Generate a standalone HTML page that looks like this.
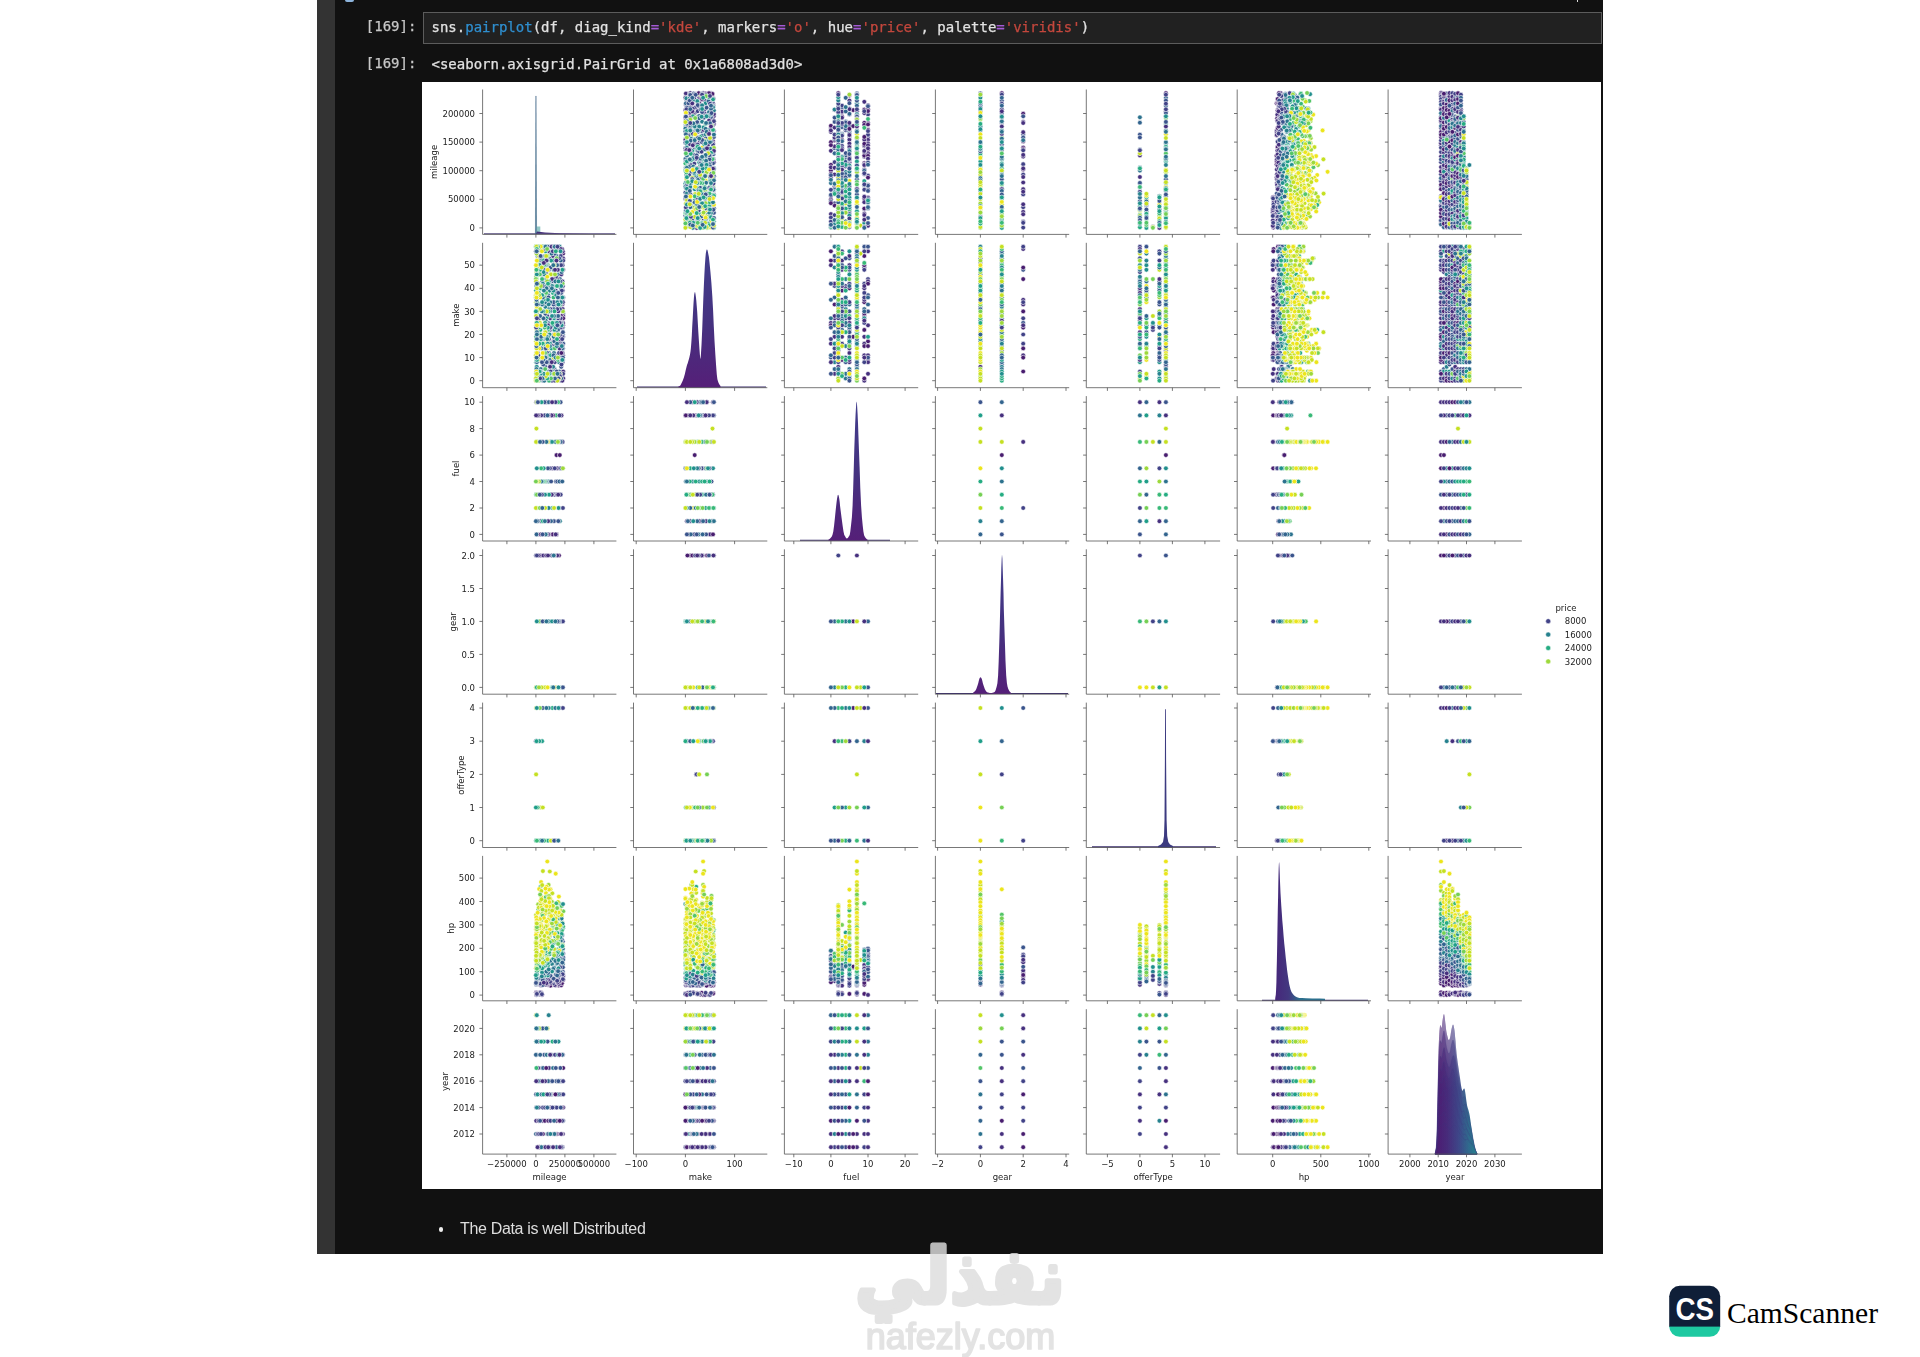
<!DOCTYPE html>
<html lang="en"><head><meta charset="utf-8"><title>pairplot</title>
<style>
html,body{margin:0;padding:0;background:#fff}
body{width:1920px;height:1357px;position:relative;overflow:hidden;font-family:"Liberation Sans",sans-serif}
#frame{position:absolute;left:317px;top:0;width:1286px;height:1254px;background:#111}
#strip{position:absolute;left:0;top:0;width:18.2px;height:1254px;background:#333}
#wdot{position:absolute;left:1259.6px;top:0;width:1.6px;height:2.2px;background:#ddd}
#bluetab{position:absolute;left:28.4px;top:0;width:8.4px;height:1.6px;background:#8db4dc;border-radius:0 0 2px 2px}
.mono{font-family:"DejaVu Sans Mono","Liberation Mono",monospace;font-size:14px;line-height:18px;white-space:pre;color:#e2e2e2;-webkit-text-stroke:.25px currentColor}
.bl{filter:blur(.35px)}
#p1{position:absolute;left:48.8px;top:16.8px;color:#c8c8c8}
#p2{position:absolute;left:48.8px;top:54.4px;color:#c8c8c8}
#code{position:absolute;left:105.5px;top:12px;width:1177px;height:30px;border:1px solid #5c5c5c;background:#212121;box-sizing:content-box}
#code span.t{position:absolute;left:8px;top:5.4px}
.f{color:#2f8fd0}.o{color:#a45bd6}.s{color:#c4473d}
#out{position:absolute;left:114.5px;top:55px}
#plotwrap{position:absolute;left:105px;top:82px;width:1179.4px;height:1106.5px;background:#fff;overflow:hidden}
#plot{position:absolute;left:0;top:0;display:block;filter:blur(.55px)}
#md{position:absolute;left:143px;top:1219px;color:#dedede;font-size:16px;letter-spacing:-.33px;line-height:20px;white-space:nowrap}
#bul{position:absolute;left:121.6px;top:1227.4px;width:4.2px;height:4.2px;border-radius:50%;background:#eee}
#wm{position:absolute;left:820px;top:1225px;width:280px;height:132px;overflow:visible}
#cs{position:absolute;left:1660px;top:1280px}
</style></head><body>
<div id="frame">
 <div id="strip"></div><div id="bluetab"></div><div id="wdot"></div>
 <div id="p1" class="mono bl">[169]:</div>
 <div id="code" class="mono"><span class="t bl">sns.<span class="f">pairplot</span>(df, diag_kind<span class="o">=</span><span class="s">'kde'</span>, markers<span class="o">=</span><span class="s">'o'</span>, hue<span class="o">=</span><span class="s">'price'</span>, palette<span class="o">=</span><span class="s">'viridis'</span>)</span></div>
 <div id="p2" class="mono bl">[169]:</div>
 <div id="out" class="mono bl">&lt;seaborn.axisgrid.PairGrid at 0x1a6808ad3d0&gt;</div>
 <div id="plotwrap"><svg id="plot" width="1180" height="1107" viewBox="422 82 1180 1107">
<defs><marker id="m0" markerWidth="8" markerHeight="8" refX="4" refY="4" markerUnits="userSpaceOnUse"><circle cx="4" cy="4" r="2.35" fill="#481d6f" stroke="#fff" stroke-width=".6"/></marker><marker id="m1" markerWidth="8" markerHeight="8" refX="4" refY="4" markerUnits="userSpaceOnUse"><circle cx="4" cy="4" r="2.35" fill="#46307e" stroke="#fff" stroke-width=".6"/></marker><marker id="m2" markerWidth="8" markerHeight="8" refX="4" refY="4" markerUnits="userSpaceOnUse"><circle cx="4" cy="4" r="2.35" fill="#414287" stroke="#fff" stroke-width=".6"/></marker><marker id="m3" markerWidth="8" markerHeight="8" refX="4" refY="4" markerUnits="userSpaceOnUse"><circle cx="4" cy="4" r="2.35" fill="#3a548c" stroke="#fff" stroke-width=".6"/></marker><marker id="m4" markerWidth="8" markerHeight="8" refX="4" refY="4" markerUnits="userSpaceOnUse"><circle cx="4" cy="4" r="2.35" fill="#32648e" stroke="#fff" stroke-width=".6"/></marker><marker id="m5" markerWidth="8" markerHeight="8" refX="4" refY="4" markerUnits="userSpaceOnUse"><circle cx="4" cy="4" r="2.35" fill="#2c728e" stroke="#fff" stroke-width=".6"/></marker><marker id="m6" markerWidth="8" markerHeight="8" refX="4" refY="4" markerUnits="userSpaceOnUse"><circle cx="4" cy="4" r="2.35" fill="#26818e" stroke="#fff" stroke-width=".6"/></marker><marker id="m7" markerWidth="8" markerHeight="8" refX="4" refY="4" markerUnits="userSpaceOnUse"><circle cx="4" cy="4" r="2.35" fill="#218f8d" stroke="#fff" stroke-width=".6"/></marker><marker id="m8" markerWidth="8" markerHeight="8" refX="4" refY="4" markerUnits="userSpaceOnUse"><circle cx="4" cy="4" r="2.35" fill="#1f9e89" stroke="#fff" stroke-width=".6"/></marker><marker id="m9" markerWidth="8" markerHeight="8" refX="4" refY="4" markerUnits="userSpaceOnUse"><circle cx="4" cy="4" r="2.35" fill="#25ac82" stroke="#fff" stroke-width=".6"/></marker><marker id="m10" markerWidth="8" markerHeight="8" refX="4" refY="4" markerUnits="userSpaceOnUse"><circle cx="4" cy="4" r="2.35" fill="#38b977" stroke="#fff" stroke-width=".6"/></marker><marker id="m11" markerWidth="8" markerHeight="8" refX="4" refY="4" markerUnits="userSpaceOnUse"><circle cx="4" cy="4" r="2.35" fill="#54c568" stroke="#fff" stroke-width=".6"/></marker><marker id="m12" markerWidth="8" markerHeight="8" refX="4" refY="4" markerUnits="userSpaceOnUse"><circle cx="4" cy="4" r="2.35" fill="#75d054" stroke="#fff" stroke-width=".6"/></marker><marker id="m13" markerWidth="8" markerHeight="8" refX="4" refY="4" markerUnits="userSpaceOnUse"><circle cx="4" cy="4" r="2.35" fill="#9dd93b" stroke="#fff" stroke-width=".6"/></marker><marker id="m14" markerWidth="8" markerHeight="8" refX="4" refY="4" markerUnits="userSpaceOnUse"><circle cx="4" cy="4" r="2.35" fill="#c5e021" stroke="#fff" stroke-width=".6"/></marker><marker id="m15" markerWidth="8" markerHeight="8" refX="4" refY="4" markerUnits="userSpaceOnUse"><circle cx="4" cy="4" r="2.35" fill="#ece51b" stroke="#fff" stroke-width=".6"/></marker></defs>
<style>.m0{marker:url(#m0)}.m1{marker:url(#m1)}.m2{marker:url(#m2)}.m3{marker:url(#m3)}.m4{marker:url(#m4)}.m5{marker:url(#m5)}.m6{marker:url(#m6)}.m7{marker:url(#m7)}.m8{marker:url(#m8)}.m9{marker:url(#m9)}.m10{marker:url(#m10)}.m11{marker:url(#m11)}.m12{marker:url(#m12)}.m13{marker:url(#m13)}.m14{marker:url(#m14)}.m15{marker:url(#m15)} polyline{fill:none;stroke:none} #plot text{font-family:"DejaVu Sans","Liberation Sans",sans-serif;font-size:8.5px;fill:#222}</style>
<defs>
<linearGradient id="gv" x1="0" y1="0" x2="0" y2="1"><stop offset="0" stop-color="#413d8c"/><stop offset=".55" stop-color="#45317f"/><stop offset="1" stop-color="#551f78"/></linearGradient>
<linearGradient id="gy" gradientUnits="userSpaceOnUse" x1="1437" y1="0" x2="1477" y2="0"><stop offset="0" stop-color="#4b1c72"/><stop offset=".25" stop-color="#472a7a"/><stop offset=".55" stop-color="#3d4788"/><stop offset=".8" stop-color="#2f6a8d"/><stop offset="1" stop-color="#26838e"/></linearGradient>
<linearGradient id="gw" gradientUnits="userSpaceOnUse" x1="0" y1="1010" x2="0" y2="1155"><stop offset="0" stop-color="#fff" stop-opacity=".46"/><stop offset=".3" stop-color="#fff" stop-opacity=".3"/><stop offset=".55" stop-color="#fff" stop-opacity=".06"/><stop offset="1" stop-color="#fff" stop-opacity="0"/></linearGradient>
<linearGradient id="gh" gradientUnits="userSpaceOnUse" x1="1275" y1="0" x2="1300" y2="0"><stop offset="0" stop-color="#46267a"/><stop offset=".55" stop-color="#433880"/><stop offset="1" stop-color="#2c6f8d"/></linearGradient>
</defs>
<path d="M484 233.8H615" stroke="#3a2d6c" stroke-width=".9" fill="none"/>
<path d="M535.4 233.8L535.8 96L536.1 96L536.6 233.8Z" fill="#2f6a86" stroke="#3a5a80" stroke-width=".35"/>
<path d="M536.6 233.8V226.5H540.3V233.8Z" fill="#3a9a98" fill-opacity=".55"/>
<path d="M536 233.8L537 231.6L545 232.4L560 233.2L590 233.8Z" fill="#452f78"/>
<path d="M637 387H766" stroke="#3a2d6c" stroke-width="1.1" fill="none"/>
<path d="M678.5 387.5L678.5 386.3L679 386.3L679.7 386.1L680.5 385.2L681.5 383.3L682.7 380.7L683.8 377.7L684.8 374.2L685.7 370.3L686.5 367L687.1 364.8L687.7 363.3L688.2 361.5L688.8 359.4L689.4 357.2L690 354.5L690.5 351.5L690.9 348L691.3 343L691.8 335.6L692.2 326.8L692.7 318.4L693.1 310.8L693.5 303.6L693.9 298L694.2 294.6L694.6 292.7L694.9 292.1L695.2 292.6L695.5 294.2L695.9 297L696.3 300.6L696.7 305.4L697.2 311.7L697.7 320.7L698.3 331.4L698.9 340.8L699.4 348.6L699.9 355.1L700.3 358.7L700.6 358.2L700.9 354.8L701.2 350L701.5 345L701.8 338.6L702.2 329.6L702.7 315.8L703.3 299.3L703.9 284.8L704.4 273.9L704.9 264.9L705.4 258L705.8 253.4L706.3 250.8L706.7 249.5L707.1 249.4L707.6 250.6L708 252.5L708.4 254.4L708.9 257.1L709.5 262.4L710.4 271.4L711.4 283.1L712.3 296L713.1 310.5L713.8 326.3L714.5 340.8L715.3 353.8L716.1 365.5L716.8 374.4L717.4 379.2L717.9 381.1L718.4 382.5L719.1 384.1L719.9 385.3L720.5 386L720.5 387.5Z" fill="url(#gv)" />
<path d="M800 540.3H890" stroke="#3a2d6c" stroke-width="1.1" fill="none"/>
<path d="M828.5 540.8L828.5 539.6L829.2 539.2L830.1 538.6L831 537.5L831.8 536.4L832.5 534.8L833.3 531.6L834.1 525.5L834.9 517.9L835.6 511.1L836.1 506.2L836.6 502.1L837 499L837.4 496.7L837.7 495.2L838.1 494.7L838.5 495.2L838.9 496.7L839.3 499L839.7 502.1L840.1 506.2L840.7 511.1L841.6 517.9L842.6 525.6L843.5 531.6L844.2 534.7L844.9 536.1L845.5 537L846 537.9L846.4 538.3L846.9 538.4L847.4 538.2L848 537.7L848.6 536.8L849.1 536.1L849.7 535L850.3 531.6L851 525.6L851.9 517.2L852.6 505.5L853.2 488L853.8 467.1L854.3 448.7L854.8 434.7L855.2 423.1L855.6 414L856 407.3L856.3 403.1L856.6 401.6L856.9 403.1L857.2 407.3L857.6 414L858 423.1L858.4 434.7L858.9 448.7L859.6 467.1L860.3 488L861.1 505.5L861.9 517.2L862.7 525.5L863.4 531.6L864.1 535.2L864.7 536.6L865.3 537.6L866.1 538.6L866.9 539.2L867.5 539.6L867.5 540.8Z" fill="url(#gv)" />
<path d="M936 693.5H1068" stroke="#3a2d6c" stroke-width="1.2" fill="none"/>
<path d="M973 694L973 692.8L973.7 692.3L974.6 691.6L975.5 690.5L976.3 688.9L977 687L977.7 685L978.3 682.9L978.8 680.7L979.3 679L979.7 678L980.1 677.4L980.5 677.2L980.9 677.4L981.3 678L981.8 679L982.3 680.7L982.8 682.9L983.4 685L984.1 687L984.8 688.9L985.6 690.5L986.3 691.5L987 692.2L988 692.6L989.7 692.9L991.8 692.9L993.5 692.6L994.6 692L995.3 691.1L996 689L996.7 686.6L997.4 683.2L998.1 675.5L998.7 661L999.3 642.3L999.8 624.4L1000.2 608.4L1000.6 593.1L1001 580L1001.3 568.2L1001.7 558.6L1002 554.6L1002.4 558.6L1002.7 568.2L1003.1 580L1003.5 593.1L1003.8 608.4L1004.3 624.4L1004.9 642.3L1005.5 661L1006.2 675.5L1006.9 683.1L1007.5 686.6L1008.3 689L1009.3 691.1L1010.3 692.2L1011 692.8L1011 694Z" fill="url(#gv)" />
<path d="M1092 846.9H1216" stroke="#3a2d6c" stroke-width="1.1" fill="none"/>
<path d="M1158 847.4L1158 846L1161 844.6L1163 842L1164 836L1164.5 820L1164.9 760L1165.1 709.3L1165.9 709.3L1166.1 760L1166.6 820L1167.2 836L1168.3 842L1170 844.6L1173 846L1173 847.4Z" fill="#3c3a80" />
<path d="M1262 1000.2H1368" stroke="#3a2d6c" stroke-width="1.1" fill="none"/>
<path d="M1275.2 1000.7L1275.2 998.5L1275.4 997.1L1275.8 994.7L1276.1 990L1276.4 982.3L1276.6 972.3L1276.9 960L1277.2 944.3L1277.5 926.3L1277.8 910L1278.1 896.4L1278.3 884.5L1278.5 875L1278.7 868.1L1278.9 863.7L1279.1 862L1279.3 863.6L1279.5 867.8L1279.7 873L1279.9 879L1280.2 886L1280.5 893L1280.9 899.5L1281.3 906L1281.8 912.9L1282.3 920.4L1283 928.2L1283.6 936L1284.3 943.7L1285.1 951.2L1285.8 958.2L1286.5 964.4L1287.1 969.9L1287.8 975L1288.5 979.8L1289.2 984.1L1290 987.6L1290.7 990.1L1291.5 991.9L1292.5 993.5L1293.7 995L1295.1 996.3L1297 997.3L1299.3 997.9L1302.1 998.1L1306 998.3L1312.3 998.5L1319.7 998.6L1325 998.7L1325 1000.7Z" fill="url(#gh)" />
<path d="M1435.2 1154.2L1435.2 1153L1435.6 1150.6L1436.2 1146.8L1436.7 1140L1437 1129L1437.3 1115.1L1437.6 1100L1437.9 1083.1L1438.2 1065.1L1438.6 1050L1439 1039.1L1439.5 1031.1L1440 1026L1440.5 1025.1L1441.1 1027.2L1441.6 1028L1442 1025.7L1442.4 1022.1L1442.8 1019L1443.2 1016.6L1443.6 1014.7L1444 1014L1444.3 1015.1L1444.7 1017.4L1445 1020L1445.3 1022.9L1445.7 1026.1L1446 1029L1446.3 1031.2L1446.6 1033L1447 1034.8L1447.5 1036.8L1448 1038.8L1448.5 1040L1449 1040.1L1449.5 1039.4L1450 1038L1450.5 1035.7L1450.9 1032.7L1451.4 1030L1451.9 1027.6L1452.5 1025.4L1453 1024.5L1453.5 1025.3L1454 1027.4L1454.4 1030L1454.8 1033.2L1455.1 1037L1455.5 1041L1455.8 1045.2L1456.2 1049.6L1456.6 1053.9L1457.1 1058L1457.6 1062L1458.2 1066L1458.8 1070.1L1459.4 1074.2L1460 1078L1460.5 1081.7L1461 1085.3L1461.5 1088L1461.9 1089.6L1462.2 1090.5L1462.5 1090.8L1462.9 1090.5L1463.2 1089.6L1463.6 1089L1464 1088.6L1464.3 1088.5L1464.7 1089.3L1465.1 1091.6L1465.6 1094.8L1466 1098L1466.4 1100.9L1466.8 1103.7L1467.2 1106L1467.6 1107.6L1468 1108.7L1468.4 1110L1468.8 1111.6L1469.3 1113.5L1469.8 1116L1470.3 1119.4L1470.8 1123.4L1471.4 1127.6L1472.1 1132.1L1472.8 1136.9L1473.5 1141L1474.1 1144.2L1474.7 1146.8L1475.3 1149L1475.9 1150.8L1476.6 1152.1L1477 1153L1477 1154.2Z" fill="url(#gy)" />
<path d="M1435.2 1154.2L1435.2 1153L1435.6 1150.6L1436.2 1146.8L1436.7 1140L1437 1129L1437.3 1115.1L1437.6 1100L1437.9 1083.1L1438.2 1065.1L1438.6 1050L1439 1039.1L1439.5 1031.1L1440 1026L1440.5 1025.1L1441.1 1027.2L1441.6 1028L1442 1025.7L1442.4 1022.1L1442.8 1019L1443.2 1016.6L1443.6 1014.7L1444 1014L1444.3 1015.1L1444.7 1017.4L1445 1020L1445.3 1022.9L1445.7 1026.1L1446 1029L1446.3 1031.2L1446.6 1033L1447 1034.8L1447.5 1036.8L1448 1038.8L1448.5 1040L1449 1040.1L1449.5 1039.4L1450 1038L1450.5 1035.7L1450.9 1032.7L1451.4 1030L1451.9 1027.6L1452.5 1025.4L1453 1024.5L1453.5 1025.3L1454 1027.4L1454.4 1030L1454.8 1033.2L1455.1 1037L1455.5 1041L1455.8 1045.2L1456.2 1049.6L1456.6 1053.9L1457.1 1058L1457.6 1062L1458.2 1066L1458.8 1070.1L1459.4 1074.2L1460 1078L1460.5 1081.7L1461 1085.3L1461.5 1088L1461.9 1089.6L1462.2 1090.5L1462.5 1090.8L1462.9 1090.5L1463.2 1089.6L1463.6 1089L1464 1088.6L1464.3 1088.5L1464.7 1089.3L1465.1 1091.6L1465.6 1094.8L1466 1098L1466.4 1100.9L1466.8 1103.7L1467.2 1106L1467.6 1107.6L1468 1108.7L1468.4 1110L1468.8 1111.6L1469.3 1113.5L1469.8 1116L1470.3 1119.4L1470.8 1123.4L1471.4 1127.6L1472.1 1132.1L1472.8 1136.9L1473.5 1141L1474.1 1144.2L1474.7 1146.8L1475.3 1149L1475.9 1150.8L1476.6 1152.1L1477 1153L1477 1154.2Z" fill="url(#gw)" />
<path d="M1435.2 1154.2L1435.2 1153.7L1435.6 1151.4L1436.2 1147.6L1436.7 1141.6L1437 1132L1437.3 1119.7L1437.6 1106.4L1437.9 1091.6L1438.2 1075.7L1438.6 1062.4L1439 1052.9L1439.5 1045.8L1440 1041.3L1440.5 1040.6L1441.1 1042.4L1441.6 1043.1L1442 1041L1442.4 1037.9L1442.8 1035.2L1443.2 1033.1L1443.6 1031.4L1444 1030.8L1444.3 1031.7L1444.7 1033.7L1445 1036L1445.3 1038.6L1445.7 1041.4L1446 1044L1446.3 1045.9L1446.6 1047.5L1447 1049.1L1447.5 1050.9L1448 1052.6L1448.5 1053.6L1449 1053.7L1449.5 1053.1L1450 1051.9L1450.5 1049.8L1450.9 1047.2L1451.4 1044.8L1451.9 1042.7L1452.5 1040.8L1453 1040L1453.5 1040.7L1454 1042.5L1454.4 1044.8L1454.8 1047.6L1455.1 1051L1455.5 1054.5L1455.8 1058.2L1456.2 1062.1L1456.6 1065.9L1457.1 1069.5L1457.6 1073L1458.2 1076.5L1458.8 1080.1L1459.4 1083.7L1460 1087.1L1460.5 1090.4L1461 1093.5L1461.5 1095.9L1461.9 1097.3L1462.2 1098.1L1462.5 1098.3L1462.9 1098L1463.2 1097.3L1463.6 1096.8L1464 1096.4L1464.3 1096.3L1464.7 1097L1465.1 1099.1L1465.6 1101.9L1466 1104.7L1466.4 1107.2L1466.8 1109.7L1467.2 1111.7L1467.6 1113.1L1468 1114.1L1468.4 1115.2L1468.8 1116.7L1469.3 1118.3L1469.8 1120.5L1470.3 1123.5L1470.8 1127L1471.4 1130.7L1472.1 1134.7L1472.8 1138.9L1473.5 1142.5L1474.1 1145.4L1474.7 1147.7L1475.3 1149.8L1475.9 1151.6L1476.6 1152.9L1477 1153.7L1477 1154.2Z" fill="url(#gy)" fill-opacity=".5" stroke="#3d3a80" stroke-opacity=".45" stroke-width=".5"/>
<path d="M1435.2 1154.2L1435.2 1153.7L1435.6 1151.4L1436.2 1148.5L1436.7 1143.3L1437 1135L1437.3 1124.3L1437.6 1112.9L1437.9 1100L1438.2 1086.4L1438.6 1074.9L1439 1066.6L1439.5 1060.5L1440 1056.6L1440.5 1056L1441.1 1057.5L1441.6 1058.2L1442.1 1056.4L1442.5 1053.7L1442.9 1051.3L1443.3 1049.5L1443.7 1048.1L1444.1 1047.5L1444.5 1048.3L1444.8 1050.1L1445.1 1052.1L1445.5 1054.3L1445.8 1056.7L1446.2 1058.9L1446.5 1060.6L1446.8 1062L1447.2 1063.3L1447.7 1064.9L1448.2 1066.4L1448.7 1067.3L1449.3 1067.4L1449.8 1066.8L1450.3 1065.8L1450.8 1064L1451.2 1061.7L1451.7 1059.7L1452.3 1057.8L1452.8 1056.2L1453.4 1055.5L1453.9 1056.1L1454.4 1057.7L1454.8 1059.7L1455.2 1062.1L1455.6 1065L1455.9 1068L1456.3 1071.2L1456.6 1074.6L1457.1 1077.8L1457.6 1081L1458.1 1084L1458.7 1087L1459.3 1090.1L1460 1093.2L1460.6 1096.2L1461.1 1099L1461.6 1101.7L1462.1 1103.8L1462.5 1105L1462.8 1105.6L1463.1 1105.9L1463.5 1105.6L1463.9 1105L1464.3 1104.5L1464.6 1104.2L1465 1104.1L1465.4 1104.8L1465.8 1106.5L1466.3 1109L1466.7 1111.4L1467.1 1113.5L1467.5 1115.7L1468 1117.4L1468.4 1118.6L1468.8 1119.5L1469.2 1120.5L1469.6 1121.7L1470.1 1123.2L1470.6 1125L1471.1 1127.6L1471.7 1130.7L1472.3 1134.2L1473 1138.6L1473.7 1142.9L1474.4 1146.4L1475.1 1149L1475.7 1150.9L1476.3 1152.3L1476.9 1153.7L1477 1153.7L1477 1153.7L1477 1154.2Z" fill="url(#gy)" fill-opacity=".5" stroke="#3d3a80" stroke-opacity=".45" stroke-width=".5"/>
<path d="M1435.2 1154.2L1435.2 1153.7L1435.6 1151.7L1436.2 1149.1L1436.7 1144.7L1437 1137.4L1437.3 1128.2L1437.6 1118.3L1437.9 1107.1L1438.2 1095.2L1438.6 1085.3L1439 1078.1L1439.5 1072.8L1440 1069.4L1440.5 1068.8L1441.1 1070.2L1441.6 1070.7L1442 1069.2L1442.4 1066.8L1442.8 1064.8L1443.2 1063.2L1443.6 1062L1444 1061.5L1444.3 1062.2L1444.6 1063.7L1444.9 1065.5L1445.3 1067.4L1445.6 1069.5L1445.9 1071.4L1446.2 1072.8L1446.6 1074.1L1446.9 1075.2L1447.4 1076.6L1447.9 1077.9L1448.4 1078.7L1448.9 1078.7L1449.4 1078.2L1449.9 1077.3L1450.4 1075.8L1450.8 1073.8L1451.3 1072.1L1451.8 1070.5L1452.3 1069L1452.9 1068.4L1453.3 1069L1453.8 1070.3L1454.2 1072.1L1454.6 1074.2L1455 1076.7L1455.3 1079.3L1455.7 1082.1L1456 1085L1456.4 1087.8L1456.9 1090.5L1457.4 1093.2L1458 1095.8L1458.6 1098.5L1459.2 1101.2L1459.8 1103.7L1460.3 1106.2L1460.8 1108.5L1461.3 1110.3L1461.6 1111.4L1461.9 1112L1462.2 1112.2L1462.6 1112L1463 1111.4L1463.3 1111L1463.7 1110.7L1464 1110.7L1464.4 1111.2L1464.8 1112.7L1465.3 1114.8L1465.7 1116.9L1466.1 1118.8L1466.5 1120.7L1466.9 1122.2L1467.3 1123.2L1467.7 1124L1468.1 1124.9L1468.5 1125.9L1469 1127.2L1469.5 1128.8L1470 1131L1470.5 1133.7L1471.1 1136.5L1471.7 1139.5L1472.4 1142.6L1473.1 1145.3L1473.7 1147.4L1474.3 1149.2L1474.9 1150.6L1475.5 1151.8L1476.2 1152.6L1476.6 1153.2L1476.6 1154.2Z" fill="url(#gy)" fill-opacity=".5" stroke="#3d3a80" stroke-opacity=".45" stroke-width=".5"/>
<path d="M1435.2 1154.2L1435.2 1153.7L1435.6 1152L1436.2 1149.8L1436.7 1146L1437 1139.9L1437.3 1132.1L1437.6 1123.6L1437.9 1114.2L1438.2 1104.1L1438.6 1095.6L1439 1089.5L1439.5 1085L1440 1082.2L1440.6 1081.7L1441.1 1082.8L1441.7 1083.3L1442.1 1082L1442.5 1080L1443 1078.3L1443.4 1076.9L1443.8 1075.9L1444.2 1075.5L1444.6 1076.1L1444.9 1077.3L1445.3 1078.8L1445.6 1080.4L1446 1082.2L1446.3 1083.9L1446.7 1085.1L1447 1086.1L1447.4 1087.1L1447.9 1088.3L1448.4 1089.4L1449 1090L1449.5 1090.1L1450 1089.7L1450.6 1088.9L1451 1087.6L1451.5 1085.9L1452 1084.4L1452.6 1083.1L1453.2 1081.9L1453.7 1081.3L1454.2 1081.8L1454.7 1082.9L1455.2 1084.4L1455.6 1086.2L1456 1088.3L1456.4 1090.6L1456.7 1092.9L1457.1 1095.4L1457.5 1097.8L1458 1100.1L1458.6 1102.3L1459.2 1104.6L1459.8 1106.9L1460.5 1109.1L1461.1 1111.3L1461.7 1113.4L1462.2 1115.4L1462.7 1116.9L1463.1 1117.8L1463.4 1118.3L1463.8 1118.5L1464.1 1118.3L1464.5 1117.8L1464.9 1117.5L1465.3 1117.3L1465.7 1117.2L1466.1 1117.6L1466.5 1118.9L1467 1120.7L1467.4 1122.5L1467.9 1124.1L1468.3 1125.7L1468.7 1127L1469.1 1127.9L1469.5 1128.5L1470 1129.2L1470.4 1130.1L1470.9 1131.2L1471.5 1132.6L1472 1134.5L1472.5 1136.7L1473.1 1139.7L1473.9 1143.6L1474.6 1147.2L1475.4 1150L1476 1151.8L1476.6 1153.1L1477 1153.7L1477 1153.7L1477 1153.7L1477 1153.7L1477 1154.2Z" fill="url(#gy)" fill-opacity=".5" stroke="#3d3a80" stroke-opacity=".45" stroke-width=".5"/>
<path d="M1435.2 1154.2L1435.2 1153.7L1435.6 1152.3L1436.2 1150.5L1436.7 1147.4L1437 1142.3L1437.3 1135.9L1437.6 1129L1437.9 1121.2L1438.2 1112.9L1438.6 1106L1439 1101L1439.5 1097.3L1440 1094.9L1440.5 1094.6L1441.1 1095.5L1441.6 1095.9L1442.1 1094.8L1442.5 1093.2L1442.8 1091.7L1443.3 1090.6L1443.7 1089.8L1444.1 1089.4L1444.4 1089.9L1444.8 1091L1445.1 1092.2L1445.4 1093.5L1445.8 1095L1446.1 1096.3L1446.4 1097.3L1446.7 1098.2L1447.1 1099L1447.6 1099.9L1448.1 1100.8L1448.6 1101.4L1449.2 1101.4L1449.7 1101.1L1450.2 1100.5L1450.6 1099.4L1451.1 1098L1451.6 1096.8L1452.1 1095.7L1452.7 1094.7L1453.2 1094.3L1453.7 1094.6L1454.2 1095.6L1454.6 1096.8L1455 1098.3L1455.4 1100L1455.8 1101.8L1456.1 1103.8L1456.5 1105.8L1456.9 1107.8L1457.4 1109.7L1457.9 1111.5L1458.5 1113.3L1459.1 1115.2L1459.7 1117.1L1460.3 1118.9L1460.9 1120.6L1461.4 1122.2L1461.9 1123.5L1462.2 1124.2L1462.5 1124.6L1462.9 1124.8L1463.2 1124.6L1463.6 1124.2L1464 1123.9L1464.4 1123.8L1464.7 1123.7L1465.1 1124.1L1465.5 1125.1L1466 1126.6L1466.4 1128.1L1466.8 1129.4L1467.3 1130.7L1467.7 1131.7L1468.1 1132.5L1468.5 1133L1468.9 1133.6L1469.3 1134.3L1469.8 1135.2L1470.3 1136.3L1470.8 1137.9L1471.3 1139.7L1471.9 1141.7L1472.6 1143.8L1473.4 1145.9L1474.1 1147.8L1474.7 1149.3L1475.3 1150.5L1475.9 1151.5L1476.5 1152.9L1477 1153.7L1477 1153.7L1477 1154.2Z" fill="url(#gy)" fill-opacity=".5" stroke="#3d3a80" stroke-opacity=".45" stroke-width=".5"/>
<path d="M1435.2 1154.2L1435.2 1153.7L1435.6 1152.5L1436.2 1151.1L1436.7 1148.5L1437 1144.3L1437.3 1139L1437.6 1133.3L1437.9 1126.9L1438.2 1120L1438.6 1114.3L1439 1110.1L1439.5 1107.1L1440 1105.2L1440.6 1104.8L1441.2 1105.6L1441.7 1105.9L1442.2 1105L1442.6 1103.7L1443 1102.5L1443.5 1101.6L1443.9 1100.9L1444.4 1100.6L1444.7 1101L1445.1 1101.9L1445.4 1102.9L1445.8 1104L1446.2 1105.2L1446.5 1106.3L1446.9 1107.1L1447.2 1107.8L1447.6 1108.5L1448.1 1109.3L1448.7 1110L1449.3 1110.5L1449.8 1110.5L1450.4 1110.2L1450.9 1109.7L1451.4 1108.8L1451.9 1107.7L1452.4 1106.7L1453 1105.8L1453.6 1104.9L1454.2 1104.6L1454.7 1104.9L1455.2 1105.7L1455.7 1106.7L1456.1 1107.9L1456.5 1109.3L1456.9 1110.9L1457.3 1112.5L1457.6 1114.1L1458.1 1115.8L1458.6 1117.3L1459.2 1118.8L1459.8 1120.4L1460.5 1121.9L1461.1 1123.5L1461.8 1124.9L1462.4 1126.3L1462.9 1127.7L1463.4 1128.7L1463.8 1129.3L1464.1 1129.7L1464.5 1129.8L1464.9 1129.7L1465.3 1129.3L1465.7 1129.1L1466.1 1129L1466.5 1128.9L1466.9 1129.2L1467.4 1130.1L1467.8 1131.3L1468.3 1132.5L1468.8 1133.6L1469.2 1134.7L1469.6 1135.6L1470 1136.2L1470.5 1136.6L1470.9 1137.1L1471.4 1137.7L1471.9 1138.4L1472.4 1139.4L1473 1140.6L1473.6 1142.2L1474.2 1145.3L1474.9 1148.4L1475.7 1151L1476.5 1152.7L1477 1153.7L1477 1153.7L1477 1153.7L1477 1153.7L1477 1153.7L1477 1153.7L1477 1154.2Z" fill="url(#gy)" fill-opacity=".5" stroke="#3d3a80" stroke-opacity=".45" stroke-width=".5"/>
<path d="M1435.2 1154.2L1435.2 1153.7L1435.6 1152.8L1436.2 1151.6L1436.7 1149.6L1437 1146.3L1437.3 1142.1L1437.6 1137.6L1437.9 1132.5L1438.2 1127.1L1438.6 1122.6L1439 1119.3L1439.5 1116.9L1440 1115.4L1440.6 1115.1L1441.1 1115.7L1441.7 1116L1442.1 1115.3L1442.5 1114.2L1442.9 1113.3L1443.3 1112.6L1443.8 1112L1444.2 1111.8L1444.5 1112.1L1444.9 1112.8L1445.2 1113.6L1445.5 1114.4L1445.9 1115.4L1446.2 1116.3L1446.6 1116.9L1446.9 1117.5L1447.3 1118L1447.8 1118.6L1448.3 1119.2L1448.8 1119.6L1449.4 1119.6L1449.9 1119.4L1450.4 1119L1450.9 1118.3L1451.3 1117.4L1451.8 1116.6L1452.4 1115.8L1453 1115.2L1453.5 1114.9L1454 1115.2L1454.5 1115.8L1455 1116.6L1455.4 1117.5L1455.7 1118.7L1456.1 1119.9L1456.5 1121.1L1456.8 1122.5L1457.2 1123.7L1457.8 1125L1458.3 1126.2L1458.9 1127.4L1459.5 1128.6L1460.2 1129.8L1460.8 1131L1461.3 1132.1L1461.9 1133.2L1462.3 1134L1462.7 1134.5L1463 1134.7L1463.4 1134.8L1463.7 1134.7L1464.1 1134.5L1464.5 1134.3L1464.9 1134.2L1465.3 1134.1L1465.7 1134.4L1466.1 1135.1L1466.6 1136L1467 1137L1467.4 1137.8L1467.8 1138.7L1468.3 1139.4L1468.7 1139.8L1469.1 1140.2L1469.5 1140.6L1470 1141.1L1470.5 1141.6L1471 1142.4L1471.5 1143.4L1472 1144.6L1472.6 1145.9L1473.3 1147.2L1474.1 1148.6L1474.8 1149.9L1475.5 1150.8L1476.1 1151.9L1476.7 1153.1L1477 1153.7L1477 1153.7L1477 1153.7L1477 1154.2Z" fill="url(#gy)" fill-opacity=".5" stroke="#3d3a80" stroke-opacity=".45" stroke-width=".5"/>
<path d="M1435.2 1154.2L1435.2 1153.7L1435.6 1153L1436.2 1152.2L1436.7 1150.7L1437 1148.3L1437.3 1145.2L1437.6 1141.9L1437.9 1138.2L1438.2 1134.2L1438.6 1130.9L1439 1128.5L1439.5 1126.7L1440 1125.6L1440.6 1125.4L1441.2 1125.9L1441.8 1126L1442.3 1125.5L1442.7 1124.7L1443.1 1124.1L1443.6 1123.5L1444 1123.1L1444.5 1123L1444.9 1123.2L1445.2 1123.7L1445.6 1124.3L1446 1124.9L1446.3 1125.6L1446.7 1126.3L1447.1 1126.7L1447.4 1127.1L1447.8 1127.5L1448.3 1128L1448.9 1128.4L1449.5 1128.7L1450.1 1128.7L1450.6 1128.5L1451.2 1128.2L1451.7 1127.7L1452.2 1127.1L1452.7 1126.5L1453.3 1125.9L1453.9 1125.5L1454.5 1125.3L1455.1 1125.4L1455.6 1125.9L1456.1 1126.5L1456.5 1127.2L1456.9 1128L1457.3 1128.9L1457.7 1129.8L1458.1 1130.8L1458.5 1131.7L1459.1 1132.6L1459.7 1133.5L1460.3 1134.4L1461 1135.3L1461.7 1136.2L1462.3 1137L1462.9 1137.9L1463.5 1138.6L1464 1139.2L1464.4 1139.6L1464.8 1139.8L1465.1 1139.8L1465.5 1139.8L1465.9 1139.6L1466.4 1139.5L1466.8 1139.4L1467.2 1139.3L1467.6 1139.5L1468.1 1140L1468.5 1140.7L1469 1141.4L1469.5 1142.1L1469.9 1142.7L1470.4 1143.2L1470.8 1143.5L1471.3 1143.8L1471.7 1144.1L1472.2 1144.4L1472.7 1144.8L1473.3 1145.4L1473.8 1146.1L1474.4 1147L1475.1 1148.9L1475.8 1151.2L1476.6 1153L1477 1153.7L1477 1153.7L1477 1153.7L1477 1153.7L1477 1153.7L1477 1153.7L1477 1153.7L1477 1154.2Z" fill="url(#gy)" fill-opacity=".5" stroke="#3d3a80" stroke-opacity=".45" stroke-width=".5"/>
<g id="sc"><polyline class="m12" points="705.1,139.5"/><polyline class="m2" points="713,103.4 694.7,93.9 713.4,159.2 711,93.2 704.1,110.3 686.9,93.8 685.9,124.4 694.7,113.6 694.3,98.2 695.2,107.5"/><polyline class="m1" points="713.9,116.1 713.4,98.6 713.9,130.8 685.9,93.5 711.5,94 713.4,105.5 685.4,97.7 690.3,93 699.2,97.9 713.9,162.6 713.9,114.1 713.9,124.1 713,125.3 703.1,93 713,119.9 686.9,100.3 685.4,139.7 713,141.1 699.2,100 685.9,105.1 713,143.3 693.3,114.7 686.9,105.5 702.1,99.8 705.1,114 710.5,118.2"/><polyline class="m0" points="712.5,93.9 705.6,93.7 709,93.2 685.4,117.4 685.4,110 699.2,102.8"/><polyline class="m3" points="693.3,93.5 713.4,154.2 685.4,142.7 705.6,138.2 711,117 692.3,94.6 685.9,125 713.9,176.2"/><polyline class="m7" points="685.9,126.5 713,106.4"/><polyline class="m10" points="685.4,170"/><polyline class="m6" points="686.4,98.4 713.9,110.5 713,107.3 713.9,168"/><polyline class="m4" points="713,152.4 685.9,103.4 685.9,167.6"/><polyline class="m9" points="697.7,101.8"/><polyline class="m8" points="713,99.4"/><polyline class="m5" points="685.4,128.5 712,125.6 709,112.2"/><polyline class="m2" points="685.4,148.3 713,144.7 705.6,94.9 693.3,154.7 688.8,101.5 694.7,149.2 689.3,135.4 698.7,106.2 704.6,100.2 695.2,131.1 690.3,106.5 713.9,194.5 685.9,120.4 709,150.2 697.7,111.2"/><polyline class="m13" points="713.9,147.9 700.2,94.6 713.4,187.1"/><polyline class="m7" points="686.9,144.2 697.2,101.1 693.3,157.6 705.6,103.3 689.8,97.2"/><polyline class="m0" points="702.1,99.1 690.3,103.4 686.9,159.6 698.7,93.2 690.3,113.7"/><polyline class="m15" points="702.1,147.5"/><polyline class="m14" points="686.9,108.4 704.6,140.4"/><polyline class="m3" points="688.4,103.2 713.9,208.3 697.7,105.1 686.9,107.6 690.3,149.7 710,102.9 713,163.3 689.8,94.5 700.7,109.5 702.1,112.1 690.3,95"/><polyline class="m10" points="712.5,159.1"/><polyline class="m9" points="696.7,150.1"/><polyline class="m4" points="702.1,93.8 690.3,126.8 708.5,101.1 685.4,159 713.9,168.9 711,108.8 685.4,131.4 702.1,135.6"/><polyline class="m8" points="692.8,116.3 686.9,130.9 709,97.2"/><polyline class="m5" points="691.3,138.7 703.1,95 711,141.7 713.4,178"/><polyline class="m6" points="710,148.6 692.8,100.4"/><polyline class="m12" points="697.7,116.5 706.1,96.2"/><polyline class="m1" points="685.9,150.2 686.9,124.6 713.9,150.9"/><polyline class="m0" points="699.7,142.1"/><polyline class="m11" points="696.7,146"/><polyline class="m9" points="704.1,144.1 700.2,136.9"/><polyline class="m2" points="694.3,163.6 710,96 710,103.7 690.8,165.2 690.3,112.2 692.8,108.7 686.4,109.3 702.1,94.7 696.2,158.9 689.8,144.2 687.4,155"/><polyline class="m6" points="710,129.4 705.6,134.4 710,156.8 702.1,105.3 709,116 711,114.2 713.9,221.5 686.9,147.8 705.6,156.6 709,140.8"/><polyline class="m8" points="692.3,151.1 711,152.8 699.2,162.6"/><polyline class="m15" points="685.9,112.9"/><polyline class="m3" points="706.6,107.7 685.4,215.6 695.7,94.8 710,163.1 685.9,161.2 701.6,130.9 690.8,152.3 713.9,137 697.7,151 709.5,159.2 689.8,100.6 699.2,151.6 711.5,113.1"/><polyline class="m7" points="702.1,109 703.1,97.8 699.2,129.6"/><polyline class="m1" points="692.3,103.5 694.7,141.9 692.8,145.3 686.9,149.8 709,132.1 703.6,129.9 708,144.7 686.9,162.6 692.3,111.3"/><polyline class="m5" points="695.7,129 713.9,134.6 702.1,150.1 686.9,155.5 713.9,189.6 686.4,174.8"/><polyline class="m4" points="690.3,109.2 711,105.7 692.3,97.8 709.5,164.4"/><polyline class="m10" points="685.4,163.5 686.9,166.7"/><polyline class="m4" points="705.6,115.9 710,166.3 705.6,163.5 685.9,134.3 713,130.3 699.2,116 713,188 689.3,166.9 709.5,172.4 713.4,189.7 686.9,123.6 690.8,140.6"/><polyline class="m9" points="690.8,153.8 694.3,124 713,129.9 713,195 702.1,159.6"/><polyline class="m12" points="711.5,125.2"/><polyline class="m13" points="708,133.8"/><polyline class="m11" points="692.3,134.5 710,169.2"/><polyline class="m1" points="709,120.6 713,168.6"/><polyline class="m7" points="696.7,129.2 685.4,183.5 686.9,142.1 697.7,124.1 703.6,127.3 704.6,141.4"/><polyline class="m6" points="692.8,159.1 692.8,125 694.7,126.4 702.1,121.7 710,176.9"/><polyline class="m8" points="697.2,147.8 690.8,160.4 694.7,139.3 702.1,163.5 686.9,161.4"/><polyline class="m2" points="697.7,144.6 685.4,198.7 713.9,121.2 697.7,131.9 692.8,133.6 701.6,151.7 690.3,118.2"/><polyline class="m3" points="700.2,159.7 691.3,171.7 700.2,163.9 713.9,212.8 709.5,155.1 685.9,116.6 685.4,192.6 696.7,155.4 701.6,141.8 702.1,140 697.7,137.5 690.3,129.7"/><polyline class="m5" points="706.1,160.8 693.3,166.6 689.8,159.4 686.9,167.8 705.6,128.8 694.7,140.2 710,181.1"/><polyline class="m14" points="708,153.3"/><polyline class="m6" points="699.2,126.6 705.6,143.4 690.3,130.6 705.6,148.7 694.7,175.9 711,212.9"/><polyline class="m9" points="685.9,171.6 705.6,123.9 700.2,165.9 697.7,146.7 713.9,195.9"/><polyline class="m3" points="689.3,175.2 704.1,117.6 711.5,188 697.2,121.9 703.1,165.5 709,168.6"/><polyline class="m4" points="710,123.2 699.2,118.2 697.7,168.4"/><polyline class="m13" points="686.9,137.5 690.3,119.6"/><polyline class="m15" points="707.5,171.8 695.2,134.3 705.6,180.4"/><polyline class="m11" points="685.9,153.4 691.3,183.1"/><polyline class="m10" points="696.2,168.2 686.4,172.5 710,186.5"/><polyline class="m5" points="705.6,155 693.3,123.4 697.7,130.5 706.1,123 685.4,186.6 699.2,138.6 686.9,121.3 705.1,149.4 710,142.1 700.2,158.4 702.1,156.8 706.6,131.8 685.9,188.1 706.1,182.8"/><polyline class="m7" points="701.6,116.7 706.6,164.9 694.3,173.2 699.2,148.5 706.6,116.3 700.2,172.5 694.7,189.2"/><polyline class="m8" points="702.1,171.4 698.7,175.3"/><polyline class="m12" points="695.2,118.1"/><polyline class="m2" points="713.4,183.6 690.3,123 696.7,157.8"/><polyline class="m14" points="685.4,122.1 710,138 712,177 685.9,203.7"/><polyline class="m1" points="689.3,150.1 709,133.9 711,126.5 707,148.3 696.7,227.9"/><polyline class="m3" points="706.1,213.3 700.2,187.8 713.4,209.7 686.9,184 709,188 685.9,197.3 705.6,198.8 699.7,181.8 712,204.9"/><polyline class="m9" points="711,181.2 699.2,213.8 702.6,190.1 696.2,205.8 706.1,168.4 709,207.1"/><polyline class="m5" points="705.6,174.9 697.7,178.2 702.1,180.3 692.3,201.3 713.9,180.4 698.2,179.8"/><polyline class="m7" points="702.6,168.5 709,216.7 705.6,192.7 693.3,169.4"/><polyline class="m6" points="709,212.6 690.3,186.9 694.3,171.8 686.9,215.4 690.3,183 686.4,181.8 695.2,211.4"/><polyline class="m1" points="697.2,168.4 701.6,177.6"/><polyline class="m14" points="700.2,174.8 686.9,200 695.2,194.2 686.4,178.8"/><polyline class="m11" points="703.1,178.8"/><polyline class="m12" points="713.4,172.9"/><polyline class="m8" points="690.8,205.4 696.7,169 694.7,200.5 686.9,177.2 709,205.8"/><polyline class="m2" points="699.2,171.8 697.2,198.4 692.3,219.7"/><polyline class="m13" points="692.8,207.5 705.1,190.2 706.6,172.2"/><polyline class="m15" points="713.9,204.7 705.6,176.3 696.7,215.2 695.2,209.5 705.6,210.5"/><polyline class="m10" points="704.6,187 685.4,213 694.7,196.3 702.1,183.3 700.2,182.9 709.5,202.3 709.5,193.4 707,197.4 686.4,213.1"/><polyline class="m11" points="711,220.7 687.9,182 696.7,184.5 708,208.6"/><polyline class="m8" points="696.7,187.5 711,217.2 713.9,218.7 697.7,182.5"/><polyline class="m4" points="701.6,216.5 705.1,202.5 685.9,210.6 690.3,207.1 698.7,190.9 694.7,202.4"/><polyline class="m14" points="694.7,216.8 692.3,177.8 686.9,170.6 690.3,199.9 685.4,219.6"/><polyline class="m10" points="698.7,219.1 700.2,196.9"/><polyline class="m6" points="699.2,202.8 686.9,193.4 711,183.1 702.1,194 706.1,193.9 713,202.3 687.4,219.7 704.6,188.3"/><polyline class="m2" points="698.7,210.3 690.8,216.8 685.9,207.4"/><polyline class="m12" points="690.3,221.5"/><polyline class="m13" points="705.6,203.3 706.1,216.3"/><polyline class="m3" points="713.9,218 690.3,194.3 705.1,208.5 692.3,179.2 689.8,200.9 697.7,219.9"/><polyline class="m1" points="703.6,220.5 711,176.1 710.5,189.2"/><polyline class="m5" points="686.9,212.2 687.9,203.8 706.1,219 697.2,204.3"/><polyline class="m15" points="692.3,212 703.1,214 692.8,169.9 709,169.6 695.2,186.6 690.3,196.5 705.6,217.7 703.1,207.6"/><polyline class="m7" points="686.9,188.7 692.3,181.2 702.1,203.3 686.9,204.6 710,209.5 697.7,218.1 697.2,183"/><polyline class="m9" points="698.7,195.7 705.1,206.2"/><polyline class="m15" points="697.2,201.9 713,198.2 710,227.5 711,222.8"/><polyline class="m7" points="702.1,197.5 705.1,221.7 686.9,226.5 708,223.6"/><polyline class="m10" points="709,225.2 713.4,223.2 702.1,222.8"/><polyline class="m9" points="713,219.6 711,189.5 700.2,191.3 696.7,213.1 713.9,227.8 702.1,223.4 697.7,223.6"/><polyline class="m13" points="700.7,206.9 703.6,212.5 696.2,223.7 697.7,225.6"/><polyline class="m5" points="709.5,197.6 705.1,176.1 695.2,222.8"/><polyline class="m12" points="690.3,214 697.2,208.2 703.1,227.7 686.4,224.1 707,227.8"/><polyline class="m3" points="705.6,194.5 713,227.6"/><polyline class="m6" points="700.2,198.8 701.6,165 692.8,227.8 705.6,225.6"/><polyline class="m14" points="689.8,204.3 698.7,193.8 695.7,182.2 709.5,199.1 697.2,226.1 713.9,225.5 686.9,223.2 705.1,222.8 685.4,227.8 706.6,227.1 692.3,224.5 690.3,227 699.2,227"/><polyline class="m8" points="703.6,197.4 687.4,211.2 686.4,218.1 704.6,226.9 693.3,222.8 689.8,222.8 700.2,227.9"/><polyline class="m4" points="685.9,196.5 689.8,190.9 699.2,207 690.3,224.6 702.6,224.8 713,224.1 692.8,225.5"/><polyline class="m11" points="685.4,223.4 697.7,222.8"/>
<polyline class="m2" points="845.7,130.2 868,137 849.4,114.5 864.3,209.1 868,114.5 845.7,166.5 868,175.5 868,134.7"/><polyline class="m5" points="845.7,221.4"/><polyline class="m1" points="830.9,150.8 834.6,110 864.3,156.7 849.4,100.5 864.3,145.9 868,105.3 868,122.8 830.9,127.9 864.3,101.8 864.3,145.4 849.4,162.3 864.3,113.1 830.9,132 868,153.3"/><polyline class="m6" points="834.6,109.5"/><polyline class="m3" points="845.7,155.9 849.4,126.2 842,127.2 845.7,128.6 842,156.6 842,107.5"/><polyline class="m4" points="849.4,113.8 845.7,121.5 849.4,131.6"/><polyline class="m0" points="834.6,140.5 830.9,125.8 864.3,109.5 849.4,95.6 842,116.4 853.2,126.1 853.2,110.1 864.3,122.8 830.9,142.2 830.9,199.6 864.3,155.6 830.9,170.5 849.4,157.6 864.3,163.2 868,129.7 864.3,124.9"/><polyline class="m3" points="842,133.9 834.6,121.9 849.4,136.4 830.9,201.6 834.6,148.2 845.7,122.6 849.4,133.6 849.4,146.5 845.7,159.9 845.7,161.6 834.6,138.8"/><polyline class="m1" points="864.3,151.9 834.6,186.4 842,111.7 868,139.8 830.9,130.4 849.4,139.7 849.4,143.6 868,197.5 868,143.4 830.9,214.1 834.6,127.6 864.3,139.8 834.6,137.5 834.6,146.4"/><polyline class="m2" points="868,189.5 834.6,215.2 849.4,160.2 864.3,164.5 834.6,162.2 842,145.9 834.6,134.6 834.6,203.4"/><polyline class="m4" points="849.4,108.6"/><polyline class="m5" points="842,134.7 845.7,126.1 842,179"/><polyline class="m0" points="834.6,205.6 868,109.2 864.3,136.9 868,111.1 830.9,177.7 868,124.5 868,149.7 830.9,145.2 864.3,143.8 849.4,128.9 842,139.8"/><polyline class="m7" points="849.4,165.5"/><polyline class="m0" points="868,155.9 830.9,164.8 830.9,173.8 864.3,198.5 864.3,208.5"/><polyline class="m1" points="849.4,122.9 864.3,150.9 864.3,165.1 864.3,169.6 868,145.4 830.9,167.3 849.4,109.2 868,158.7 849.4,147.1 868,184.8 834.6,174.5"/><polyline class="m6" points="845.7,172"/><polyline class="m4" points="842,141.2 845.7,111.4 834.6,153.3 842,182.3 845.7,174.1 834.6,189.8"/><polyline class="m7" points="842,157.2"/><polyline class="m2" points="834.6,184.4 842,190.4 842,124.5 842,135.7 842,148.2 842,192 842,105.6 849.4,175.8 849.4,211"/><polyline class="m5" points="830.9,183.1 849.4,150 845.7,107.1 849.4,151.2"/><polyline class="m8" points="845.7,164.9"/><polyline class="m3" points="849.4,159.3 868,106.2 849.4,167.6 842,175.8 842,173.6 845.7,153.1 868,199.2 849.4,154 868,162.5"/><polyline class="m15" points="849.4,180.9"/><polyline class="m10" points="864.3,127.8"/><polyline class="m0" points="838.3,93.2 830.9,203.2"/><polyline class="m10" points="842,159.1"/><polyline class="m4" points="868,164.7 864.3,170.7 856.9,93.8 834.6,191.7 864.3,185.2 838.3,106.9 868,208.4"/><polyline class="m9" points="845.7,196.1"/><polyline class="m2" points="849.4,227.1 842,122.9 864.3,189.7 830.9,217.5 830.9,189.8 864.3,174.2 849.4,135.4 868,131.1 864.3,111.2 842,165.7 856.9,96 838.3,103.7"/><polyline class="m3" points="845.7,177.3 856.9,93.4 849.4,103.2 868,190.9 856.9,94.5 856.9,95 838.3,130.9"/><polyline class="m5" points="842,205.3"/><polyline class="m1" points="842,196.5 842,117.7 864.3,196.7 849.4,135 830.9,196 834.6,167.8 842,169.6"/><polyline class="m6" points="845.7,180 834.6,223.8 838.3,100.4 838.3,134.4"/><polyline class="m14" points="860.6,225.6"/><polyline class="m7" points="845.7,187.2 849.4,197.4 856.9,103.3 838.3,97.2"/><polyline class="m13" points="849.4,94.6"/><polyline class="m8" points="864.3,181.1 856.9,147.8 842,163.5"/><polyline class="m1" points="864.3,213.6 864.3,202.2 856.9,111.3"/><polyline class="m0" points="868,177.6"/><polyline class="m11" points="856.9,146 845.7,185.8"/><polyline class="m6" points="856.9,114.2 842,185.9"/><polyline class="m4" points="849.4,175.1 868,207.2 856.9,105.7 845.7,97.8 838.3,115.9 838.3,163.5 856.9,116"/><polyline class="m3" points="856.9,100.6 849.4,186.8 849.4,214 838.3,113.1 838.3,151.3 868,185.7 856.9,116.6 838.3,141.8"/><polyline class="m10" points="868,119 849.4,209.2"/><polyline class="m7" points="856.9,97.8 849.4,200.6"/><polyline class="m2" points="838.3,112.2 838.3,108.7 856.9,109.3 838.3,94.7 864.3,173.3 849.4,158.9 830.9,227.6 838.3,144.6 830.9,221.6 856.9,151.7 864.3,184.4 856.9,118.8"/><polyline class="m9" points="838.3,136.9 838.3,156.4 838.3,153.8"/><polyline class="m14" points="842,197.6 845.7,203.5 842,218.5"/><polyline class="m6" points="849.4,184 849.4,171.6 838.3,126.6 856.9,143.4 834.6,192.6 856.9,130.6 849.4,207.4 838.3,148.7"/><polyline class="m12" points="838.3,118.1"/><polyline class="m5" points="868,202.4 834.6,183.7 856.9,138.6 838.3,121.3 838.3,149.4 856.9,142.1 838.3,158.4 856.9,156.8"/><polyline class="m14" points="838.3,138"/><polyline class="m1" points="842,150.1 838.3,158 856.9,126.5 868,148.3 864.3,215"/><polyline class="m7" points="856.9,164.9 856.9,148.5"/><polyline class="m2" points="838.3,123 856.9,157.8"/><polyline class="m15" points="838.3,171.8 856.9,134.3"/><polyline class="m13" points="856.9,137.5 856.9,119.6"/><polyline class="m9" points="838.3,159.6 845.7,208.6 845.7,191.4 845.7,196.7 842,203.5 856.9,123.9 830.9,226.9"/><polyline class="m8" points="856.9,161.4 849.4,189.5"/><polyline class="m11" points="856.9,153.4"/><polyline class="m3" points="838.3,137.5 838.3,129.7 830.9,175.2 834.6,117.6 856.9,121.9 856.9,165.5"/><polyline class="m4" points="838.3,140.6"/><polyline class="m15" points="856.9,169.9 838.3,169.6 838.3,186.6 856.9,217.7"/><polyline class="m13" points="845.7,212.7 856.9,172.2"/><polyline class="m7" points="838.3,116.3 842,213.1 864.3,223 849.4,215.7 856.9,169.4 842,183"/><polyline class="m3" points="842,217.2 849.4,168.6 830.9,194.9 868,218 838.3,194.3 842,208.5 856.9,179.2"/><polyline class="m8" points="868,200.5 838.3,177.2"/><polyline class="m14" points="849.4,220.2 849.4,225.9 838.3,177.8 838.3,170.6"/><polyline class="m9" points="838.3,146.7 834.6,193.9 856.9,168.4"/><polyline class="m5" points="856.9,131.8 838.3,168.4 845.7,201.3 838.3,174.9 838.3,180.4 830.9,179.8"/><polyline class="m4" points="834.6,220 838.3,210.6 838.3,190.9 838.3,202.4"/><polyline class="m1" points="868,225.8 864.3,219.7"/><polyline class="m6" points="849.4,193.8 849.4,205.2 856.9,188.3"/><polyline class="m11" points="856.9,182 856.9,184.5"/><polyline class="m2" points="849.4,218.5 842,198.4"/><polyline class="m10" points="849.4,202.3"/><polyline class="m14" points="856.9,204.3 838.3,182.2 838.3,199.1 838.3,227.8 856.9,224.5 856.9,227"/><polyline class="m8" points="856.9,211.2 838.3,218.1"/><polyline class="m6" points="856.9,198.8 838.3,165"/><polyline class="m9" points="856.9,219.6 838.3,189.5 838.3,213.1 842,227"/><polyline class="m13" points="838.3,216.3 838.3,206.9 838.3,212.5 868,222.8"/><polyline class="m3" points="856.9,194.5 868,223.1 830.9,225.3"/><polyline class="m2" points="864.3,227.4"/><polyline class="m5" points="856.9,176.1"/><polyline class="m11" points="838.3,222.8"/><polyline class="m12" points="856.9,214 838.3,208.2 842,222.8 849.4,222.8 845.7,227.7 856.9,227.8"/><polyline class="m10" points="838.3,221.4 838.3,223.2 856.9,222.8"/><polyline class="m1" points="856.9,189.2 864.3,227.1"/><polyline class="m4" points="838.3,196.5 856.9,190.9 856.9,207 864.3,227.8 834.6,227.7 830.9,224.8"/><polyline class="m7" points="856.9,197.5 856.9,221.7 838.3,226.5 849.4,223.6"/><polyline class="m15" points="856.9,201.9 849.4,224.8 845.7,223.1"/>
<polyline class="m0" points="1023.2,169.6 1023.2,147.5 1023.2,149.2 1023.2,141.4 1001.8,93.2 1023.2,113.7"/><polyline class="m6" points="980.4,105.3"/><polyline class="m3" points="1023.2,116.3 980.4,93.4 980.4,103.2 1023.2,134.6 980.4,95 980.4,107.7 1001.8,100.6"/><polyline class="m2" points="1023.2,194.4 1023.2,174.5 1023.2,207.2 1023.2,164.2 1023.2,150.3 980.4,111.2 1023.2,221.7 1001.8,103.7 1001.8,109.3 1001.8,94.7"/><polyline class="m7" points="980.4,109 980.4,97.8"/><polyline class="m13" points="980.4,94.6"/><polyline class="m9" points="980.4,101.8"/><polyline class="m15" points="980.4,112.9"/><polyline class="m1" points="1023.2,156.6 1023.2,189.2 1023.2,204.3 1023.2,182.5 1023.2,154.9 1023.2,132.2 1023.2,211.9 1023.2,121.9 1023.2,191.7 1023.2,214.3 1023.2,123"/><polyline class="m2" points="1001.8,144.6 1023.2,227.6 1001.8,123"/><polyline class="m9" points="980.4,156.4 980.4,153.8 1001.8,159.6"/><polyline class="m10" points="980.4,168.2"/><polyline class="m13" points="1001.8,137.5 980.4,119.6"/><polyline class="m4" points="1001.8,105.7 1001.8,97.8 1001.8,116 1001.8,140.6"/><polyline class="m6" points="980.4,126.4 980.4,143.4"/><polyline class="m8" points="1001.8,147.8 1001.8,163.5 980.4,161.4"/><polyline class="m3" points="1001.8,113.1 980.4,151.3 1023.2,137.5 1001.8,117.6 1001.8,121.9"/><polyline class="m15" points="980.4,157.9"/><polyline class="m1" points="1001.8,111.3 1023.2,177 1001.8,150.1 1001.8,133.9 1001.8,126.5"/><polyline class="m12" points="980.4,118.1"/><polyline class="m5" points="1023.2,140.2 980.4,130.5 1001.8,138.6 1001.8,121.3 980.4,149.4"/><polyline class="m7" points="980.4,129.2 1001.8,142.1 1001.8,116.7 980.4,164.9"/><polyline class="m6" points="1001.8,130.6 980.4,148.7 1001.8,171.8 1001.8,188.3"/><polyline class="m10" points="1001.8,219.1"/><polyline class="m8" points="1001.8,182.5"/><polyline class="m9" points="980.4,123.9 980.4,146.7 1001.8,168.4"/><polyline class="m3" points="1001.8,179.2"/><polyline class="m15" points="980.4,134.3 980.4,209.5 980.4,169.9 980.4,169.6 980.4,186.6 980.4,217.7"/><polyline class="m14" points="980.4,138 980.4,184.3 980.4,174.8 980.4,178.8 1001.8,170.6"/><polyline class="m4" points="980.4,190.9"/><polyline class="m13" points="980.4,172.2 980.4,203.3"/><polyline class="m2" points="980.4,216.8"/><polyline class="m1" points="1023.2,168.4"/><polyline class="m5" points="980.4,142.1 1001.8,158.4 1001.8,156.8 1001.8,131.8 1001.8,174.9 980.4,178.2 980.4,180.4"/><polyline class="m11" points="1001.8,153.4 1001.8,184.5"/><polyline class="m7" points="1001.8,148.5 980.4,116.3 980.4,206.2 1001.8,183"/><polyline class="m6" points="1001.8,198.8 1001.8,165"/><polyline class="m12" points="1001.8,214 1001.8,208.2 980.4,227.8"/><polyline class="m1" points="1001.8,189.2"/><polyline class="m14" points="1001.8,204.3 980.4,193.8 980.4,182.2 980.4,208 980.4,199.1 980.4,223.2 1001.8,226.4 1001.8,224.5 980.4,227"/><polyline class="m4" points="1001.8,196.5 1001.8,190.9 1001.8,207"/><polyline class="m9" points="980.4,189.5 980.4,213.1 980.4,222.8 980.4,223.6"/><polyline class="m7" points="980.4,197.5 1001.8,221.7 1001.8,223.6"/><polyline class="m2" points="1023.2,222.8"/><polyline class="m15" points="980.4,207.6 1001.8,201.9"/><polyline class="m3" points="1001.8,194.5"/><polyline class="m8" points="1001.8,197.4 1001.8,211.2 980.4,218.1 1001.8,227.9"/><polyline class="m13" points="1001.8,216.3 980.4,212.5 1001.8,225.6"/><polyline class="m5" points="1001.8,176.1"/><polyline class="m10" points="980.4,221.4 1001.8,222.8"/>
<polyline class="m0" points="1165.9,93.2"/><polyline class="m4" points="1139.9,122.7 1139.9,149.5 1165.9,105.7 1165.9,97.8 1146.4,205.6 1165.9,116"/><polyline class="m1" points="1139.9,155.5 1165.9,111.3 1139.9,177"/><polyline class="m6" points="1139.9,183.6 1165.9,143.4"/><polyline class="m5" points="1139.9,117.3 1139.9,170.6 1139.9,167.7 1146.4,200.9"/><polyline class="m3" points="1139.9,182.9 1139.9,134.6 1159.4,196 1165.9,100.6 1165.9,113.1 1139.9,137.5 1146.4,204.5"/><polyline class="m8" points="1165.9,161.4"/><polyline class="m14" points="1139.9,153.3 1146.4,200.3"/><polyline class="m2" points="1139.9,150.3 1165.9,103.7 1165.9,109.3 1165.9,94.7"/><polyline class="m9" points="1146.4,197.3 1165.9,159.6"/><polyline class="m15" points="1146.4,195.6 1139.9,211"/><polyline class="m11" points="1165.9,153.4 1159.4,217.5"/><polyline class="m15" points="1165.9,134.3"/><polyline class="m12" points="1165.9,118.1"/><polyline class="m9" points="1165.9,123.9 1165.9,146.7 1139.9,214.9 1139.9,227.3"/><polyline class="m6" points="1165.9,130.6 1139.9,193.5 1146.4,211.8"/><polyline class="m1" points="1165.9,126.5 1159.4,227.9"/><polyline class="m7" points="1165.9,148.5 1165.9,116.3"/><polyline class="m2" points="1139.9,191.7"/><polyline class="m13" points="1139.9,215.9 1159.4,215.8"/><polyline class="m5" points="1165.9,149.4 1146.4,201.4 1165.9,142.1 1165.9,158.4 1165.9,156.8 1165.9,131.8 1139.9,187.4"/><polyline class="m14" points="1165.9,138"/><polyline class="m3" points="1165.9,121.9 1159.4,209.6 1139.9,201.1 1146.4,209.5"/><polyline class="m4" points="1139.9,217.7"/><polyline class="m10" points="1159.4,213.4 1139.9,187"/><polyline class="m9" points="1159.4,196.7 1146.4,213.8 1139.9,168.4 1139.9,222.1 1139.9,206.2"/><polyline class="m15" points="1159.4,204.5 1139.9,209.9 1165.9,169.6 1165.9,186.6 1165.9,201.9"/><polyline class="m13" points="1165.9,172.2 1165.9,216.3"/><polyline class="m1" points="1165.9,189.2"/><polyline class="m5" points="1139.9,197.6"/><polyline class="m14" points="1146.4,203.6 1159.4,218.6 1165.9,170.6"/><polyline class="m6" points="1139.9,193.9 1165.9,188.3"/><polyline class="m8" points="1159.4,206.5 1159.4,225.6"/><polyline class="m10" points="1159.4,221.2 1146.4,219.1"/><polyline class="m7" points="1146.4,216.7 1139.9,203.3 1139.9,209.5 1165.9,183"/><polyline class="m3" points="1139.9,220.1 1146.4,218 1139.9,208.5 1165.9,179.2 1159.4,200.9"/><polyline class="m4" points="1165.9,210.6"/><polyline class="m4" points="1165.9,196.5 1165.9,190.9 1165.9,207 1159.4,222.8"/><polyline class="m13" points="1165.9,212.5"/><polyline class="m6" points="1139.9,223.9 1165.9,165"/><polyline class="m8" points="1159.4,197.4 1159.4,211.2 1165.9,218.1 1159.4,225 1146.4,227.9"/><polyline class="m9" points="1165.9,189.5 1165.9,213.1"/><polyline class="m2" points="1152.9,226.5"/><polyline class="m7" points="1165.9,221.7 1165.9,223.6"/><polyline class="m14" points="1165.9,204.3 1146.4,193.8 1165.9,182.2 1165.9,199.1 1165.9,227.8 1165.9,227 1152.9,227"/><polyline class="m10" points="1165.9,223.2 1139.9,222.8"/><polyline class="m11" points="1146.4,224.9 1146.4,222.8"/><polyline class="m12" points="1165.9,214 1165.9,208.2 1152.9,227.8"/><polyline class="m3" points="1165.9,194.5"/><polyline class="m5" points="1165.9,176.1"/>
<polyline class="m11" points="1301,93.4 1307.9,215.4 1302.8,106.8 1306.8,121.2 1309.3,101 1313.4,167.2"/><polyline class="m13" points="1310.6,121 1310,216.6 1315.6,193.4 1305.2,100.3 1303.5,118.2 1310.7,138.2 1318,165.1"/><polyline class="m3" points="1294.7,95.1"/><polyline class="m8" points="1300.2,94.7 1301.6,120.5"/><polyline class="m15" points="1327.6,171.8 1310.8,196.2 1310.9,209.1 1317.2,175 1308.7,209.1 1319.1,202.3 1312.7,189 1316.1,156.1 1311.1,155.1 1313.2,114.7 1314.6,177.9 1306.6,115.7 1309.4,141.9 1316,163.5"/><polyline class="m4" points="1297.4,97.6 1295.5,100 1298,120.1"/><polyline class="m7" points="1310.1,94.2 1308.3,108.7 1306.4,108.7"/><polyline class="m14" points="1323.4,159.3 1307.8,109.4 1314.7,204.8 1323.6,193.6 1310.9,119.1 1311.8,193 1315.8,208.3 1308.1,116.6 1305.7,101.6 1314.5,147.1 1308.2,122.1 1310.6,143.2 1301.8,111.7 1306.1,125.3 1311.6,178.6"/><polyline class="m10" points="1310.4,112.5 1300.9,93.8 1300.4,116.2 1301.7,114.5 1301,103.7 1300.9,113.3"/><polyline class="m9" points="1308.6,112.7 1317.2,204.9 1296.1,103.9 1302.3,112.5 1293.3,93.6 1298,111.7"/><polyline class="m0" points="1273.4,227.6 1276.6,164.5 1276.7,103.3 1277.1,118.5"/><polyline class="m12" points="1303.4,112.8 1318,200.4 1310.7,171.1 1298.6,108.1 1298.6,115 1307.2,135.9 1309.8,135.9 1305,136.3 1307.1,93"/><polyline class="m14" points="1317.9,196.9 1299.9,141.2 1309.6,205 1315.5,200.9 1303.5,190.7 1309.3,185.6 1308,208.2 1306.6,152 1302.7,129.8 1305.4,174.6 1309.3,144.1 1311.8,192.4 1306.2,159.1 1307.8,163 1308.8,173.9 1308.4,185.2"/><polyline class="m12" points="1302.5,98.7 1309.3,179.4 1306.2,142.5 1308.4,123.4 1296.3,128.2 1305.4,173.2"/><polyline class="m11" points="1309.3,143.2 1302.6,136.1 1301.2,134.6 1300.4,146.9"/><polyline class="m10" points="1303.7,119.7 1298.1,139.3 1293.2,100.8 1294.1,125.7"/><polyline class="m7" points="1302.1,96 1300.2,109.8 1294.1,112.9 1296.1,129 1303.7,123.7 1296.7,132.2 1294.5,154.7"/><polyline class="m0" points="1277.5,110.4 1276.6,161 1273.4,197.1 1277.5,147.1"/><polyline class="m2" points="1289.7,93.2"/><polyline class="m8" points="1297.8,101.1 1293.6,140"/><polyline class="m5" points="1294.9,105.1"/><polyline class="m13" points="1306.4,167.9 1311.1,149.7 1308.8,172.4 1308.2,168.5 1308.2,197.2"/><polyline class="m9" points="1299.7,132 1299.4,126.3 1298.2,121.9 1294.5,131.5"/><polyline class="m15" points="1308.4,130.4 1314.4,205.6 1322.6,130.4 1303.7,140.9 1316.4,180.5 1309.5,170.5 1306.8,131.5 1316.2,211.5 1309.2,146.9 1308,154.2 1303,127.1 1301.3,141.4 1309.9,164 1309.3,190.3 1302.9,156.8"/><polyline class="m4" points="1291.7,111.4 1295.8,116.4"/><polyline class="m1" points="1280.6,93 1276.6,131.1 1276.8,133.1 1272.8,212.5 1277.2,120.8"/><polyline class="m7" points="1296.4,108.2 1292.5,106.4 1293.8,144.2 1297.7,142.8 1291.3,147.3"/><polyline class="m0" points="1277.6,128 1277.7,102.8 1276.8,135.5 1277.6,99.1 1278.7,103.4 1278.9,93.2 1276.5,155.8"/><polyline class="m1" points="1278.2,109 1278.9,109.2 1273.8,201.9 1277.3,114.7 1277,159.2 1276.6,177.7 1276.8,135 1277.4,150.6"/><polyline class="m10" points="1298.6,154.7 1310.4,127.8 1292.1,108.7 1303.8,143.5"/><polyline class="m11" points="1294.5,135.4"/><polyline class="m5" points="1291.9,125.6 1287.6,112.2 1290,101.4"/><polyline class="m3" points="1287.4,105.1"/><polyline class="m9" points="1301.9,123 1290.4,101.8 1298.2,133.9"/><polyline class="m6" points="1288,143.6"/><polyline class="m4" points="1285.3,93.8 1291.2,126.8 1293.4,152.2"/><polyline class="m15" points="1312.3,157.2 1304.2,130.9 1304.2,210.2 1310.1,191.8 1300.5,114 1308.5,200.4 1311.4,205.4 1309.5,180.9 1309.2,161.7 1310.9,161.8 1307.5,195.9 1309.2,175.2"/><polyline class="m14" points="1312.5,163.4 1298.7,152.8 1307.4,147.4 1305.3,144.2 1308.6,213.2 1311.3,182.1 1312.1,200.2 1307.3,179.8 1304.3,157.5 1303.8,214.1 1299.3,157.7"/><polyline class="m12" points="1299.8,149.6 1307.3,148.2 1295.3,153.2 1303.5,166.9 1295,136.8 1294,116.5 1314,207.3"/><polyline class="m2" points="1279.1,106.2 1282.9,100.2"/><polyline class="m13" points="1313.4,162.6 1303.4,174.9 1310.2,159 1304.9,160 1302.1,150.7 1307.8,195 1306,197.6"/><polyline class="m14" points="1301.3,108.4 1304,162.8 1305.6,227.4 1299.5,153.3"/><polyline class="m9" points="1286.6,144.1"/><polyline class="m15" points="1304.5,147.5 1304.6,197.4 1298.5,164.7 1291,112.9 1305.2,152.2 1299.9,168.1 1297.4,161 1300.4,169.3"/><polyline class="m13" points="1302.1,149.1 1294.9,147.9 1292.9,94.6 1303.6,212.2 1301.6,190.2"/><polyline class="m11" points="1298.1,143.1 1294.4,159.2 1298.3,146"/><polyline class="m10" points="1293.9,122.5 1293.9,160.1 1290.3,119"/><polyline class="m4" points="1282,105.7 1286.1,97.8"/><polyline class="m3" points="1282.6,104.1 1284.1,94.8 1279.2,100.6 1280.7,147.5 1285.4,151.6 1281.5,113.1 1279.1,141.7"/><polyline class="m8" points="1292.1,141.6 1292.8,97.2 1290.3,151.1"/><polyline class="m5" points="1285.5,95 1280.4,160.8 1280.2,159.4"/><polyline class="m7" points="1285.1,101.1 1286.8,108.5 1285.7,103.3 1289.5,97.8 1292.2,156 1284.2,136.5"/><polyline class="m6" points="1289.9,100.4 1286.3,105.3 1289.4,116 1285.6,114.2 1287.6,147.8"/><polyline class="m12" points="1295.7,162.6 1300,162.7"/><polyline class="m2" points="1280.2,106.5 1277.6,141.7 1285.7,111.2 1281.3,96 1279.8,103.7 1284.1,108.7 1281.8,109.3 1279.2,94.7 1273.7,210.2 1279.5,144.6 1273.5,204.3"/><polyline class="m1" points="1279.6,116.8 1273.1,226.4 1276.9,169.6 1277.6,165.7 1277.7,154.3 1276.9,183.1 1278.8,144.7 1278.3,162.6 1276.9,213.3 1272.9,220.4 1278.4,111.3 1272.8,210.1"/><polyline class="m1" points="1277.9,120.6 1277.1,184.9 1272.8,197.7 1273.3,214.8 1277,174.3 1277,179.6 1278.9,150.1 1279.1,133.9"/><polyline class="m4" points="1281.5,134.3 1280.6,130.3 1282.5,116 1283.4,140.6 1282.5,123.2 1282.5,118.2"/><polyline class="m3" points="1280.8,151.3 1280.3,164.9 1281.8,138.3 1280.6,155.4 1279.4,140 1284.3,137.5 1281.1,129.7"/><polyline class="m9" points="1290.8,129.9 1286.3,159.6"/><polyline class="m2" points="1279.1,131.9 1278.6,133.6 1279.7,118.2 1280.5,118.8 1277.5,187.8"/><polyline class="m14" points="1304.5,218.4 1292.2,140.2 1298.6,169.6 1300.3,175.7 1302.9,182.7 1291.7,168.3 1301.2,185.2 1296.1,122.1 1296.1,168.6 1304.4,185.9 1304.5,203.3"/><polyline class="m13" points="1303.5,198.1 1297,168.4 1289,137.5 1296.6,119.6 1295.1,180.1"/><polyline class="m11" points="1290.3,134.5"/><polyline class="m6" points="1282.7,159.1 1288.7,126.4 1285.6,126.6 1282.9,143.4"/><polyline class="m7" points="1287.6,142.1 1284.2,127.3 1285.9,141.4 1283.7,116.7 1291.8,164.9"/><polyline class="m5" points="1287.5,153.6 1289.4,140.2 1281.7,166.2 1283.8,155 1289.1,130.5 1285.9,123"/><polyline class="m8" points="1286.3,147.8 1289.5,160.4 1284.1,163.5 1287.6,161.4"/><polyline class="m15" points="1299.6,160 1305.7,187.5 1303.7,199.1 1301.1,172.9 1298,179.5 1300.8,181.5 1293.6,170.6 1296.6,174.6 1287.2,157.9"/><polyline class="m12" points="1300,125.2 1299.4,172.3"/><polyline class="m13" points="1301.4,195.9 1290.7,175.2 1295,191.5 1302,227.6 1300.2,212.5 1297.2,213.1"/><polyline class="m11" points="1291.7,153.4 1292.7,168.4 1287.2,178.8 1305.3,194.2"/><polyline class="m5" points="1283.9,138.6 1287.2,121.3 1283,149.4 1283.5,142.1 1282.5,158.4 1286.7,156.8 1286.7,131.8 1280.9,174.9"/><polyline class="m15" points="1303.6,168.1 1291.2,171.8 1297.8,134.3 1297.9,205.1 1303.1,180.4 1301.5,217.6 1304.3,187.9 1301.9,211.3 1303.2,215.6 1297.6,201.3 1294.6,180.9 1303.9,208.2 1303,176.3 1294.5,204.5 1299,196.8"/><polyline class="m9" points="1289.9,123.9 1286.8,165.9 1292.7,146.7 1290.6,181.2"/><polyline class="m1" points="1278.7,126.5 1273,208.4 1286.4,148.3 1277.9,180.8 1272.8,225.8 1277.1,216.9 1278.9,168.4"/><polyline class="m3" points="1281.4,117.6 1282.8,121.9 1276.8,193.5"/><polyline class="m6" points="1286.7,130.6 1285.5,148.7 1283.4,171.8"/><polyline class="m12" points="1293.7,118.1 1298.1,162.7 1288.5,172.9"/><polyline class="m8" points="1289.1,189.1"/><polyline class="m7" points="1282.4,148.5 1287.1,116.3 1280.7,168.5"/><polyline class="m14" points="1295.2,176.7 1299.6,189.3 1291.6,138 1289.7,138.3 1296.6,205.6 1301.4,199.6 1288.5,185.5 1302,205.9 1292.5,194.5 1287.3,174.8 1293.6,197.9"/><polyline class="m2" points="1278.6,123 1272.8,215.9 1278.2,157.8 1273.6,206.9 1276.6,201.8 1279.6,171.8 1276.9,196.9"/><polyline class="m5" points="1280.6,180.3 1278.8,212.2 1280.1,219 1283.7,204.3"/><polyline class="m13" points="1291.3,185.6 1290.4,190.2 1287.8,172.2 1299.7,216"/><polyline class="m6" points="1281.2,183.1 1281.3,193.9 1279.4,202.3"/><polyline class="m12" points="1297.5,188.9"/><polyline class="m8" points="1286.6,177.2 1280.6,187.5 1282.5,217.2 1283,182.5"/><polyline class="m10" points="1284.8,202.3"/><polyline class="m11" points="1287,195.4 1291.8,182 1286.5,184.5"/><polyline class="m2" points="1273.1,198.4 1277.5,210.3 1277.9,216.8 1277.4,207.4"/><polyline class="m14" points="1293.2,203.6 1297.2,194.2 1301,178.8 1300.5,192 1292.9,209.1 1298.6,219.9 1292,177.8 1297,185.9 1287.4,170.6 1295.3,199.9 1292.3,219.6"/><polyline class="m15" points="1295.3,209.9 1294.8,203.4 1297.3,183.5 1296.1,198.1 1301.5,201.7 1292.6,215.6 1301,200.4 1297.8,214.9 1296.9,217.6 1292.4,210.5 1291.2,212 1290.7,207.2 1290.7,194.9 1292,214 1293.6,169.9 1292.2,169.6 1295.5,186.6 1298.3,173 1300.2,210.5 1286,196.5"/><polyline class="m9" points="1284.8,168.4"/><polyline class="m3" points="1279.7,184 1278.5,188 1278.5,181.8 1279,203 1277.5,197.8 1280.1,208.5 1282.3,179.2 1279.2,200.9"/><polyline class="m4" points="1281.2,216.5 1281.2,210.6 1281.5,202.4"/><polyline class="m1" points="1277.5,220.5 1277.6,176.1"/><polyline class="m7" points="1282.4,202.3 1280.8,169.4 1284.8,181.2 1281.3,209.5 1287.6,202.5 1282.6,183"/><polyline class="m6" points="1282.6,188.3 1280.4,198.8 1283.3,165 1279.8,225.6"/><polyline class="m10" points="1285.2,223.2 1282.4,222.8"/><polyline class="m15" points="1306.5,218.9 1285.4,217.7 1292.2,201.9 1290.5,198.2 1304.6,225.8 1303.5,223.3 1295.4,222.8 1302.4,225.1 1300.8,226.9 1301.5,222.8 1299.6,227.4 1294.3,223.1 1299.9,226.6 1296.9,224.3 1297.4,227.7 1299.6,223.7"/><polyline class="m8" points="1284.2,211.2 1288.1,218.1 1280.9,227.9"/><polyline class="m2" points="1277.9,222.8 1273.2,222.8"/><polyline class="m14" points="1297.1,209.7 1286.1,204.3 1286,193.8 1301,209.9 1293.4,182.2 1289.2,208 1298.4,199.1 1295,187.3 1303.2,225.8 1283.7,227.8 1302.1,223.7 1294.4,227.7 1289.2,222.8 1291.2,227.1 1290.2,224.5 1283.8,227 1288.8,227"/><polyline class="m11" points="1287.3,211.1"/><polyline class="m13" points="1288.1,203.3 1288.8,216.3 1288.7,206.9 1286.9,212.5 1293.7,226.3 1283.9,225.6 1299.7,223.1"/><polyline class="m7" points="1282,197.5 1282.1,221.7 1281.3,223.6"/><polyline class="m9" points="1283.7,219.6 1284.3,189.5 1285.6,191.3 1288.3,213.1"/><polyline class="m1" points="1277.8,189.2"/><polyline class="m12" points="1285,214 1283.5,208.2 1290.6,222.8 1300.6,222.9 1287.1,227.8"/><polyline class="m5" points="1282.4,176.1"/><polyline class="m4" points="1284.6,196.5 1281.4,190.9 1279.5,207 1279.3,222.8 1277.9,224.1 1278.1,225.5"/><polyline class="m3" points="1279.9,219.9 1278.9,194.5 1277.7,227.6"/>
<polyline class="m1" points="1441,223.4 1441,221.8 1441,205.3 1441,92.9 1441,94.3 1441,198.5 1441,219.9 1441,107.6 1441,95.8 1441,180.5 1441,108.8 1441,122.1 1441,156.6 1441,142.5 1441,120.6 1441,145.3 1441,143.3 1441,109.6 1441,167.1"/><polyline class="m2" points="1441,196.1 1441,181.5 1441,174.3 1441,206.7 1441,96.7 1441,152.1 1441,147.7 1441,128.1 1441,140.4 1441,99.1 1441,101.9 1441,162.2 1443.9,204.9"/><polyline class="m3" points="1441,220.5 1441,104.5 1441,159.5 1443.9,210.4"/><polyline class="m4" points="1441,224.5 1441,186.8 1441,178.2 1441,116.5 1441,126.1 1443.9,227.3 1443.9,207.4"/><polyline class="m5" points="1441,113.2 1441,200.8 1443.9,221.4"/><polyline class="m6" points="1441,133.4"/><polyline class="m15" points="1441,197.3"/><polyline class="m0" points="1441,184.8 1441,216.7 1441,189.2 1441,213.1 1441,171.3 1441,209.8 1441,137 1441,118.2 1441,132 1441,134.8 1443.9,223.7"/><polyline class="m2" points="1443.9,198.3 1443.9,178.5 1443.9,218.8 1443.9,186.2 1443.9,212 1443.9,188.7 1443.9,202.9 1443.9,130.5 1446.7,223.3 1446.7,196.3 1446.7,191 1446.7,176.6 1446.7,218.7 1446.7,98"/><polyline class="m5" points="1443.9,161.9 1443.9,117.3 1443.9,118 1443.9,136.2"/><polyline class="m3" points="1443.9,213.9 1443.9,145.7 1443.9,166.8 1446.7,93.5 1446.7,133.9"/><polyline class="m1" points="1443.9,176.2 1443.9,110.7 1443.9,165.4 1443.9,170.1 1443.9,182.2 1443.9,96.7 1443.9,152.6 1443.9,158.6 1443.9,94.8 1443.9,142 1443.9,101.5 1443.9,103.6 1446.7,101.8 1446.7,227.3 1446.7,210 1446.7,130.6 1446.7,186.4 1446.7,172.5"/><polyline class="m7" points="1443.9,171.7 1443.9,140.6"/><polyline class="m0" points="1443.9,126.5 1443.9,93.7 1443.9,114.1 1443.9,199.1 1443.9,149.3 1443.9,193.2 1443.9,108 1443.9,122.5 1443.9,128.6 1443.9,134.5 1446.7,104.4 1446.7,107.8"/><polyline class="m6" points="1443.9,156.3"/><polyline class="m4" points="1443.9,143.2 1446.7,100 1446.7,199.4"/><polyline class="m2" points="1446.7,151.5 1446.7,144.6 1446.7,163 1446.7,160.8 1446.7,155.8 1449.5,108.9 1449.5,226.1 1449.5,207.1 1449.5,132.4 1449.5,162.2 1449.5,152.9 1449.5,213.3 1449.5,115.9 1449.5,161.4"/><polyline class="m1" points="1446.7,226.6 1446.7,202.1 1446.7,174.5 1446.7,181.1 1446.7,142.7 1446.7,214.6 1446.7,132.4 1446.7,122.7 1446.7,168.6 1446.7,194.1 1446.7,204.6 1446.7,114.6 1449.5,96.3 1449.5,93 1449.5,215.9 1449.5,204 1449.5,101.8 1449.5,136.5 1449.5,157.4 1449.5,148.8 1449.5,201.1"/><polyline class="m3" points="1446.7,121.9 1446.7,207.1 1449.5,209.7 1449.5,138 1449.5,121.4"/><polyline class="m4" points="1446.7,148.7 1446.7,138.4 1449.5,227.3 1449.5,189.5"/><polyline class="m8" points="1449.5,120.7"/><polyline class="m6" points="1449.5,222.8"/><polyline class="m0" points="1446.7,117.4 1446.7,127 1446.7,183.3 1446.7,166.5 1446.7,110 1449.5,110.7 1449.5,219.8 1449.5,185 1449.5,100.3 1449.5,141.5"/><polyline class="m11" points="1446.7,139.6"/><polyline class="m14" points="1449.5,223.9"/><polyline class="m5" points="1449.5,166.6"/><polyline class="m2" points="1449.5,193.7 1449.5,214.2 1449.5,176.4 1449.5,131.2 1449.5,124.7 1449.5,145.9 1449.5,182.8 1452.4,119.3 1452.4,104.5 1452.4,204.5 1452.4,108.8 1452.4,145.5 1452.4,143.9 1452.4,93.2"/><polyline class="m14" points="1449.5,197.4"/><polyline class="m5" points="1452.4,111.1 1452.4,209.8"/><polyline class="m1" points="1449.5,156.1 1452.4,100.3 1452.4,121.8 1452.4,96.8 1452.4,213.6 1452.4,135.3 1452.4,188.2 1452.4,183.7 1452.4,133.1 1452.4,152.6 1452.4,156.3"/><polyline class="m10" points="1452.4,125.7"/><polyline class="m8" points="1452.4,192.8 1452.4,190.9"/><polyline class="m4" points="1449.5,128 1449.5,178.2 1449.5,171.6 1452.4,148.8 1452.4,200.5 1452.4,177.5"/><polyline class="m12" points="1452.4,178.3"/><polyline class="m6" points="1452.4,216.7 1452.4,127.3 1452.4,158.2"/><polyline class="m3" points="1449.5,169.9 1449.5,105.7 1452.4,227.8 1452.4,137.1 1452.4,223.3 1452.4,165.6 1452.4,182.1 1452.4,115.1 1452.4,149.6 1452.4,163.7 1452.4,226.8"/><polyline class="m7" points="1452.4,123 1452.4,219.3"/><polyline class="m0" points="1449.5,146.6 1449.5,113.9 1452.4,140.3 1452.4,196.7 1452.4,176.1"/><polyline class="m8" points="1455.2,220.9 1455.2,199.6 1455.2,207.2"/><polyline class="m3" points="1455.2,210.6 1455.2,223.3 1455.2,138.2 1455.2,98.1 1455.2,116.3 1455.2,180.3 1455.2,111 1455.2,127.4 1455.2,147.3 1455.2,117 1455.2,162.5 1455.2,187.5"/><polyline class="m6" points="1455.2,227.6 1455.2,145.3"/><polyline class="m2" points="1452.4,162.1 1452.4,171.5 1455.2,93.8 1455.2,121.5 1455.2,133 1455.2,192.8 1455.2,206.4 1455.2,181.7 1455.2,170.7 1458,122 1458,227.1"/><polyline class="m1" points="1455.2,100 1455.2,105.1 1455.2,109.2 1455.2,226.6 1455.2,177.9 1455.2,175.2 1455.2,152.6 1455.2,218 1455.2,201.9 1455.2,172.1 1455.2,182.7 1455.2,195.4"/><polyline class="m11" points="1452.4,169.3"/><polyline class="m4" points="1455.2,208.6 1455.2,103.6 1455.2,189 1455.2,135.4 1455.2,119 1455.2,216.1 1455.2,151.8 1455.2,217.4 1455.2,166.9"/><polyline class="m7" points="1455.2,159.5"/><polyline class="m0" points="1452.4,131.8 1455.2,157.3 1455.2,128"/><polyline class="m5" points="1452.4,123.7 1455.2,215.4 1455.2,141.9 1455.2,125.6 1455.2,151"/><polyline class="m8" points="1460.9,123.7"/><polyline class="m14" points="1458,153.9"/><polyline class="m11" points="1458,209.4 1458,184.2"/><polyline class="m7" points="1458,147.3"/><polyline class="m2" points="1458,215.2 1458,202.6 1458,217.5 1458,169.8 1460.9,127.3 1460.9,103.7 1460.9,109.3"/><polyline class="m9" points="1458,158.7"/><polyline class="m10" points="1458,225.5"/><polyline class="m5" points="1458,123.3 1458,188.6 1458,143.2"/><polyline class="m3" points="1458,97 1458,105.1 1458,138.8 1458,179.8 1458,200.3 1458,193.4 1458,107.6 1458,129.9 1460.9,137"/><polyline class="m12" points="1458,116.5"/><polyline class="m4" points="1458,221.1 1458,222.7 1458,164.8 1458,206.3 1458,197.7 1458,190.1 1458,191.7 1460.9,136.2"/><polyline class="m0" points="1458,99.1 1458,103.4 1458,93.2 1458,134.5 1458,155.8 1458,173.7 1458,177.1 1460.9,142.1"/><polyline class="m6" points="1458,182.3 1458,168.4 1458,184.9 1460.9,123 1460.9,114.2"/><polyline class="m1" points="1458,111.9 1458,117.7 1458,210.8 1458,149.9 1458,126.9 1458,161.4 1458,216.7 1458,163.2 1460.9,129.9 1460.9,144.7"/><polyline class="m10" points="1460.9,166.7"/><polyline class="m2" points="1460.9,94.7 1460.9,133.9 1460.9,159.1 1460.9,173.3"/><polyline class="m1" points="1460.9,157.3 1460.9,111.3 1460.9,177 1463.7,126.5"/><polyline class="m5" points="1460.9,220.1 1460.9,209.6 1460.9,224.3 1460.9,188.8 1460.9,174.8 1463.7,149.4 1463.7,142.1 1463.7,158.4 1463.7,156.8"/><polyline class="m4" points="1460.9,105.7 1460.9,164.2 1460.9,97.8 1460.9,193 1460.9,227.7 1460.9,181.3 1460.9,206.7 1463.7,116"/><polyline class="m11" points="1460.9,146 1460.9,170 1463.7,153.4"/><polyline class="m3" points="1460.9,100.6 1460.9,147.5 1460.9,151.6 1460.9,214 1460.9,113.1 1460.9,186.8 1463.7,184.9 1463.7,121.9 1463.7,165.5"/><polyline class="m8" points="1460.9,216.1 1463.7,161.4"/><polyline class="m15" points="1460.9,161 1463.7,134.3"/><polyline class="m7" points="1460.9,156 1463.7,164.9 1463.7,227.8 1463.7,173.2"/><polyline class="m12" points="1463.7,118.1"/><polyline class="m9" points="1460.9,204 1460.9,196.7 1463.7,159.6 1463.7,123.9"/><polyline class="m14" points="1463.7,138"/><polyline class="m6" points="1460.9,118.3 1460.9,160.4 1460.9,200 1460.9,205.8 1463.7,143.4 1463.7,130.6"/><polyline class="m3" points="1463.7,205.6 1463.7,222.7 1463.7,170.3 1463.7,196.2 1466.5,179.2 1466.5,194.5"/><polyline class="m5" points="1463.7,225.2 1463.7,131.8 1463.7,206.9 1463.7,224.3 1466.5,176.1 1466.5,226"/><polyline class="m8" points="1463.7,189.1 1463.7,199.9 1463.7,202.1 1466.5,211.2 1466.5,218.1"/><polyline class="m13" points="1466.5,172.2 1466.5,212.5"/><polyline class="m9" points="1463.7,226.9 1463.7,165.9 1463.7,146.7 1463.7,217.9 1466.5,168.4 1466.5,189.5 1466.5,213.1"/><polyline class="m2" points="1463.7,214.1 1463.7,215.4"/><polyline class="m15" points="1466.5,169.6 1466.5,186.6 1466.5,201.9"/><polyline class="m4" points="1466.5,196.5 1466.5,190.9 1466.5,207"/><polyline class="m7" points="1463.7,148.5 1463.7,116.3 1466.5,183 1466.5,221.7 1469.4,223.6"/><polyline class="m6" points="1463.7,175.9 1466.5,227.7 1466.5,188.3 1469.4,165"/><polyline class="m14" points="1463.7,193.2 1466.5,170.6 1466.5,204.3 1466.5,182.2 1466.5,199.1 1466.5,226.9 1469.4,227"/><polyline class="m1" points="1463.7,180.8"/><polyline class="m10" points="1463.7,211 1463.7,186.5 1469.4,222.8"/><polyline class="m12" points="1463.7,223.5 1466.5,214 1466.5,208.2 1469.4,227.8"/>
<polyline class="m8" points="562,251.3"/><polyline class="m7" points="536.7,366.8"/><polyline class="m5" points="562.9,334.5 537.5,256 554.7,369.1 561.5,336.8 556.7,256"/><polyline class="m0" points="562.4,304.5 563,325.3 563.1,253.6 563.2,269.8 560,341.4 561.8,309.1"/><polyline class="m3" points="563.2,313.7 563.2,343.7 550.7,364.5 545.3,366.8 554,369.1 558.8,279.1 557.5,249"/><polyline class="m6" points="553.1,366.8 562.2,376.1 558.7,274.4 559.7,246.7"/><polyline class="m4" points="562.8,327.6 559.4,371.5 559.9,279.1 561,380.7"/><polyline class="m1" points="562.8,251.3 562.9,355.3 562.7,309.1 562.1,249 563.2,371.5 562.7,290.6 563,322.9 563.2,316 563.2,378.4 561.1,304.5 563.1,258.3 560.7,249 562.3,380.7 561.3,274.4 561.9,327.6 563.3,297.5 550,366.8 554.1,371.5 552.9,256 562.6,346.1 558,355.3 557.1,279.1"/><polyline class="m2" points="562.5,362.2 562.6,353 562.5,281.4 555.9,276.8 563.1,336.8 560.7,327.6 560.7,256 562.3,336.8 563.2,260.6 559,353 563.1,373.8"/><polyline class="m13" points="562.9,311.4"/><polyline class="m4" points="561.2,378.4 558,329.9 561.6,272.1 549.9,380.7 548.9,371.5 547.9,246.7 555.5,380.7"/><polyline class="m9" points="561.5,322.9"/><polyline class="m3" points="562.9,348.4 546.4,272.1 561.3,292.9 543.2,364.5 560.5,343.7 549.1,258.3 556.7,371.5 561.2,366.8 560.8,322.9 554.8,253.6 549,251.3 562.9,359.9 559.9,309.1 560.9,288.3"/><polyline class="m10" points="560.1,304.5 549.9,253.6"/><polyline class="m1" points="558.9,343.7 559.8,336.8 553.4,341.4 558.2,311.4 553.5,279.1 551.5,246.7"/><polyline class="m0" points="561.3,316 561.4,353 563.2,318.3"/><polyline class="m6" points="559,362.2"/><polyline class="m5" points="551.5,253.6 552.1,371.5 549,353 554,353 562.9,297.5 553.4,260.6"/><polyline class="m15" points="547.8,348.4"/><polyline class="m2" points="562.2,339.1 560.3,334.5 552,380.7 552.8,251.3 562.9,286 561.5,364.5 555.8,290.6 555,380.7 554.7,362.2 560.6,318.3 561.8,290.6 557.3,309.1"/><polyline class="m12" points="562.6,283.7"/><polyline class="m14" points="550.2,274.4 560.1,373.8"/><polyline class="m7" points="560.5,251.3 561.6,325.3 550.2,343.7"/><polyline class="m4" points="559.5,373.8 560.4,297.5 553.7,309.1 554.5,341.4 560.7,260.6 562.3,348.4 558.6,286"/><polyline class="m2" points="559.6,322.9 548.9,339.1 550.4,309.1 562.6,265.2 561.1,265.2 547.2,295.2 559.4,357.6 560.1,346.1 559.9,376.1 562.9,302.2 547.1,334.5 549.9,329.9 552.9,359.9 550.7,371.5"/><polyline class="m10" points="549,380.7 558,359.9"/><polyline class="m9" points="552.9,292.9 554.4,311.4"/><polyline class="m3" points="562.9,357.6 560.3,281.4 549,269.8 562.9,332.2 555.6,304.5 554.3,246.7 561.7,359.9 552.2,281.4 559.2,258.3 547.3,353"/><polyline class="m5" points="548.1,295.2 556,332.2 554.8,246.7 545,256 549.5,283.7 549.8,359.9"/><polyline class="m1" points="552.6,346.1 559.5,348.4"/><polyline class="m6" points="561.8,346.1 560.8,302.2 558.6,269.8 558.1,325.3 549.6,290.6 553.6,269.8"/><polyline class="m8" points="562.4,269.8 551.5,348.4 551.1,260.6"/><polyline class="m14" points="538.9,256 551,274.4"/><polyline class="m7" points="561.2,286 562.4,359.9 549.7,334.5 562.3,297.5 554.4,329.9"/><polyline class="m15" points="559.2,378.4"/><polyline class="m10" points="553.5,297.5 548,329.9"/><polyline class="m2" points="557.5,246.7 537.8,353 555,346.1 558,318.3"/><polyline class="m1" points="557.7,269.8 547.9,251.3"/><polyline class="m11" points="554.8,348.4 547.8,265.2"/><polyline class="m3" points="554.1,334.5 550.7,267.5 556.3,292.9 558.5,378.4 543.1,380.7 550.6,327.6 553.4,304.5 553.7,302.2 542,274.4"/><polyline class="m6" points="547.3,260.6 549.9,346.1 556.8,346.1 548.2,309.1 557.4,302.2 546.3,265.2 544.5,274.4 547.3,336.8"/><polyline class="m12" points="556.7,258.3 547.4,256"/><polyline class="m14" points="553.7,357.6 557.4,380.7"/><polyline class="m8" points="552.2,325.3 554,318.3 549.6,355.3 549.4,373.8 545.5,251.3"/><polyline class="m5" points="546.2,279.1 553.7,336.8 545.4,265.2 557.1,343.7 555.7,322.9"/><polyline class="m7" points="555.9,327.6 553.3,373.8 548,336.8 557,322.9 556.3,295.2 553.4,290.6 558.5,304.5"/><polyline class="m9" points="550.9,355.3 557,339.1 555.8,251.3"/><polyline class="m4" points="554.9,378.4 557.9,297.5 558.6,316 548.3,362.2 553.6,355.3 557.1,265.2 546.3,357.6"/><polyline class="m13" points="555,274.4 554.2,373.8"/><polyline class="m1" points="551.7,362.2 550.1,318.3 555,269.8 556.5,260.6 552.1,279.1"/><polyline class="m2" points="544.9,249 557.2,357.6 543.1,339.1 550.1,327.6 547.3,316"/><polyline class="m6" points="556.5,316 553,286 555.6,357.6 552,286 546.5,336.8 541.8,339.1"/><polyline class="m4" points="558.1,316 545.8,332.2 542.3,281.4 548,322.9"/><polyline class="m11" points="551,378.4 546.1,292.9 545,353 545.9,297.5"/><polyline class="m14" points="554.1,265.2 546.2,256"/><polyline class="m8" points="546.6,318.3"/><polyline class="m5" points="544.3,380.7 554,316 557.5,373.8 551.8,288.3 553.3,265.2 550,311.4 550.3,302.2 555.4,281.4 548,286 544,378.4"/><polyline class="m3" points="546.6,362.2 558.3,292.9 557.4,325.3 548.5,297.5"/><polyline class="m15" points="547.3,276.8 554.9,334.5 545.4,343.7"/><polyline class="m10" points="547.1,376.1 544.3,265.2 538.8,292.9"/><polyline class="m13" points="557.9,357.6"/><polyline class="m7" points="548.7,281.4 552,316 558.5,281.4 547.1,311.4 543.7,336.8"/><polyline class="m9" points="547.3,378.4 557,286 548.5,311.4 552.4,322.9 542.4,246.7 542.8,343.7"/><polyline class="m12" points="558.2,334.5"/><polyline class="m10" points="538.9,380.7 542.3,336.8 545.7,346.1 545,311.4 542.9,267.5 542.1,279.1 540.9,334.5"/><polyline class="m13" points="547.2,281.4 536.2,353"/><polyline class="m6" points="547.3,339.1 545.3,306.8 545,357.6 542.9,373.8 542.8,302.2 542.8,283.7"/><polyline class="m5" points="545.4,357.6 543,304.5 546.6,286 546,322.9 545.6,302.2 541.3,348.4 542,304.5 545.5,246.7 545.6,320.6 540.8,369.1 541.4,258.3"/><polyline class="m12" points="547.1,249"/><polyline class="m3" points="539.6,249 544,269.8 545.3,313.7 541.4,260.6 540.6,256"/><polyline class="m11" points="537.4,260.6"/><polyline class="m1" points="548,325.3"/><polyline class="m15" points="540.6,246.7 542.7,353 539.1,348.4"/><polyline class="m8" points="540.8,339.1 547.8,327.6 538.1,260.6 537.8,246.7"/><polyline class="m2" points="539.5,318.3"/><polyline class="m14" points="546.7,311.4 545.9,376.1"/><polyline class="m7" points="543.5,272.1 547.9,299.8 547.8,343.7 543.9,373.8 545.4,348.4 540.6,373.8 540.3,371.5 539.6,265.2"/><polyline class="m9" points="543.6,299.8 539.3,343.7 540.4,329.9 548,283.7 536.2,362.2 540.1,269.8"/><polyline class="m4" points="542.8,297.5 538.2,304.5"/><polyline class="m8" points="545.1,322.9 542.1,295.2 539.3,371.5 537.9,376.1"/><polyline class="m9" points="540.3,288.3 537.6,251.3 543.7,260.6 543.3,311.4 538.9,327.6 535.9,246.7"/><polyline class="m14" points="547.5,373.8 537.6,380.7 540.7,359.9 542.8,318.3 545.2,332.2 539.9,322.9 541.7,267.5 536.5,272.1 536.8,309.1 536.1,341.4"/><polyline class="m5" points="546.4,288.3 536.4,369.1"/><polyline class="m1" points="546.4,260.6 543.8,262.9"/><polyline class="m6" points="543.9,290.6 541.8,311.4 536.7,313.7"/><polyline class="m4" points="543.4,318.3 541.1,336.8 542.3,378.4 543.4,359.9 540.1,316 536.8,362.2"/><polyline class="m3" points="542,362.2 545.8,348.4 542.7,286"/><polyline class="m11" points="545.2,369.1 544.7,327.6 539.8,274.4"/><polyline class="m7" points="545,325.3 542.1,302.2"/><polyline class="m12" points="538.7,357.6 539.9,325.3 536.2,276.8"/><polyline class="m2" points="538.2,355.3 540.1,378.4"/><polyline class="m15" points="547.7,346.1 547.7,269.8 544.3,334.5 542.3,357.6 540,297.5 541.2,325.3 541.9,251.3 536.3,371.5 536.9,306.8 536.1,302.2"/><polyline class="m13" points="540.9,286 538.3,283.7 540.2,309.1 539,295.2"/><polyline class="m13" points="536.5,253.6 536.9,311.4 536.5,316 536.7,336.8 536.7,329.9 536.4,322.9"/><polyline class="m7" points="536.2,373.8 536.8,274.4"/><polyline class="m6" points="548.7,304.5 536.4,286"/><polyline class="m8" points="536.4,359.9 536.9,269.8 536.1,290.6 536.9,359.9 535.9,311.4"/><polyline class="m12" points="535.9,297.5 536.7,376.1 536.6,279.1 535.9,279.1"/><polyline class="m14" points="536,295.2 536.8,295.2 536.7,267.5 535.9,378.4 535.9,355.3 536.3,325.3 536.4,246.7 536.9,373.8 536.9,288.3 535.9,380.7 536.1,281.4 536.6,348.4 536.1,357.6 536.1,316"/><polyline class="m10" points="536.3,339.1 536.2,336.8 536.6,265.2 536.4,269.8 536.8,249 536.9,302.2"/><polyline class="m9" points="536.8,322.9"/><polyline class="m3" points="536,251.3"/><polyline class="m4" points="536.9,339.1 536.8,304.5 536.9,283.7 536.6,357.6 536.5,299.8 536.7,251.3 536.4,346.1"/><polyline class="m2" points="536.9,318.3 536.2,327.6"/><polyline class="m11" points="536.8,380.7"/><polyline class="m15" points="536.9,353 536,265.2 536.5,297.5 536.9,260.6 536.9,292.9 536.9,325.3 536.6,343.7"/><polyline class="m5" points="536.9,332.2 536.9,334.5"/>
<polyline class="m5" points="845.7,325.3"/><polyline class="m6" points="834.6,362.2 856.9,366.8"/><polyline class="m3" points="849.4,269.8 842,306.8 864.3,246.7"/><polyline class="m2" points="864.3,283.7 864.3,267.5 845.7,318.3 834.6,353 845.7,286 834.6,260.6 845.7,288.3 868,279.1"/><polyline class="m0" points="842,290.6 849.4,339.1 849.4,288.3 853.2,336.8 830.9,260.6 864.3,302.2 864.3,256 864.3,265.2 868,341.4"/><polyline class="m1" points="830.9,265.2 834.6,336.8 849.4,362.2 864.3,299.8 868,359.9 830.9,322.9 864.3,355.3 868,362.2 842,299.8 864.3,380.7 849.4,322.9 842,286"/><polyline class="m4" points="842,316 845.7,313.7"/><polyline class="m3" points="834.6,256 849.4,258.3 830.9,357.6 856.9,364.5 834.6,322.9 845.7,299.8"/><polyline class="m5" points="834.6,246.7 842,318.3 845.7,378.4 849.4,369.1 845.7,322.9"/><polyline class="m7" points="849.4,376.1"/><polyline class="m4" points="842,329.9 842,320.6"/><polyline class="m2" points="842,304.5 864.3,362.2 834.6,286 842,251.3 834.6,348.4 849.4,283.7 842,343.7 834.6,357.6 838.3,350.7"/><polyline class="m1" points="868,355.3 849.4,353 849.4,256 842,260.6 834.6,318.3 868,325.3 868,281.4 834.6,316 838.3,366.8 864.3,336.8"/><polyline class="m0" points="868,283.7 834.6,304.5 842,359.9"/><polyline class="m6" points="845.7,279.1"/><polyline class="m6" points="845.7,309.1 845.7,346.1"/><polyline class="m3" points="849.4,336.8 845.7,362.2 868,295.2 849.4,311.4 849.4,371.5 845.7,258.3"/><polyline class="m7" points="845.7,316"/><polyline class="m12" points="845.7,311.4"/><polyline class="m1" points="830.9,343.7 849.4,265.2 849.4,359.9 856.9,309.1 868,251.3 864.3,343.7 834.6,373.8 842,269.8"/><polyline class="m14" points="860.6,253.6"/><polyline class="m10" points="864.3,262.9 842,279.1"/><polyline class="m5" points="830.9,318.3 849.4,304.5"/><polyline class="m0" points="830.9,325.3 864.3,329.9 864.3,346.1"/><polyline class="m4" points="845.7,297.5 834.6,332.2 845.7,357.6 849.4,286 845.7,304.5"/><polyline class="m2" points="849.4,348.4 864.3,322.9 849.4,302.2"/><polyline class="m9" points="842,302.2 845.7,302.2"/><polyline class="m2" points="864.3,292.9 864.3,297.5 856.9,253.6 849.4,329.9 830.9,339.1 864.3,251.3"/><polyline class="m11" points="842,357.6 845.7,269.8"/><polyline class="m1" points="834.6,283.7 842,336.8 864.3,288.3 830.9,362.2"/><polyline class="m0" points="830.9,251.3 864.3,378.4 864.3,316 868,346.1 864.3,313.7"/><polyline class="m4" points="834.6,325.3 864.3,309.1 849.4,327.6 868,304.5 849.4,378.4"/><polyline class="m3" points="830.9,283.7 868,311.4 849.4,267.5 849.4,380.7 849.4,343.7 849.4,332.2"/><polyline class="m6" points="856.9,320.6"/><polyline class="m9" points="845.7,359.9"/><polyline class="m10" points="842,253.6 849.4,316"/><polyline class="m12" points="838.3,256 849.4,346.1"/><polyline class="m5" points="838.3,258.3 842,283.7"/><polyline class="m12" points="838.3,329.9"/><polyline class="m13" points="838.3,281.4"/><polyline class="m10" points="838.3,341.4"/><polyline class="m5" points="856.9,262.9 845.7,373.8"/><polyline class="m2" points="864.3,269.8 842,311.4 849.4,318.3 838.3,362.2 838.3,346.1"/><polyline class="m7" points="849.4,251.3 864.3,318.3 849.4,341.4"/><polyline class="m1" points="864.3,320.6 868,373.8 864.3,286"/><polyline class="m9" points="845.7,267.5 845.7,290.6 845.7,332.2 842,322.9"/><polyline class="m14" points="842,332.2 842,346.1"/><polyline class="m6" points="856.9,341.4 838.3,306.8 834.6,267.5 856.9,256 856.9,306.8 849.4,325.3"/><polyline class="m15" points="838.3,355.3"/><polyline class="m3" points="838.3,274.4 838.3,371.5 842,265.2 842,267.5"/><polyline class="m4" points="838.3,262.9 834.6,369.1 856.9,313.7"/><polyline class="m14" points="838.3,267.5 856.9,272.1 856.9,292.9 838.3,309.1 838.3,292.9 838.3,251.3"/><polyline class="m13" points="838.3,378.4"/><polyline class="m6" points="838.3,302.2 856.9,249 838.3,276.8"/><polyline class="m7" points="838.3,272.1 834.6,343.7"/><polyline class="m2" points="842,325.3"/><polyline class="m11" points="856.9,274.4"/><polyline class="m5" points="856.9,332.2 838.3,369.1 856.9,258.3 856.9,369.1"/><polyline class="m12" points="838.3,288.3 856.9,380.7 842,373.8 849.4,279.1"/><polyline class="m9" points="849.4,357.6"/><polyline class="m4" points="864.3,311.4 868,297.5 834.6,297.5"/><polyline class="m10" points="856.9,318.3"/><polyline class="m8" points="868,336.8 838.3,279.1 838.3,246.7"/><polyline class="m3" points="830.9,373.8 868,246.7 868,357.6"/><polyline class="m15" points="856.9,353 856.9,371.5 838.3,260.6"/><polyline class="m1" points="864.3,357.6"/><polyline class="m2" points="838.3,327.6 838.3,318.3"/><polyline class="m7" points="838.3,290.6 838.3,334.5"/><polyline class="m8" points="856.9,359.9 856.9,269.8 838.3,286 856.9,325.3 856.9,290.6"/><polyline class="m10" points="856.9,288.3 838.3,339.1 856.9,334.5 838.3,265.2"/><polyline class="m6" points="856.9,267.5 838.3,313.7 838.3,336.8 838.3,304.5"/><polyline class="m12" points="856.9,276.8 856.9,299.8"/><polyline class="m4" points="856.9,362.2 838.3,316 856.9,339.1 830.9,355.3"/><polyline class="m15" points="838.3,353 838.3,359.9 856.9,265.2 849.4,373.8 856.9,297.5"/><polyline class="m14" points="838.3,295.2 856.9,295.2 856.9,329.9"/><polyline class="m13" points="838.3,283.7 838.3,253.6 856.9,260.6 856.9,311.4"/><polyline class="m7" points="838.3,373.8 849.4,274.4"/><polyline class="m4" points="856.9,304.5 856.9,283.7 838.3,357.6 830.9,299.8 856.9,251.3 856.9,346.1"/><polyline class="m11" points="838.3,348.4"/><polyline class="m13" points="856.9,336.8"/><polyline class="m15" points="838.3,325.3 838.3,343.7"/><polyline class="m3" points="830.9,327.6"/><polyline class="m9" points="842,376.1 856.9,322.9"/><polyline class="m10" points="838.3,269.8 838.3,249 856.9,302.2"/><polyline class="m14" points="856.9,378.4 856.9,355.3 856.9,246.7 856.9,373.8 838.3,380.7 856.9,281.4 856.9,348.4 856.9,357.6 856.9,316"/><polyline class="m6" points="856.9,343.7 856.9,286"/><polyline class="m2" points="856.9,327.6"/><polyline class="m5" points="838.3,332.2"/><polyline class="m12" points="838.3,311.4 856.9,376.1 838.3,299.8 838.3,322.9 856.9,279.1"/>
<polyline class="m5" points="980.4,274.4 980.4,341.4 1001.8,262.9"/><polyline class="m1" points="1023.2,355.3 1023.2,249 1023.2,299.8 980.4,366.8 1023.2,304.5"/><polyline class="m3" points="980.4,306.8 1001.8,364.5 1023.2,269.8 980.4,262.9 980.4,258.3 1023.2,322.9"/><polyline class="m2" points="1023.2,343.7 1023.2,334.5 1023.2,246.7 1023.2,302.2 1001.8,350.7"/><polyline class="m0" points="1023.2,267.5 1023.2,279.1 1023.2,327.6 1023.2,357.6 1023.2,348.4 1023.2,371.5 1023.2,311.4"/><polyline class="m4" points="980.4,309.1 980.4,320.6"/><polyline class="m13" points="980.4,369.1"/><polyline class="m6" points="1001.8,366.8 980.4,246.7 1001.8,253.6"/><polyline class="m14" points="980.4,362.2 980.4,256"/><polyline class="m12" points="980.4,304.5 980.4,346.1"/><polyline class="m4" points="1001.8,297.5 1001.8,362.2"/><polyline class="m14" points="980.4,249 1001.8,272.1 1001.8,309.1 1001.8,292.9"/><polyline class="m13" points="1001.8,353 980.4,272.1 980.4,329.9 980.4,260.6"/><polyline class="m5" points="980.4,292.9 1001.8,258.3 1001.8,369.1 1001.8,288.3"/><polyline class="m8" points="1001.8,371.5"/><polyline class="m10" points="980.4,318.3"/><polyline class="m15" points="980.4,313.7 980.4,332.2 980.4,276.8 980.4,371.5 980.4,267.5"/><polyline class="m9" points="980.4,251.3 1001.8,380.7 1001.8,378.4"/><polyline class="m7" points="980.4,339.1 1001.8,341.4"/><polyline class="m6" points="1001.8,256 1001.8,306.8 1001.8,318.3 980.4,283.7"/><polyline class="m1" points="1001.8,320.6 1023.2,325.3"/><polyline class="m10" points="980.4,288.3 1001.8,334.5 1001.8,265.2"/><polyline class="m5" points="1001.8,290.6 1001.8,332.2"/><polyline class="m15" points="980.4,302.2 980.4,353 980.4,359.9 980.4,265.2 980.4,297.5"/><polyline class="m12" points="1001.8,276.8 1001.8,299.8 980.4,311.4 980.4,376.1"/><polyline class="m8" points="1001.8,359.9 980.4,269.8 1001.8,325.3 980.4,290.6"/><polyline class="m6" points="1001.8,267.5 1001.8,313.7"/><polyline class="m2" points="1023.2,318.3"/><polyline class="m9" points="1001.8,376.1"/><polyline class="m14" points="980.4,348.4 1001.8,295.2 980.4,295.2 980.4,336.8 1001.8,329.9"/><polyline class="m4" points="980.4,334.5 1001.8,339.1 1001.8,355.3 1001.8,304.5"/><polyline class="m13" points="980.4,253.6 1001.8,260.6 1001.8,311.4"/><polyline class="m12" points="1001.8,279.1 980.4,279.1"/><polyline class="m4" points="1001.8,283.7 1001.8,357.6 980.4,299.8 1001.8,251.3 1001.8,346.1"/><polyline class="m10" points="1001.8,269.8 1001.8,249 1001.8,302.2"/><polyline class="m6" points="1001.8,343.7 1001.8,286"/><polyline class="m2" points="1001.8,327.6"/><polyline class="m7" points="1001.8,373.8 1001.8,274.4"/><polyline class="m14" points="980.4,378.4 980.4,355.3 1001.8,246.7 980.4,373.8 980.4,380.7 1001.8,281.4 980.4,281.4 1001.8,348.4 980.4,357.6 980.4,316"/><polyline class="m8" points="980.4,286"/><polyline class="m15" points="980.4,327.6 980.4,325.3 980.4,343.7"/><polyline class="m9" points="980.4,322.9"/><polyline class="m13" points="1001.8,316 1001.8,336.8 1001.8,322.9"/>
<polyline class="m13" points="1159.4,297.5 1159.4,311.4"/><polyline class="m8" points="1139.9,362.2"/><polyline class="m2" points="1139.9,246.7 1139.9,371.5 1165.9,350.7 1139.9,316 1159.4,281.4 1159.4,355.3 1159.4,316 1159.4,251.3 1139.9,272.1"/><polyline class="m11" points="1139.9,313.7"/><polyline class="m15" points="1159.4,336.8"/><polyline class="m5" points="1139.9,290.6"/><polyline class="m0" points="1139.9,320.6"/><polyline class="m9" points="1139.9,339.1"/><polyline class="m10" points="1146.4,346.1"/><polyline class="m1" points="1139.9,249 1139.9,359.9 1165.9,366.8 1139.9,309.1 1139.9,292.9 1139.9,288.3 1159.4,279.1 1139.9,332.2"/><polyline class="m3" points="1159.4,253.6 1165.9,364.5 1159.4,288.3 1139.9,336.8 1146.4,332.2"/><polyline class="m14" points="1139.9,253.6 1159.4,269.8 1139.9,378.4"/><polyline class="m7" points="1159.4,378.4 1139.9,311.4 1146.4,265.2 1139.9,346.1"/><polyline class="m4" points="1159.4,353 1139.9,279.1 1139.9,251.3 1159.4,290.6 1139.9,343.7 1159.4,346.1"/><polyline class="m6" points="1146.4,343.7 1146.4,253.6 1159.4,325.3"/><polyline class="m11" points="1159.4,295.2 1139.9,299.8"/><polyline class="m7" points="1159.4,362.2 1165.9,341.4 1146.4,336.8 1139.9,265.2"/><polyline class="m12" points="1139.9,355.3 1139.9,304.5 1139.9,380.7"/><polyline class="m2" points="1159.4,260.6 1159.4,348.4"/><polyline class="m10" points="1146.4,292.9 1159.4,292.9 1159.4,318.3"/><polyline class="m4" points="1139.9,281.4 1146.4,325.3"/><polyline class="m13" points="1146.4,353 1146.4,348.4"/><polyline class="m9" points="1146.4,327.6"/><polyline class="m3" points="1159.4,304.5 1139.9,258.3 1146.4,290.6 1159.4,302.2 1159.4,327.6 1146.4,246.7 1159.4,359.9"/><polyline class="m5" points="1165.9,262.9 1159.4,267.5 1159.4,313.7 1139.9,269.8 1165.9,258.3"/><polyline class="m1" points="1165.9,320.6 1139.9,325.3"/><polyline class="m6" points="1165.9,256 1165.9,306.8 1146.4,260.6 1139.9,283.7 1152.9,325.3"/><polyline class="m8" points="1146.4,318.3 1159.4,371.5"/><polyline class="m14" points="1139.9,267.5 1165.9,272.1"/><polyline class="m15" points="1146.4,376.1 1146.4,302.2 1165.9,371.5 1146.4,286"/><polyline class="m12" points="1139.9,373.8 1165.9,276.8"/><polyline class="m6" points="1159.4,373.8 1139.9,286 1139.9,276.8 1165.9,267.5 1165.9,313.7"/><polyline class="m8" points="1139.9,376.1 1159.4,265.2 1165.9,359.9"/><polyline class="m15" points="1146.4,251.3 1165.9,353 1146.4,359.9"/><polyline class="m9" points="1159.4,380.7 1146.4,378.4 1139.9,334.5"/><polyline class="m7" points="1146.4,269.8 1159.4,334.5"/><polyline class="m2" points="1152.9,329.9 1139.9,318.3"/><polyline class="m4" points="1146.4,297.5 1165.9,362.2 1146.4,316 1165.9,334.5 1159.4,339.1"/><polyline class="m5" points="1165.9,369.1 1146.4,281.4 1146.4,288.3 1139.9,295.2"/><polyline class="m14" points="1165.9,309.1 1165.9,292.9 1146.4,295.2 1165.9,295.2 1146.4,373.8"/><polyline class="m10" points="1139.9,348.4 1165.9,318.3 1165.9,288.3 1165.9,339.1 1146.4,334.5"/><polyline class="m13" points="1146.4,299.8 1146.4,357.6 1139.9,260.6 1165.9,253.6 1165.9,260.6"/><polyline class="m11" points="1139.9,297.5"/><polyline class="m3" points="1159.4,357.6"/><polyline class="m7" points="1152.9,322.9 1139.9,357.6 1165.9,274.4"/><polyline class="m9" points="1139.9,322.9 1165.9,283.7 1165.9,302.2 1165.9,322.9"/><polyline class="m12" points="1146.4,279.1 1165.9,311.4 1165.9,376.1 1165.9,279.1 1146.4,322.9 1152.9,279.1"/><polyline class="m8" points="1165.9,290.6 1159.4,343.7 1159.4,286"/><polyline class="m14" points="1165.9,329.9 1165.9,378.4 1165.9,355.3 1165.9,246.7 1165.9,373.8 1165.9,380.7 1165.9,281.4 1165.9,348.4 1165.9,357.6 1152.9,316"/><polyline class="m13" points="1165.9,316 1165.9,336.8"/><polyline class="m3" points="1165.9,327.6"/><polyline class="m2" points="1152.9,327.6"/><polyline class="m5" points="1165.9,332.2"/><polyline class="m4" points="1165.9,304.5 1159.4,283.7 1165.9,299.8 1165.9,251.3 1165.9,346.1"/><polyline class="m6" points="1165.9,286"/><polyline class="m15" points="1165.9,297.5 1159.4,322.9 1139.9,327.6 1165.9,325.3 1165.9,343.7"/><polyline class="m10" points="1165.9,265.2 1165.9,269.8 1165.9,249 1139.9,302.2"/>
<polyline class="m10" points="1302.3,279.1 1299.2,256 1300.4,362.2 1302.8,309.1 1299.6,246.7"/><polyline class="m11" points="1307.9,371.5 1302.6,304.5 1306.8,362.2 1308.2,279.1"/><polyline class="m9" points="1317.2,329.9 1303.5,251.3"/><polyline class="m12" points="1318,353 1313.4,258.3"/><polyline class="m3" points="1290.1,364.5"/><polyline class="m13" points="1305.8,279.1 1303.5,246.7 1305.8,292.9 1318,297.5 1304.7,292.9"/><polyline class="m4" points="1299.6,276.8 1287.3,369.1"/><polyline class="m7" points="1310.1,380.7 1301,283.7"/><polyline class="m15" points="1327.6,297.5 1317.2,292.9 1308,313.7 1319.1,348.4 1316.1,343.7 1309.6,371.5 1313.2,297.5 1311.8,329.9 1314.6,299.8 1306.8,350.7 1303,251.3 1309.4,318.3 1307.1,262.9 1307.2,336.8 1316,332.2 1314.4,353 1313,346.1 1322.6,297.5 1316.4,362.2"/><polyline class="m8" points="1308.3,343.7 1301.4,362.2 1302,290.6"/><polyline class="m0" points="1273.1,327.6 1272.8,297.5 1273.4,297.5 1273.3,353 1277.6,353 1277.4,309.1 1272.8,355.3 1273.5,279.1 1278,246.7 1273.7,332.2 1278.7,353"/><polyline class="m1" points="1273,318.3 1272.9,348.4"/><polyline class="m14" points="1323.4,332.2 1314.7,329.9 1323.6,292.9 1312.6,279.1 1305.3,318.3 1310.6,302.2 1311.6,260.6 1307.1,343.7 1307.4,325.3 1306.4,325.3 1297.1,253.6 1317.9,348.4"/><polyline class="m6" points="1288,366.8"/><polyline class="m15" points="1303,267.5 1316.2,380.7 1306.5,274.4 1309.2,279.1 1310.4,297.5 1303.5,371.5 1301.3,251.3 1304.9,348.4 1304.6,313.7 1310.8,357.6 1305.2,325.3 1312.3,380.7 1304.8,376.1 1301.3,371.5 1310.1,332.2 1308.5,311.4 1309.5,302.2 1309.2,362.2 1310.9,371.5"/><polyline class="m2" points="1279.9,246.7"/><polyline class="m3" points="1286.3,369.1"/><polyline class="m11" points="1307.3,297.5"/><polyline class="m0" points="1278,380.7 1273.8,290.6 1273.6,249 1273.2,346.1 1273.3,251.3 1276.8,267.5"/><polyline class="m5" points="1292.7,369.1"/><polyline class="m9" points="1298.8,292.9 1296.1,274.4"/><polyline class="m6" points="1290,304.5"/><polyline class="m10" points="1293.9,295.2 1310.4,262.9"/><polyline class="m4" points="1285.6,369.1"/><polyline class="m8" points="1295,295.2"/><polyline class="m14" points="1315.5,297.5 1309.9,279.1 1303.7,380.7 1302.7,371.5 1305.4,316 1309.3,346.1 1311.8,359.9 1306.2,260.6 1308.4,362.2 1312.5,258.3 1307.4,357.6 1301.3,288.3 1301.6,262.9 1308.6,373.8 1311.3,334.5 1306.1,343.7 1312.1,353 1307.3,348.4"/><polyline class="m1" points="1273.4,281.4 1279.7,256 1281.6,366.8 1272.8,262.9 1272.9,286 1276.7,378.4 1273.3,348.4 1273.8,299.8 1273.7,369.1"/><polyline class="m12" points="1300.6,249 1307.3,318.3"/><polyline class="m13" points="1311.1,373.8 1308.2,260.6 1313.4,348.4 1310.2,302.2 1307.8,332.2 1306,357.6"/><polyline class="m2" points="1276.5,327.6 1276.7,322.9 1279,369.1 1273.7,286 1273.5,343.7 1273.1,380.7 1277.4,373.8 1276.5,311.4"/><polyline class="m14" points="1303.8,325.3 1300,283.7 1300.4,251.3 1298.1,380.7 1304,378.4 1296.1,256 1304.5,302.2 1299.4,362.2 1301.2,272.1 1298.6,276.8"/><polyline class="m8" points="1294.1,297.5"/><polyline class="m12" points="1314,292.9 1292.3,276.8 1289.6,256 1299.4,309.1"/><polyline class="m13" points="1302.7,316 1300.1,288.3 1297.4,249 1295.6,339.1 1301.6,341.4 1293.4,362.2 1295.9,309.1 1298.3,329.9 1303.5,311.4"/><polyline class="m11" points="1297.8,318.3"/><polyline class="m5" points="1286.4,362.2 1281,256 1284.2,362.2"/><polyline class="m10" points="1291.5,353"/><polyline class="m6" points="1280.9,279.1"/><polyline class="m0" points="1273.7,304.5 1272.8,359.9 1276.5,281.4"/><polyline class="m1" points="1277.9,279.1 1279.2,309.1 1277.5,336.8 1277.4,355.3 1277.2,348.4 1276.6,318.3 1276.9,332.2 1272.9,311.4 1272.8,288.3 1277.1,265.2 1273.5,359.9 1272.8,269.8 1273.3,316"/><polyline class="m9" points="1300.3,353"/><polyline class="m3" points="1280.2,353 1279.3,279.1"/><polyline class="m15" points="1307.5,346.1 1309.2,348.4 1290.2,274.4 1304.6,346.1 1295.6,362.2 1301.4,279.1 1305.2,272.1 1296.2,369.1 1297.9,297.5 1305.7,302.2 1303.7,295.2 1301.1,295.2 1300.8,318.3"/><polyline class="m7" points="1284.2,339.1"/><polyline class="m11" points="1293,309.1 1284.5,369.1"/><polyline class="m6" points="1282.2,256"/><polyline class="m1" points="1277,286 1277,297.5 1277.9,297.5 1277.8,343.7 1272.8,373.8"/><polyline class="m2" points="1277.5,292.9 1278,378.4 1278.7,249 1277.7,283.7 1278.2,339.1 1272.8,265.2 1277.9,286 1273.6,260.6 1277.3,318.3 1276.6,346.1"/><polyline class="m3" points="1279.7,380.7 1278.9,274.4 1278.8,304.5 1278.9,290.6 1279.8,355.3 1276.8,302.2 1278.4,311.4"/><polyline class="m12" points="1291.2,265.2 1289.2,304.5 1288.9,265.2"/><polyline class="m13" points="1292.3,329.9 1291.1,297.5 1295.1,311.4 1301.6,309.1 1295.5,380.7 1302,267.5 1294.3,279.1 1289.5,260.6"/><polyline class="m10" points="1286.4,260.6"/><polyline class="m4" points="1280.9,369.1"/><polyline class="m15" points="1291.8,332.2 1297.6,339.1 1301.9,329.9 1304.7,343.7 1296.7,299.8 1296.3,290.6 1299.5,279.1 1301.5,343.7 1304.3,329.9 1301.9,318.3 1303.2,339.1 1292.7,353 1293.7,246.7"/><polyline class="m14" points="1301.6,297.5 1302.1,380.7 1301.2,311.4 1298.7,311.4 1292,371.5 1300.8,292.9 1301,348.4 1304.4,359.9 1304.5,357.6 1295.2,304.5 1296.8,251.3 1299.6,373.8 1286.9,256 1295.6,316 1288.3,304.5 1301.1,378.4 1290.2,311.4 1293.4,249"/><polyline class="m14" points="1299.8,302.2 1291.2,267.5 1299.1,302.2 1293,371.5 1301,322.9 1302.5,357.6 1293.6,283.7 1295.1,267.5 1292,348.4 1292.3,380.7 1297.1,322.9 1301,325.3"/><polyline class="m13" points="1299.7,346.1 1287.2,353 1288.8,283.7 1288.7,309.1"/><polyline class="m2" points="1276.9,359.9 1273.1,325.3 1278.1,260.6 1278.6,325.3 1277.9,355.3"/><polyline class="m1" points="1277.9,373.8 1277.5,295.2"/><polyline class="m12" points="1293.5,373.8"/><polyline class="m4" points="1281.8,279.1 1281.4,359.9"/><polyline class="m11" points="1305.3,336.8 1287.5,274.4 1287.3,251.3"/><polyline class="m10" points="1295.8,329.9"/><polyline class="m8" points="1283,355.3 1284.7,318.3 1285.1,246.7 1284.2,371.5 1288.1,376.1"/><polyline class="m9" points="1284.3,260.6"/><polyline class="m15" points="1303.9,260.6 1294.4,348.4 1299.2,258.3 1300,369.1 1299.9,327.6 1291.4,318.3 1303,286 1294.5,327.6 1293.8,336.8 1299,290.6 1291.6,288.3 1296.8,353 1290,339.1 1288.3,311.4 1296.1,334.5 1301.5,373.8 1301,269.8 1297.8,353 1296.9,378.4 1290.7,302.2 1290.6,332.2 1298.3,302.2 1306.5,299.8 1290.5,251.3 1293.9,322.9"/><polyline class="m6" points="1281.3,251.3"/><polyline class="m5" points="1279.7,362.2 1283.5,369.1 1279.6,258.3"/><polyline class="m3" points="1278.5,269.8 1279.2,311.4 1282.1,246.7 1277.5,362.2 1279.2,359.9"/><polyline class="m8" points="1279.5,348.4 1279.5,376.1"/><polyline class="m4" points="1278.9,322.9 1279.3,297.5 1282.7,362.2"/><polyline class="m15" points="1294.9,373.8 1290.7,276.8 1287.9,371.5 1293.1,316 1290.3,376.1 1299.2,304.5 1301.8,376.1 1287.2,359.9 1299.5,260.6 1295.3,359.9 1294.5,302.2 1281.7,309.1 1304.6,373.8 1294.6,311.4 1296.1,346.1 1293.2,246.7 1298.5,267.5 1296.4,359.9 1289.5,316 1296.5,260.6 1297.4,269.8 1291,373.8 1297.9,359.9 1296.1,279.1 1285,316"/><polyline class="m13" points="1292.9,272.1 1295.5,322.9 1287.2,329.9 1291.1,378.4 1295.7,260.6"/><polyline class="m7" points="1281.7,260.6"/><polyline class="m2" points="1278.9,329.9 1278.4,327.6"/><polyline class="m10" points="1283.8,348.4 1282,318.3"/><polyline class="m11" points="1284.9,292.9"/><polyline class="m9" points="1286.3,348.4 1281.6,380.7 1283.5,378.4"/><polyline class="m6" points="1280.9,249 1279.6,249 1282.8,276.8 1283.9,267.5"/><polyline class="m14" points="1284.3,272.1 1294.7,288.3 1295,265.2 1293.9,355.3 1286.7,286 1285.8,309.1 1288.9,318.3 1303.2,322.9 1291.2,362.2 1287.7,269.8 1287.7,292.9 1285.7,251.3"/><polyline class="m12" points="1285.9,380.7 1282.6,346.1 1288.5,334.5"/><polyline class="m3" points="1278.8,378.4 1272.9,357.6 1277.2,302.2"/><polyline class="m5" points="1282.7,369.1 1278.8,288.3 1280.6,295.2 1280.7,322.9"/><polyline class="m13" points="1285.4,283.7 1284.6,253.6 1291,260.6"/><polyline class="m12" points="1290,329.9 1283.8,276.8 1282.6,299.8 1284.5,279.1"/><polyline class="m4" points="1279.5,269.8 1278.3,316 1278.2,265.2 1277.5,334.5 1279.8,339.1 1283.8,355.3"/><polyline class="m10" points="1289.5,288.3 1283.7,281.4 1280.7,339.1 1286.6,288.3 1283,334.5 1284.5,304.5 1285.6,336.8 1281,265.2"/><polyline class="m9" points="1283.9,334.5 1281.1,260.6"/><polyline class="m14" points="1298,286 1288.8,297.5 1290.8,269.8 1296.7,348.4 1282.3,295.2 1290.1,334.5 1288.1,295.2 1283.7,373.8 1302.1,336.8 1296.7,283.7 1296.1,373.8 1293.6,286"/><polyline class="m8" points="1283.9,359.9 1282.9,269.8 1282.7,343.7"/><polyline class="m11" points="1281.2,297.5"/><polyline class="m15" points="1303.5,332.2 1284.1,251.3 1298.7,283.7 1292.8,343.7 1295.4,320.6 1302.4,297.5 1290.9,325.3 1288.5,302.2 1289.5,373.8 1298.5,316 1294.5,357.6 1300.8,357.6 1284.9,353 1285.4,359.9 1292.1,292.9 1285.6,265.2 1287,373.8 1288.2,297.5 1288.8,322.9 1291.4,309.1 1301.5,286 1292.3,256"/><polyline class="m2" points="1277.9,318.3"/><polyline class="m7" points="1280,316 1278.7,286 1282.8,290.6 1282,334.5"/><polyline class="m5" points="1279.5,281.4 1279.6,290.6"/><polyline class="m6" points="1280.3,313.7 1283.3,304.5"/><polyline class="m7" points="1280,357.6 1280.9,373.8 1281.3,274.4"/><polyline class="m15" points="1296.5,269.8 1290.2,357.6 1289.8,327.6 1286.6,325.3 1299.9,334.5 1296.9,343.7 1297.4,357.6 1299.6,334.5 1286.5,311.4 1288.4,316"/><polyline class="m3" points="1279.2,327.6"/><polyline class="m8" points="1280.3,290.6 1287.2,343.7 1280.9,286"/><polyline class="m9" points="1281.6,376.1 1283.8,283.7 1286.6,302.2 1281.9,322.9"/><polyline class="m11" points="1288.8,348.4"/><polyline class="m6" points="1281,343.7 1281.2,346.1 1279.8,286"/><polyline class="m4" points="1278.7,357.6 1279.9,304.5 1279.3,283.7 1278,357.6 1285.3,299.8 1277.9,251.3 1278.1,346.1"/><polyline class="m12" points="1287.4,311.4 1299.9,316 1283.8,376.1 1290.6,362.2 1287.5,299.8 1300.6,327.6 1289.9,279.1 1287.1,279.1"/><polyline class="m10" points="1283.7,269.8 1285.2,249 1282.4,302.2"/><polyline class="m5" points="1280.9,332.2"/><polyline class="m2" points="1273.2,322.9 1280.6,327.6"/><polyline class="m13" points="1283.7,311.4 1284.4,327.6 1296.1,322.9 1283.6,316 1290.4,336.8 1293.7,327.6 1283.9,322.9 1299.7,265.2"/><polyline class="m14" points="1284.6,329.9 1288.4,341.4 1290.1,346.1 1294.4,378.4 1290.1,355.3 1284.8,357.6 1288.5,246.7 1294,256 1291.3,357.6 1285.9,373.8 1289.1,380.7 1286.8,281.4 1291.2,281.4 1290.2,348.4 1283.8,357.6 1288.8,316"/>
<polyline class="m5" points="1441,343.7 1443.9,373.8"/><polyline class="m1" points="1441,362.2 1441,251.3 1441,339.1 1441,269.8 1441,334.5 1441,309.1 1441,283.7 1441,318.3 1441,355.3 1441,304.5 1441,292.9 1441,286 1441,302.2 1441,348.4 1441,322.9 1443.9,380.7 1443.9,355.3 1443.9,362.2 1443.9,299.8"/><polyline class="m8" points="1441,290.6 1443.9,251.3"/><polyline class="m6" points="1441,256 1441,346.1"/><polyline class="m2" points="1441,246.7 1441,327.6 1441,380.7 1441,353 1441,267.5 1441,265.2 1441,260.6 1441,313.7 1441,378.4 1443.9,260.6 1443.9,297.5 1443.9,272.1 1443.9,262.9 1443.9,279.1 1443.9,316"/><polyline class="m3" points="1441,297.5 1441,371.5 1441,311.4 1441,253.6 1443.9,369.1"/><polyline class="m4" points="1441,329.9 1443.9,318.3 1443.9,309.1"/><polyline class="m7" points="1443.9,371.5"/><polyline class="m0" points="1441,281.4 1441,279.1 1441,359.9 1441,357.6 1441,288.3 1441,336.8 1441,373.8 1443.9,353 1443.9,311.4"/><polyline class="m5" points="1443.9,327.6"/><polyline class="m8" points="1446.7,371.5"/><polyline class="m7" points="1443.9,336.8"/><polyline class="m10" points="1446.7,322.9"/><polyline class="m4" points="1443.9,341.4 1446.7,313.7 1446.7,297.5 1446.7,346.1 1446.7,357.6"/><polyline class="m6" points="1443.9,348.4 1446.7,366.8 1446.7,376.1 1446.7,274.4 1446.7,362.2"/><polyline class="m1" points="1443.9,265.2 1443.9,286 1443.9,346.1 1443.9,378.4 1443.9,304.5 1446.7,320.6 1446.7,353 1446.7,295.2 1446.7,260.6 1446.7,348.4 1446.7,290.6 1446.7,311.4 1446.7,251.3 1446.7,304.5 1446.7,355.3 1446.7,373.8 1446.7,327.6 1446.7,334.5 1446.7,336.8 1446.7,343.7"/><polyline class="m0" points="1443.9,269.8 1443.9,322.9 1443.9,288.3 1443.9,332.2 1446.7,281.4 1446.7,378.4 1446.7,286 1446.7,302.2"/><polyline class="m2" points="1443.9,281.4 1443.9,357.6 1446.7,246.7 1446.7,283.7 1446.7,288.3 1446.7,318.3 1446.7,316 1446.7,269.8"/><polyline class="m3" points="1443.9,302.2 1443.9,246.7 1443.9,292.9 1446.7,332.2 1446.7,339.1 1446.7,265.2 1446.7,309.1 1446.7,256"/><polyline class="m6" points="1449.5,336.8 1449.5,281.4 1452.4,246.7"/><polyline class="m0" points="1446.7,380.7 1449.5,258.3 1449.5,380.7 1449.5,353 1452.4,380.7"/><polyline class="m8" points="1449.5,325.3 1449.5,371.5"/><polyline class="m14" points="1449.5,253.6"/><polyline class="m2" points="1449.5,276.8 1449.5,334.5 1449.5,339.1 1449.5,306.8 1449.5,311.4 1449.5,318.3 1449.5,343.7 1449.5,378.4 1449.5,246.7 1449.5,357.6 1449.5,348.4 1449.5,251.3 1449.5,290.6 1452.4,249"/><polyline class="m5" points="1449.5,272.1 1452.4,274.4"/><polyline class="m3" points="1449.5,364.5 1449.5,309.1 1449.5,322.9 1449.5,269.8 1449.5,362.2 1449.5,302.2 1449.5,373.8 1449.5,260.6 1449.5,286 1452.4,272.1 1452.4,353 1452.4,369.1 1452.4,304.5 1452.4,334.5"/><polyline class="m1" points="1446.7,279.1 1449.5,292.9 1449.5,279.1 1449.5,329.9 1449.5,283.7 1449.5,297.5 1452.4,313.7 1452.4,309.1 1452.4,290.6 1452.4,253.6 1452.4,269.8"/><polyline class="m4" points="1449.5,265.2 1449.5,316 1452.4,258.3 1452.4,346.1 1452.4,329.9 1452.4,320.6"/><polyline class="m8" points="1452.4,295.2 1452.4,265.2 1455.2,336.8"/><polyline class="m3" points="1452.4,362.2 1452.4,336.8 1452.4,339.1 1452.4,279.1 1452.4,283.7 1452.4,357.6 1452.4,299.8 1452.4,322.9 1452.4,281.4 1455.2,272.1 1455.2,304.5 1455.2,251.3 1455.2,311.4 1455.2,295.2 1455.2,357.6"/><polyline class="m6" points="1452.4,378.4 1455.2,339.1 1455.2,355.3 1455.2,288.3"/><polyline class="m0" points="1452.4,267.5 1452.4,316 1455.2,283.7"/><polyline class="m5" points="1452.4,302.2 1455.2,318.3 1455.2,362.2 1455.2,279.1 1455.2,256"/><polyline class="m2" points="1452.4,359.9 1452.4,343.7 1452.4,260.6 1455.2,350.7 1455.2,341.4 1455.2,329.9 1455.2,302.2 1455.2,378.4 1455.2,380.7"/><polyline class="m12" points="1452.4,373.8"/><polyline class="m13" points="1455.2,260.6"/><polyline class="m4" points="1452.4,288.3 1452.4,327.6 1455.2,276.8"/><polyline class="m1" points="1452.4,348.4 1452.4,318.3 1452.4,311.4 1452.4,256 1455.2,366.8 1455.2,290.6 1455.2,309.1 1455.2,371.5 1455.2,359.9 1455.2,348.4 1455.2,297.5 1455.2,262.9 1455.2,343.7 1455.2,316"/><polyline class="m14" points="1458,253.6"/><polyline class="m1" points="1455.2,299.8 1455.2,322.9 1455.2,325.3 1455.2,286 1455.2,265.2 1458,369.1 1458,267.5 1458,327.6 1458,288.3 1458,302.2 1458,318.3 1458,269.8 1458,249 1458,279.1"/><polyline class="m3" points="1455.2,269.8 1455.2,346.1 1458,274.4 1458,246.7 1458,343.7 1458,260.6 1458,283.7 1458,373.8"/><polyline class="m0" points="1458,359.9 1458,281.4 1458,322.9"/><polyline class="m12" points="1458,346.1 1460.9,276.8"/><polyline class="m6" points="1458,348.4 1458,334.5"/><polyline class="m7" points="1455.2,274.4 1458,339.1"/><polyline class="m2" points="1455.2,246.7 1455.2,332.2 1455.2,373.8 1458,355.3 1458,362.2 1458,336.8 1458,380.7 1458,292.9 1458,332.2 1458,290.6 1458,316 1460.9,369.1"/><polyline class="m4" points="1458,353 1458,309.1 1458,371.5 1458,258.3 1458,357.6 1458,313.7 1458,262.9 1458,325.3 1460.9,371.5"/><polyline class="m5" points="1455.2,253.6 1458,311.4 1458,297.5"/><polyline class="m11" points="1458,304.5 1458,378.4"/><polyline class="m2" points="1460.9,295.2 1460.9,272.1 1460.9,283.7 1460.9,265.2 1460.9,260.6 1463.7,369.1 1463.7,355.3 1463.7,249 1463.7,327.6"/><polyline class="m14" points="1460.9,256 1460.9,290.6 1463.7,256"/><polyline class="m8" points="1460.9,297.5 1460.9,299.8 1463.7,251.3"/><polyline class="m11" points="1460.9,327.6"/><polyline class="m9" points="1460.9,251.3 1460.9,339.1 1460.9,355.3 1460.9,348.4 1460.9,357.6 1463.7,378.4"/><polyline class="m5" points="1460.9,246.7 1460.9,362.2 1460.9,359.9 1460.9,322.9 1460.9,318.3 1460.9,378.4 1460.9,313.7 1460.9,376.1 1463.7,262.9"/><polyline class="m6" points="1460.9,253.6 1460.9,373.8 1463.7,306.8"/><polyline class="m12" points="1460.9,346.1 1463.7,346.1"/><polyline class="m10" points="1463.7,353"/><polyline class="m13" points="1463.7,380.7"/><polyline class="m3" points="1460.9,343.7 1460.9,380.7 1460.9,332.2 1460.9,286 1460.9,267.5 1460.9,334.5 1460.9,336.8 1463.7,274.4 1463.7,258.3"/><polyline class="m7" points="1460.9,353 1463.7,362.2"/><polyline class="m4" points="1460.9,304.5 1460.9,329.9 1460.9,309.1 1460.9,279.1 1460.9,302.2 1463.7,313.7 1463.7,279.1 1463.7,332.2 1463.7,316"/><polyline class="m10" points="1463.7,292.9 1463.7,286 1463.7,265.2"/><polyline class="m15" points="1463.7,276.8 1463.7,376.1 1466.5,302.2 1466.5,332.2 1466.5,297.5 1466.5,380.7"/><polyline class="m4" points="1466.5,304.5 1466.5,318.3 1466.5,336.8 1466.5,279.1 1466.5,359.9"/><polyline class="m13" points="1466.5,353 1466.5,348.4 1466.5,283.7"/><polyline class="m11" points="1466.5,274.4"/><polyline class="m7" points="1463.7,339.1 1466.5,341.4 1466.5,265.2"/><polyline class="m1" points="1463.7,320.6 1463.7,297.5"/><polyline class="m12" points="1463.7,304.5 1466.5,357.6"/><polyline class="m6" points="1463.7,359.9 1463.7,336.8 1463.7,302.2 1466.5,256 1466.5,306.8 1466.5,290.6"/><polyline class="m2" points="1466.5,355.3"/><polyline class="m8" points="1463.7,348.4 1463.7,318.3 1463.7,322.9 1466.5,269.8 1466.5,327.6 1466.5,246.7"/><polyline class="m9" points="1463.7,357.6 1466.5,343.7 1466.5,251.3 1466.5,260.6 1466.5,311.4"/><polyline class="m14" points="1463.7,269.8 1463.7,283.7 1466.5,334.5 1466.5,322.9 1466.5,267.5"/><polyline class="m5" points="1463.7,373.8 1463.7,311.4 1463.7,281.4 1466.5,369.1 1466.5,258.3"/><polyline class="m3" points="1463.7,371.5 1463.7,334.5 1463.7,290.6 1463.7,343.7 1466.5,362.2"/><polyline class="m6" points="1469.4,267.5 1469.4,313.7 1469.4,286"/><polyline class="m3" points="1466.5,286"/><polyline class="m13" points="1466.5,309.1 1466.5,295.2 1469.4,253.6 1469.4,260.6 1469.4,336.8"/><polyline class="m15" points="1469.4,371.5 1469.4,353 1469.4,359.9 1469.4,297.5 1469.4,325.3 1469.4,343.7"/><polyline class="m5" points="1469.4,369.1 1469.4,332.2"/><polyline class="m10" points="1469.4,288.3 1469.4,334.5 1469.4,265.2 1469.4,269.8 1469.4,249 1469.4,302.2"/><polyline class="m9" points="1469.4,322.9"/><polyline class="m4" points="1466.5,316 1469.4,362.2 1469.4,339.1 1469.4,304.5 1469.4,283.7 1469.4,299.8 1469.4,251.3 1469.4,346.1"/><polyline class="m8" points="1466.5,371.5 1466.5,376.1 1469.4,290.6"/><polyline class="m2" points="1469.4,318.3 1469.4,327.6"/><polyline class="m7" points="1466.5,288.3 1469.4,274.4"/><polyline class="m14" points="1469.4,272.1 1469.4,309.1 1469.4,292.9 1469.4,295.2 1469.4,329.9 1469.4,378.4 1469.4,355.3 1469.4,246.7 1469.4,373.8 1469.4,380.7 1469.4,281.4 1469.4,348.4 1469.4,357.6 1469.4,316"/><polyline class="m12" points="1466.5,325.3 1469.4,276.8 1469.4,311.4 1469.4,376.1 1469.4,279.1"/>
<polyline class="m5" points="556.5,481.5 560.4,481.5"/><polyline class="m10" points="556.2,415.4"/><polyline class="m8" points="548.7,481.5"/><polyline class="m3" points="556,481.5 557.3,481.5 554,521.2 560.6,402.2 551.1,481.5"/><polyline class="m6" points="559.9,521.2"/><polyline class="m2" points="540.9,521.2 554.6,494.7 552.1,494.7 560.7,494.7"/><polyline class="m0" points="556.6,534.4 556.5,455.1 559.8,455.1 552.7,534.4 553,415.4 548.7,534.4"/><polyline class="m1" points="556.2,534.4 561.5,415.4 555.7,534.4 557.2,468.3 551.5,415.4 548.6,415.4 548.2,534.4 560,468.3 552.3,468.3"/><polyline class="m4" points="559.5,481.5 551,521.2"/><polyline class="m3" points="546.2,481.5 561.2,468.3 561.7,441.9 559.2,508"/><polyline class="m10" points="558,402.2"/><polyline class="m7" points="562.3,441.9"/><polyline class="m8" points="545.4,415.4"/><polyline class="m13" points="562.9,468.3"/><polyline class="m2" points="557.2,494.7 554.7,468.3 555.5,402.2 559.6,415.4 562.6,441.9 562.9,508 547,415.4 549.9,468.3 537.2,534.4 544.7,415.4"/><polyline class="m0" points="540.9,534.4 546.1,402.2"/><polyline class="m6" points="545.6,481.5"/><polyline class="m1" points="558.2,494.7 548.1,521.2 541.1,415.4 559.5,441.9"/><polyline class="m4" points="548.7,402.2 547.5,415.4 560.7,441.9 562.3,481.5"/><polyline class="m11" points="544.4,481.5"/><polyline class="m14" points="536.4,428.6"/><polyline class="m1" points="551.7,494.7 552.1,402.2 538.5,415.4 536.3,402.2 537.6,415.4"/><polyline class="m3" points="544.5,402.2 558.5,441.9 546.6,534.4 558.3,521.2 557.4,441.9 547.9,468.3"/><polyline class="m9" points="543.3,481.5 542.2,481.5 557,441.9 552.4,508 542.8,521.2"/><polyline class="m6" points="542.8,468.3"/><polyline class="m5" points="544.9,521.2 550.3,441.9 555.4,441.9 541.3,481.5"/><polyline class="m7" points="552,441.9 558.5,508"/><polyline class="m4" points="537.5,521.2"/><polyline class="m14" points="554.1,508"/><polyline class="m13" points="557.9,441.9 539,481.5"/><polyline class="m8" points="549,494.7 543.7,468.3 541.5,402.2"/><polyline class="m9" points="536.1,494.7"/><polyline class="m6" points="548.7,508"/><polyline class="m10" points="541.1,468.3 536.8,508 536.9,441.9"/><polyline class="m1" points="536.1,415.4"/><polyline class="m7" points="545,494.7 536.8,468.3"/><polyline class="m15" points="547.7,441.9 536.9,481.5"/><polyline class="m13" points="536.9,402.2"/><polyline class="m2" points="541.9,494.7"/><polyline class="m14" points="545.2,508 541.7,508 535.9,508 536.6,441.9 536.1,441.9"/><polyline class="m12" points="539.9,508 536.9,494.7 535.9,481.5"/><polyline class="m5" points="545.6,534.4 546.4,441.9"/><polyline class="m3" points="542.6,534.4 537.9,402.2 539.8,494.7 542.7,441.9"/><polyline class="m4" points="542.3,508 540.1,441.9 535.9,521.2 536.5,534.4"/>
<polyline class="m0" points="694.7,455.1 711,534.4 701.6,521.2 696.2,415.4"/><polyline class="m7" points="699.2,481.5"/><polyline class="m2" points="707,402.2 689.3,415.4 713,494.7 690.3,521.2 697.7,415.4 702.1,468.3"/><polyline class="m3" points="713.9,415.4 712,521.2 703.6,402.2 711.5,481.5"/><polyline class="m5" points="713.9,521.2 685.9,481.5 698.7,534.4"/><polyline class="m4" points="705.6,468.3"/><polyline class="m1" points="710,534.4 685.4,415.4 697.2,402.2 706.6,402.2 699.2,521.2 713,402.2 693.3,415.4 686.9,521.2"/><polyline class="m6" points="707,481.5 692.8,481.5"/><polyline class="m9" points="702.1,494.7 702.1,481.5"/><polyline class="m9" points="689.8,481.5 709.5,481.5 704.6,481.5 695.7,481.5 697.7,494.7"/><polyline class="m7" points="713,468.3"/><polyline class="m1" points="706.1,521.2 705.1,415.4 689.3,534.4"/><polyline class="m5" points="706.1,494.7"/><polyline class="m0" points="713,534.4 685.9,415.4 692.8,402.2"/><polyline class="m14" points="712.5,428.6 695.7,494.7"/><polyline class="m10" points="712.5,494.7 699.2,468.3"/><polyline class="m3" points="706.1,534.4 700.2,402.2 709.5,468.3 685.4,468.3"/><polyline class="m2" points="703.1,415.4 694.3,534.4 713,415.4 709,415.4 700.2,494.7"/><polyline class="m4" points="697.2,521.2 700.7,415.4 701.6,402.2 685.9,468.3"/><polyline class="m11" points="690.3,494.7"/><polyline class="m4" points="687.9,521.2 700.2,415.4 703.1,402.2 703.1,521.2 690.8,534.4"/><polyline class="m9" points="690.3,468.3"/><polyline class="m12" points="685.4,441.9 686.9,494.7 707,468.3"/><polyline class="m8" points="694.7,402.2 713.9,508 705.6,508"/><polyline class="m3" points="710,494.7 709.5,494.7 686.9,534.4 713.9,402.2 690.3,402.2"/><polyline class="m2" points="698.7,468.3 697.2,494.7"/><polyline class="m15" points="686.9,468.3"/><polyline class="m6" points="709.5,521.2 697.2,468.3"/><polyline class="m13" points="711,441.9"/><polyline class="m1" points="698.2,415.4 686.9,402.2 705.6,415.4"/><polyline class="m5" points="686.9,481.5"/><polyline class="m7" points="698.7,415.4 693.8,468.3 693.3,521.2"/><polyline class="m14" points="692.8,494.7"/><polyline class="m15" points="693.3,508"/><polyline class="m10" points="710,508 709,508 713.4,508 702.1,441.9"/><polyline class="m4" points="690.3,508 702.6,534.4 713,441.9 692.8,441.9"/><polyline class="m7" points="686.9,508 708,468.3"/><polyline class="m9" points="686.4,494.7 697.7,441.9"/><polyline class="m13" points="694.7,441.9"/><polyline class="m1" points="690.3,415.4"/><polyline class="m5" points="695.7,508"/><polyline class="m14" points="685.9,441.9 713.9,441.9 686.9,441.9 685.4,508 706.6,441.9 692.3,441.9 690.3,441.9 699.2,441.9"/><polyline class="m3" points="696.7,534.4"/><polyline class="m6" points="705.6,441.9"/><polyline class="m12" points="700.2,508 702.6,508 697.7,508 707,441.9"/>
<polyline class="m14" points="980.4,428.6"/><polyline class="m9" points="980.4,481.5"/><polyline class="m12" points="980.4,494.7"/><polyline class="m4" points="1001.8,402.2 1001.8,521.2"/><polyline class="m0" points="1001.8,455.1"/><polyline class="m1" points="1023.2,441.9"/><polyline class="m3" points="980.4,402.2"/><polyline class="m6" points="980.4,521.2"/><polyline class="m8" points="980.4,415.4"/><polyline class="m5" points="1001.8,481.5"/><polyline class="m3" points="1001.8,534.4"/><polyline class="m2" points="1023.2,508"/><polyline class="m4" points="980.4,534.4"/><polyline class="m9" points="1001.8,494.7"/><polyline class="m7" points="1001.8,468.3"/><polyline class="m1" points="1001.8,415.4"/><polyline class="m15" points="980.4,468.3"/><polyline class="m10" points="1001.8,508"/><polyline class="m14" points="980.4,508 1001.8,441.9 980.4,441.9"/>
<polyline class="m3" points="1139.9,534.4 1165.9,402.2"/><polyline class="m1" points="1139.9,402.2 1159.4,402.2 1159.4,521.2"/><polyline class="m4" points="1139.9,521.2 1146.4,494.7 1139.9,468.3 1146.4,402.2"/><polyline class="m2" points="1159.4,468.3"/><polyline class="m8" points="1146.4,481.5 1146.4,521.2"/><polyline class="m10" points="1159.4,494.7"/><polyline class="m5" points="1165.9,481.5 1139.9,415.4"/><polyline class="m9" points="1139.9,481.5"/><polyline class="m14" points="1165.9,428.6"/><polyline class="m6" points="1159.4,415.4"/><polyline class="m0" points="1165.9,455.1"/><polyline class="m2" points="1139.9,508"/><polyline class="m12" points="1139.9,494.7 1146.4,441.9 1146.4,508"/><polyline class="m7" points="1165.9,468.3"/><polyline class="m8" points="1146.4,415.4"/><polyline class="m1" points="1165.9,415.4"/><polyline class="m10" points="1159.4,508 1165.9,508 1139.9,441.9"/><polyline class="m4" points="1165.9,521.2 1159.4,441.9 1165.9,534.4"/><polyline class="m13" points="1146.4,468.3 1159.4,481.5"/><polyline class="m9" points="1165.9,494.7"/><polyline class="m14" points="1165.9,441.9 1152.9,441.9"/>
<polyline class="m14" points="1323.6,441.9 1317.9,441.9 1315.5,441.9 1305.3,468.3 1312.1,441.9 1287.1,428.6"/><polyline class="m1" points="1276.5,494.7"/><polyline class="m3" points="1291.8,402.2 1291.1,402.2 1288.4,402.2"/><polyline class="m0" points="1284,455.1 1284.4,455.1 1273.2,468.3 1273.2,415.4"/><polyline class="m15" points="1311.2,468.3 1327.6,441.9 1319.1,441.9 1316,468.3 1322.6,441.9 1316.2,441.9 1296.6,481.5 1309.5,468.3 1307.5,441.9 1309.2,508"/><polyline class="m10" points="1310.4,415.4"/><polyline class="m4" points="1291.4,402.2 1291.3,415.4"/><polyline class="m8" points="1298.4,481.5"/><polyline class="m12" points="1301.5,494.7 1314,441.9"/><polyline class="m13" points="1298.1,468.3 1302.9,468.3"/><polyline class="m15" points="1305.7,508 1292.3,481.5"/><polyline class="m0" points="1278,534.4 1276.9,415.4 1279.3,402.2 1277.7,415.4"/><polyline class="m13" points="1293.1,468.3"/><polyline class="m5" points="1291,534.4 1283,494.7 1286.8,402.2 1287.5,534.4 1286.1,402.2"/><polyline class="m12" points="1290,468.3"/><polyline class="m2" points="1276.5,468.3 1279.3,415.4 1278.6,494.7 1273.6,441.9 1277.3,468.3"/><polyline class="m6" points="1284.6,521.2"/><polyline class="m11" points="1289.7,521.2"/><polyline class="m8" points="1290.9,415.4"/><polyline class="m10" points="1288.4,521.2"/><polyline class="m3" points="1278.9,494.7"/><polyline class="m1" points="1278.5,521.2 1278.7,415.4 1272.9,441.9 1283.6,415.4"/><polyline class="m14" points="1294.9,494.7"/><polyline class="m9" points="1287.1,481.5 1290.1,481.5 1285.7,481.5"/><polyline class="m4" points="1287.4,402.2"/><polyline class="m7" points="1289.1,415.4 1280.8,468.3 1282.3,521.2"/><polyline class="m1" points="1272.8,402.2 1280.6,415.4"/><polyline class="m2" points="1273.1,494.7"/><polyline class="m15" points="1294.4,481.5 1296.1,468.3 1306.5,441.9 1304.6,441.9 1303.5,441.9 1302.4,508 1300.8,508 1287,468.3 1291.4,494.7"/><polyline class="m3" points="1280.6,494.7 1282.3,534.4 1283.3,402.2"/><polyline class="m14" points="1301,468.3 1303.2,508 1302.1,441.9"/><polyline class="m9" points="1286.9,415.4 1283.1,468.3"/><polyline class="m11" points="1305.3,508"/><polyline class="m4" points="1282.4,415.4 1280.3,402.2 1279.3,521.2"/><polyline class="m13" points="1286.9,521.2"/><polyline class="m8" points="1285.7,402.2"/><polyline class="m12" points="1287.3,494.7 1286.6,468.3"/><polyline class="m5" points="1284.6,481.5"/><polyline class="m13" points="1293.7,508 1299.7,508"/><polyline class="m4" points="1283.8,534.4 1278,508 1285.3,534.4 1278.1,441.9"/><polyline class="m3" points="1279.2,534.4"/><polyline class="m6" points="1279.8,441.9"/><polyline class="m14" points="1294.4,441.9 1294,441.9 1291.3,508 1289.1,508 1291.2,441.9 1290.2,441.9 1283.8,441.9 1288.8,441.9"/><polyline class="m7" points="1280.9,508 1281.3,468.3"/><polyline class="m1" points="1281.3,415.4"/><polyline class="m2" points="1273.2,508"/><polyline class="m15" points="1301.5,441.9 1296.5,441.9 1297.4,508 1299.6,441.9"/><polyline class="m10" points="1285.2,508 1282.4,441.9"/><polyline class="m12" points="1300.6,441.9 1281.9,508 1287.1,441.9"/><polyline class="m9" points="1281.6,494.7 1281.9,441.9"/>
<polyline class="m4" points="1446.7,481.5"/><polyline class="m3" points="1441,494.7 1446.7,415.4 1446.7,494.7"/><polyline class="m6" points="1443.9,521.2"/><polyline class="m0" points="1441,468.3 1441,455.1 1443.9,455.1 1443.9,508 1446.7,534.4"/><polyline class="m1" points="1441,534.4 1441,402.2 1441,508 1441,441.9 1443.9,534.4 1443.9,415.4 1443.9,402.2 1443.9,494.7 1443.9,441.9 1446.7,402.2"/><polyline class="m7" points="1443.9,481.5 1446.7,468.3"/><polyline class="m2" points="1441,415.4 1441,521.2 1441,481.5 1443.9,468.3"/><polyline class="m5" points="1449.5,481.5 1452.4,441.9"/><polyline class="m3" points="1446.7,521.2 1449.5,534.4 1452.4,521.2 1452.4,481.5"/><polyline class="m8" points="1452.4,468.3"/><polyline class="m1" points="1446.7,508 1449.5,402.2 1452.4,534.4 1455.2,534.4"/><polyline class="m10" points="1455.2,415.4"/><polyline class="m0" points="1446.7,441.9 1449.5,468.3 1452.4,402.2 1455.2,402.2"/><polyline class="m4" points="1449.5,441.9 1452.4,494.7 1455.2,521.2"/><polyline class="m2" points="1449.5,415.4 1449.5,521.2 1449.5,494.7 1449.5,508 1452.4,415.4 1452.4,508 1455.2,494.7"/><polyline class="m4" points="1458,521.2 1460.9,508"/><polyline class="m7" points="1455.2,481.5"/><polyline class="m3" points="1458,494.7 1458,402.2 1458,534.4 1460.9,468.3"/><polyline class="m1" points="1455.2,441.9 1455.2,508 1455.2,468.3 1458,508 1458,441.9 1460.9,521.2 1460.9,534.4 1460.9,415.4"/><polyline class="m5" points="1460.9,441.9 1463.7,402.2"/><polyline class="m14" points="1458,428.6"/><polyline class="m2" points="1458,468.3 1458,415.4 1463.7,534.4"/><polyline class="m6" points="1460.9,494.7 1460.9,402.2"/><polyline class="m9" points="1458,481.5 1460.9,481.5"/><polyline class="m1" points="1463.7,415.4 1469.4,415.4"/><polyline class="m14" points="1463.7,441.9 1469.4,441.9"/><polyline class="m5" points="1463.7,468.3 1469.4,402.2"/><polyline class="m6" points="1463.7,521.2 1466.5,468.3"/><polyline class="m12" points="1466.5,508"/><polyline class="m2" points="1466.5,494.7"/><polyline class="m4" points="1469.4,534.4"/><polyline class="m7" points="1466.5,441.9 1469.4,468.3"/><polyline class="m8" points="1466.5,415.4"/><polyline class="m10" points="1466.5,521.2 1466.5,481.5 1469.4,481.5 1469.4,508"/><polyline class="m9" points="1463.7,481.5 1463.7,494.7 1469.4,494.7"/><polyline class="m3" points="1463.7,508 1466.5,534.4 1466.5,402.2 1469.4,521.2"/>
<polyline class="m0" points="559,555.5"/><polyline class="m1" points="540.7,555.5 543.2,555.5 538.7,555.5 557.2,555.5 559.5,621.4 546.2,555.5"/><polyline class="m4" points="562.3,621.4"/><polyline class="m2" points="551.6,555.5 562.9,621.4 536,555.5"/><polyline class="m7" points="562.3,687.4"/><polyline class="m15" points="554.9,687.4"/><polyline class="m3" points="562.9,687.4 559.2,621.4 554.2,555.5 558.3,621.4 557.4,621.4"/><polyline class="m5" points="553.7,555.5"/><polyline class="m14" points="545.2,687.4 541.7,687.4 536.1,687.4"/><polyline class="m12" points="539.9,621.4"/><polyline class="m6" points="548.7,621.4"/><polyline class="m3" points="542.7,621.4"/><polyline class="m15" points="547.7,687.4"/><polyline class="m1" points="548,555.5"/><polyline class="m7" points="552,621.4 558.5,687.4 536.8,621.4"/><polyline class="m2" points="536.9,555.5"/><polyline class="m9" points="552.4,687.4 536.8,687.4"/><polyline class="m5" points="553.3,687.4 555.4,621.4 546.4,621.4"/><polyline class="m13" points="539,687.4"/>
<polyline class="m0" points="707,555.5 690.3,555.5 692.3,555.5 687.4,555.5"/><polyline class="m3" points="709,555.5"/><polyline class="m6" points="713.9,687.4"/><polyline class="m2" points="695.2,555.5 713.9,555.5 702.1,555.5"/><polyline class="m1" points="713.4,555.5 702.6,555.5 701.6,555.5"/><polyline class="m2" points="698.7,555.5"/><polyline class="m14" points="713.4,687.4"/><polyline class="m15" points="710,687.4"/><polyline class="m1" points="697.2,555.5"/><polyline class="m13" points="712.5,687.4 699.2,621.4"/><polyline class="m10" points="709,621.4"/><polyline class="m9" points="713,687.4 685.4,621.4 685.9,621.4 686.4,621.4"/><polyline class="m4" points="690.3,621.4 702.6,687.4 713,621.4 692.8,621.4"/><polyline class="m15" points="693.3,687.4"/><polyline class="m7" points="686.9,621.4"/><polyline class="m6" points="705.6,621.4"/><polyline class="m13" points="694.7,621.4"/><polyline class="m14" points="713.9,621.4 686.9,687.4 685.4,687.4"/><polyline class="m9" points="697.7,687.4"/><polyline class="m14" points="706.6,621.4 706.6,687.4 692.3,621.4 690.3,687.4 699.2,687.4"/><polyline class="m12" points="707,687.4"/><polyline class="m13" points="697.7,621.4"/><polyline class="m10" points="713.4,621.4 702.1,621.4"/><polyline class="m7" points="708,621.4"/>
<polyline class="m4" points="868,621.4 834.6,621.4"/><polyline class="m14" points="860.6,687.4"/><polyline class="m9" points="845.7,687.4"/><polyline class="m5" points="845.7,621.4"/><polyline class="m1" points="856.9,555.5"/><polyline class="m6" points="834.6,687.4"/><polyline class="m3" points="868,687.4"/><polyline class="m12" points="842,687.4"/><polyline class="m0" points="853.2,621.4"/><polyline class="m8" points="864.3,687.4"/><polyline class="m7" points="849.4,621.4"/><polyline class="m3" points="830.9,621.4"/><polyline class="m14" points="838.3,687.4 856.9,621.4 856.9,687.4"/><polyline class="m15" points="849.4,687.4"/><polyline class="m4" points="830.9,687.4"/><polyline class="m1" points="864.3,621.4"/><polyline class="m9" points="842,621.4"/><polyline class="m2" points="838.3,555.5"/><polyline class="m10" points="838.3,621.4"/>
<polyline class="m3" points="1165.9,555.5"/><polyline class="m2" points="1139.9,555.5 1152.9,621.4"/><polyline class="m15" points="1146.4,687.4 1139.9,687.4"/><polyline class="m8" points="1159.4,687.4"/><polyline class="m10" points="1139.9,621.4"/><polyline class="m12" points="1146.4,621.4"/><polyline class="m4" points="1159.4,621.4"/><polyline class="m14" points="1165.9,687.4 1152.9,687.4"/><polyline class="m7" points="1165.9,621.4"/>
<polyline class="m14" points="1323.6,687.4 1317.9,687.4 1315.5,687.4"/><polyline class="m2" points="1288.7,555.5 1286.6,555.5"/><polyline class="m1" points="1287.2,555.5 1282.8,555.5"/><polyline class="m12" points="1304.2,621.4"/><polyline class="m15" points="1327.6,687.4 1319.1,687.4 1316.1,621.4 1322.6,687.4 1316.2,687.4"/><polyline class="m11" points="1305.8,621.4"/><polyline class="m12" points="1314,687.4"/><polyline class="m3" points="1292.3,555.5 1284.3,555.5"/><polyline class="m1" points="1277,687.4 1278.9,555.5"/><polyline class="m13" points="1302,621.4"/><polyline class="m8" points="1303,621.4"/><polyline class="m14" points="1312.1,687.4 1293.9,621.4"/><polyline class="m15" points="1309.2,687.4 1300,621.4 1306.5,687.4 1304.6,687.4 1297.9,621.4"/><polyline class="m15" points="1296.1,621.4 1303.5,687.4 1301.5,687.4 1297.4,687.4"/><polyline class="m12" points="1300.6,687.4"/><polyline class="m14" points="1302.1,687.4 1294,687.4 1291.3,621.4"/><polyline class="m2" points="1277.9,555.5 1273.2,621.4"/><polyline class="m8" points="1280.3,687.4 1280.9,687.4"/><polyline class="m4" points="1277.5,687.4 1278.1,621.4"/><polyline class="m9" points="1281.9,687.4"/><polyline class="m10" points="1282.4,621.4"/><polyline class="m13" points="1293.7,687.4 1283.9,621.4 1299.7,687.4"/><polyline class="m14" points="1286.8,621.4 1291.2,687.4 1290.2,621.4 1283.8,687.4 1288.8,687.4"/><polyline class="m7" points="1281.3,621.4"/><polyline class="m6" points="1279.8,621.4"/><polyline class="m12" points="1287.1,687.4"/>
<polyline class="m3" points="1449.5,687.4 1455.2,687.4"/><polyline class="m5" points="1443.9,687.4 1452.4,687.4"/><polyline class="m2" points="1441,687.4 1446.7,555.5 1449.5,555.5 1449.5,621.4 1452.4,621.4 1455.2,555.5"/><polyline class="m4" points="1446.7,687.4"/><polyline class="m0" points="1441,555.5 1443.9,555.5 1446.7,621.4 1452.4,555.5"/><polyline class="m1" points="1441,621.4 1443.9,621.4"/><polyline class="m12" points="1466.5,621.4"/><polyline class="m7" points="1469.4,621.4"/><polyline class="m14" points="1463.7,687.4 1469.4,687.4"/><polyline class="m3" points="1458,555.5 1460.9,621.4 1463.7,555.5 1463.7,621.4"/><polyline class="m11" points="1458,687.4"/><polyline class="m4" points="1460.9,687.4"/><polyline class="m13" points="1466.5,687.4"/><polyline class="m1" points="1455.2,621.4 1458,621.4 1460.9,555.5 1466.5,555.5 1469.4,555.5"/>
<polyline class="m6" points="542.8,840.7"/><polyline class="m4" points="562.3,708"/><polyline class="m9" points="552.4,708 536,840.7 548,840.7 540.3,840.7"/><polyline class="m14" points="551,840.7 540.8,807.5"/><polyline class="m3" points="554.8,840.7 559.2,708 554.2,840.7"/><polyline class="m1" points="559.5,708 535.9,741.2"/><polyline class="m10" points="544.2,840.7"/><polyline class="m5" points="558.3,840.7 555.4,708"/><polyline class="m2" points="562.9,708"/><polyline class="m7" points="558.5,708"/><polyline class="m3" points="542.7,708"/><polyline class="m6" points="548.7,708"/><polyline class="m14" points="542.8,807.5 536.1,708 536.1,774.4"/><polyline class="m11" points="536.9,807.5"/><polyline class="m12" points="539.9,708"/><polyline class="m10" points="537.7,807.5 536.9,840.7"/><polyline class="m7" points="536.8,708"/><polyline class="m4" points="536.9,741.2"/><polyline class="m8" points="542.1,741.2 539.3,741.2 536.5,741.2 535.9,807.5"/><polyline class="m5" points="542.1,840.7 546.4,708"/>
<polyline class="m6" points="686.9,741.2"/><polyline class="m3" points="711.5,840.7 713.9,807.5"/><polyline class="m12" points="685.4,840.7 686.9,840.7"/><polyline class="m2" points="713.9,840.7 713,741.2 711,741.2"/><polyline class="m4" points="713,840.7"/><polyline class="m9" points="685.4,741.2"/><polyline class="m5" points="699.7,741.2"/><polyline class="m8" points="686.4,840.7"/><polyline class="m13" points="692.3,807.5"/><polyline class="m11" points="703.6,741.2"/><polyline class="m10" points="698.7,741.2 692.3,840.7"/><polyline class="m7" points="709,807.5"/><polyline class="m14" points="703.6,807.5"/><polyline class="m15" points="713,807.5"/><polyline class="m13" points="702.6,807.5 690.3,807.5 711,840.7"/><polyline class="m3" points="690.3,741.2"/><polyline class="m8" points="710,741.2"/><polyline class="m9" points="685.9,807.5 695.2,840.7"/><polyline class="m4" points="699.2,807.5"/><polyline class="m2" points="696.2,774.4 698.7,840.7"/><polyline class="m6" points="705.6,840.7 707.5,840.7"/><polyline class="m11" points="703.1,840.7"/><polyline class="m15" points="689.8,807.5 697.7,741.2 696.7,840.7"/><polyline class="m10" points="695.2,807.5 709,708"/><polyline class="m7" points="690.3,840.7"/><polyline class="m9" points="697.7,840.7"/><polyline class="m13" points="699.2,708 694.7,708"/><polyline class="m4" points="706.1,741.2"/><polyline class="m14" points="686.9,807.5 713.9,708"/><polyline class="m8" points="693.3,741.2 705.6,741.2"/><polyline class="m2" points="696.7,774.4"/><polyline class="m12" points="707,807.5"/><polyline class="m7" points="708,708"/><polyline class="m6" points="705.6,708"/><polyline class="m14" points="686.9,708 685.4,708 706.6,708 692.3,708 690.3,708 699.2,774.4"/><polyline class="m9" points="702.1,708 697.7,708"/><polyline class="m12" points="697.7,807.5 707,774.4"/><polyline class="m10" points="713.4,708 702.1,840.7"/><polyline class="m4" points="713,708 692.8,708"/>
<polyline class="m6" points="864.3,741.2"/><polyline class="m9" points="845.7,840.7"/><polyline class="m2" points="849.4,741.2"/><polyline class="m14" points="860.6,708"/><polyline class="m10" points="842,741.2"/><polyline class="m8" points="845.7,807.5 834.6,807.5"/><polyline class="m5" points="845.7,708 864.3,840.7"/><polyline class="m4" points="834.6,840.7 842,807.5 849.4,840.7 868,807.5"/><polyline class="m1" points="868,840.7 868,741.2 834.6,741.2"/><polyline class="m0" points="853.2,708"/><polyline class="m3" points="830.9,840.7 868,708"/><polyline class="m7" points="849.4,708"/><polyline class="m10" points="838.3,741.2 838.3,708 856.9,840.7"/><polyline class="m8" points="864.3,807.5"/><polyline class="m9" points="842,708"/><polyline class="m1" points="864.3,708"/><polyline class="m4" points="834.6,708 856.9,741.2 830.9,708"/><polyline class="m13" points="849.4,807.5 845.7,741.2"/><polyline class="m14" points="856.9,708 856.9,774.4"/><polyline class="m12" points="842,840.7 856.9,807.5 838.3,807.5"/><polyline class="m2" points="838.3,840.7"/>
<polyline class="m8" points="980.4,741.2"/><polyline class="m3" points="1023.2,708"/><polyline class="m15" points="980.4,807.5 980.4,840.7"/><polyline class="m2" points="1023.2,840.7 1001.8,774.4"/><polyline class="m4" points="1001.8,741.2"/><polyline class="m14" points="980.4,708 980.4,774.4"/><polyline class="m7" points="1001.8,708"/><polyline class="m12" points="1001.8,807.5"/><polyline class="m10" points="1001.8,840.7"/>
<polyline class="m15" points="1327.6,708 1319.1,708 1322.6,708 1316.2,708 1309.2,708 1298.9,840.7 1299.2,807.5"/><polyline class="m14" points="1323.6,708 1317.9,708 1315.5,708 1312.1,708 1301,807.5 1301.4,741.2 1299.8,807.5 1301,741.2"/><polyline class="m12" points="1314,708"/><polyline class="m1" points="1277.3,741.2 1276.9,840.7"/><polyline class="m2" points="1273.6,741.2"/><polyline class="m14" points="1298.6,807.5 1293.9,840.7 1291.2,741.2"/><polyline class="m6" points="1282.3,774.4"/><polyline class="m2" points="1278.9,774.4"/><polyline class="m8" points="1284.2,741.2"/><polyline class="m13" points="1296.6,840.7 1295.7,840.7"/><polyline class="m3" points="1278.5,741.2 1272.9,741.2"/><polyline class="m15" points="1294.5,741.2 1291.6,840.7 1306.5,708 1299.2,741.2 1304.6,708 1297.9,807.5 1303.5,708"/><polyline class="m12" points="1287.3,840.7"/><polyline class="m9" points="1283.9,840.7"/><polyline class="m7" points="1284.2,774.4 1280,840.7"/><polyline class="m12" points="1284.5,807.5 1299.9,741.2 1290.6,807.5"/><polyline class="m4" points="1278.3,807.5"/><polyline class="m15" points="1295.4,807.5 1302.4,708 1288.8,741.2 1301.5,840.7 1290.2,807.5 1289.8,840.7"/><polyline class="m14" points="1302.1,708 1288.4,807.5"/><polyline class="m10" points="1282.1,741.2"/><polyline class="m8" points="1287.2,741.2"/><polyline class="m2" points="1277.9,840.7 1273.2,708 1280.6,774.4"/><polyline class="m14" points="1294,741.2 1291.3,807.5 1286.8,708 1291.2,708 1290.2,708 1283.8,708 1288.8,774.4"/><polyline class="m6" points="1279.8,708"/><polyline class="m13" points="1293.7,708 1299.7,708"/><polyline class="m15" points="1297.4,708"/><polyline class="m8" points="1280.9,741.2"/><polyline class="m4" points="1279.3,741.2 1278.1,708"/><polyline class="m7" points="1281.3,708"/><polyline class="m12" points="1300.6,708 1281.9,807.5 1287.1,774.4"/><polyline class="m10" points="1282.4,840.7"/>
<polyline class="m6" points="1446.7,741.2"/><polyline class="m4" points="1458,840.7"/><polyline class="m5" points="1452.4,708"/><polyline class="m3" points="1458,741.2"/><polyline class="m1" points="1441,708 1443.9,708 1446.7,840.7 1452.4,741.2 1452.4,840.7 1455.2,708 1458,708"/><polyline class="m0" points="1446.7,708"/><polyline class="m10" points="1460.9,741.2"/><polyline class="m2" points="1443.9,840.7 1449.5,840.7 1449.5,708 1455.2,840.7"/><polyline class="m6" points="1460.9,807.5 1463.7,840.7"/><polyline class="m12" points="1466.5,708 1469.4,807.5"/><polyline class="m8" points="1466.5,741.2"/><polyline class="m14" points="1463.7,708 1466.5,807.5 1469.4,774.4"/><polyline class="m3" points="1463.7,741.2 1463.7,807.5"/><polyline class="m7" points="1466.5,840.7 1469.4,708"/><polyline class="m10" points="1469.4,840.7"/><polyline class="m2" points="1460.9,840.7"/><polyline class="m4" points="1460.9,708 1469.4,741.2"/>
<polyline class="m12" points="563.3,911.3 562.1,922.6"/><polyline class="m9" points="540.6,886.8"/><polyline class="m13" points="538.2,904.3 561.8,916 548.6,884.9"/><polyline class="m5" points="561.6,933.6 562.9,948.8"/><polyline class="m8" points="562.9,928.2"/><polyline class="m6" points="561.6,918.6"/><polyline class="m3" points="562.8,941.5 563.2,957.4"/><polyline class="m10" points="559.3,903.4 563.1,926.5 561.9,930.5 561.1,926.1"/><polyline class="m0" points="558.7,985.5 561.2,985.3"/><polyline class="m14" points="549.8,871.5 558.1,916 559.9,909.7 542.9,871.1 558,902 558.5,909 561.5,914.8 552.3,893.3 557.3,908.8 556.7,913.7"/><polyline class="m15" points="547.3,861.5 546.6,886.8 541.1,882.1 550.5,889.3 558.9,896.6 546,893.1 558.7,912.5 549,889.6"/><polyline class="m11" points="538.4,909.5 561.6,905.9 545.6,897.3 548.2,896.1"/><polyline class="m4" points="562.3,935 561.8,939.6 563.2,959.8"/><polyline class="m7" points="563,904.1 562.6,923.5"/><polyline class="m5" points="560.8,941"/><polyline class="m10" points="557.8,919.5 556.2,903.4 558.1,940.8"/><polyline class="m13" points="551.8,901.5 547.9,908.8 549.1,896.1 549.9,903.8"/><polyline class="m7" points="559.9,928.2 557,919.5 555.3,936.6"/><polyline class="m8" points="561.6,934"/><polyline class="m15" points="541.4,897.1 555.7,873.7 545.5,888.6 555.4,912 539.2,889.1 556.3,921.4 553.4,925.4 550.2,898.7 555.6,918.3 543.2,904.1 559,927.5"/><polyline class="m11" points="552.3,927.7"/><polyline class="m12" points="557.1,908.1 551.8,929.1"/><polyline class="m1" points="563.3,975.9 555.5,985.5 536.2,992.3 541.2,992.5"/><polyline class="m9" points="557.4,933.1 557.2,924"/><polyline class="m2" points="563.2,953.7"/><polyline class="m14" points="542.2,885.1 540.5,905.2 552.8,909.2 541.4,891 555.8,922.1 552.9,905.9 549.9,913.4 549.1,909.7 549,898.2 552.2,910.6 552.9,915.8 538.9,907.6"/><polyline class="m0" points="536.2,992.8 562,983.2 563.2,979.9 550.5,985.7"/><polyline class="m5" points="558.8,956.5 562.9,964"/><polyline class="m15" points="541.5,907.8 540.5,900.8 545.4,905.5 549.3,906.2 549.3,902.2 542.4,910.4 546.6,906.2 552.2,917.6"/><polyline class="m14" points="545.2,901 545.5,913.7 541.5,899.2 545.6,910.9 560.1,925.4"/><polyline class="m9" points="561.5,952 555,933.1"/><polyline class="m1" points="558.9,983.9 554.7,985"/><polyline class="m7" points="560.2,937.3 560.5,946.9 552.9,943.6 549.6,936.4"/><polyline class="m12" points="554.4,940.8 558.5,943.2 540.1,894.5 549.1,920.7 562.6,944.8 549.1,939.2"/><polyline class="m2" points="553.4,983.2"/><polyline class="m3" points="560.8,959.3 562.9,971.9"/><polyline class="m13" points="549.7,916.7 542.6,909.7 542.1,914.1 551.9,923.5 552.1,941 562.9,946"/><polyline class="m10" points="553,919.3 557.4,949.5 557.3,943.4"/><polyline class="m14" points="549.1,918.8 536,915.1 551,929.8"/><polyline class="m9" points="555.8,951.1"/><polyline class="m12" points="556.7,928.6 547.2,930"/><polyline class="m11" points="549.8,942.2 552.5,932.9"/><polyline class="m15" points="559.2,950.6 547.6,925.1 551.2,916 549.5,935 549.7,929.6 544.1,914.8 547.1,925.8"/><polyline class="m13" points="541.9,920.2"/><polyline class="m1" points="547.7,984.8 550.8,982.9 540.2,992.3 559.5,981.3 557.7,982.5 536.6,993.2 542,994.9"/><polyline class="m6" points="558.6,954.4 559,963.7 556.5,956.3"/><polyline class="m8" points="562.4,946.2 549.6,954.1"/><polyline class="m3" points="562.9,973.8 562.9,967.3 559.2,973.6 536.1,984.6"/><polyline class="m7" points="560.1,960.7 562.3,954.1"/><polyline class="m10" points="549.2,952.3 558,952.3"/><polyline class="m4" points="560.7,972.4 562.3,962.6"/><polyline class="m2" points="562.6,974.3 559.4,975.7 560.1,967.3 562.9,979.2 555,980.8 558.1,978 558,976.1"/><polyline class="m6" points="556.5,963.7 552,964"/><polyline class="m15" points="550.1,959.8 548,919.8 547.3,949.9 554.9,934"/><polyline class="m9" points="557,953.2 548.5,960.7"/><polyline class="m1" points="546.8,984.6 545.7,984.6 551.7,979.9 555,979.4 556.5,980.6 539.8,994.4"/><polyline class="m5" points="557.1,973.3 555.7,955.1 557.2,963 554,967.7 553.3,968.9 550.3,960.9"/><polyline class="m3" points="550.6,975.9 553.7,978.7 555.8,974.7 558.3,973.8 557.4,970.5"/><polyline class="m7" points="553.3,958.8 558.5,968.4 552,971.5"/><polyline class="m14" points="557.4,938.2 547.9,938.2 540.9,917.6 546.3,940.3 543.7,929.6 554.1,949 554.1,953.7"/><polyline class="m12" points="558.2,943.9 549.1,933.3"/><polyline class="m4" points="557.1,975.4 558.1,971.2"/><polyline class="m13" points="554.2,955.3 557.9,936.8"/><polyline class="m11" points="551,948.8"/><polyline class="m2" points="557.2,980.8 550.1,981.8"/><polyline class="m12" points="547.1,956.7"/><polyline class="m11" points="542.7,915.8"/><polyline class="m10" points="542.3,958.1"/><polyline class="m1" points="536.3,994.9 538.1,984.3 548,979.9 546.1,979.9"/><polyline class="m9" points="552.4,946.4 545.5,953.4 545.4,951.6 548,965.6"/><polyline class="m5" points="555.4,960.9"/><polyline class="m14" points="542.6,955.1 540.4,923.7 540.8,945.3 545.9,926.3 543.2,927.5 539.7,946"/><polyline class="m2" points="540.2,993 541.2,985.5 542.2,984.8 541.9,994.2"/><polyline class="m3" points="542.9,985 545.3,981.1"/><polyline class="m6" points="545,974.5"/><polyline class="m7" points="558.5,960 547.8,975.4 545.4,965.6"/><polyline class="m13" points="543.6,952 547.2,958.4"/><polyline class="m4" points="548,972.9"/><polyline class="m15" points="545.5,921.2 544,918.1 545.4,941.7 539.9,919 546.4,921.4 542.2,931 540.9,941.3 541.2,924.9 542.1,953.4 541.5,926.1"/><polyline class="m8" points="547.8,963 546.2,961.2 544.1,975.9"/><polyline class="m12" points="538.7,965.1 539.9,968.9"/><polyline class="m4" points="543.4,979.2 542.3,966.1 543.4,973.8 540.1,978.5"/><polyline class="m9" points="543.7,966.8 543.3,963.7 538.9,957.2"/><polyline class="m3" points="542.7,980.1 536.9,994.6 536.4,984.1"/><polyline class="m7" points="542.1,972.4"/><polyline class="m5" points="546.4,971.5"/><polyline class="m15" points="547.7,944.3 547.7,947.6 544.3,939.6 547,932.9 539.4,928.2 537.7,912.7 541.2,947.6 541.9,951.8 536.3,917.4"/><polyline class="m13" points="540.9,957.7 540.2,956 539,960.5"/><polyline class="m11" points="545.2,948.5 544.7,961.4"/><polyline class="m8" points="542.1,968.4 539.3,967"/><polyline class="m6" points="541.8,976.4"/><polyline class="m2" points="540.1,983.6"/><polyline class="m14" points="544.4,935.9 547.5,959.3 541.6,940.1 539.6,935.7 542.8,962.8 539.6,926.1 545.2,944.8 539.9,954.9 541.7,932.6 544.1,940.8"/><polyline class="m1" points="546.4,983.2 543.8,982.7"/><polyline class="m15" points="536.8,920.2 536.5,922.8 536.6,932.4 536.1,926.8 536.9,924.9 536,929.6 536.6,947.4 536.6,937.1 536.9,942.5 536.2,928.9 536.6,936.1 536,935 536.3,957"/><polyline class="m10" points="536.8,964.7 536.9,971.5"/><polyline class="m13" points="536.4,938 536.7,962.1 536.2,943.9 536.4,967.7 536.9,929.3"/><polyline class="m12" points="536.9,927.2 535.9,960"/><polyline class="m14" points="536.8,923.5 536.4,946 535.9,942.2 536.2,943.2 536.5,949.7 536.9,954.9 536.2,960.7 536.1,950.2 536.6,952.5 536.1,968.2 536.1,955.8"/><polyline class="m4" points="536.4,983.4 536.9,979 536.7,982.5 536.4,982"/><polyline class="m6" points="548.7,969.4 536.4,977.8"/><polyline class="m3" points="536,982.9"/><polyline class="m11" points="536.9,968.7"/><polyline class="m7" points="536.8,974.3"/><polyline class="m8" points="535.9,975.2"/><polyline class="m2" points="536.9,993.9"/>
<polyline class="m13" points="713.9,920 704.1,914.6 703.1,884.9 704.1,917.2"/><polyline class="m9" points="696.2,886.8 713,920.2"/><polyline class="m0" points="703.1,994.9 713.4,985.5 685.4,993.5 713,984.3 713.9,982.2"/><polyline class="m12" points="691.3,884.9 711.5,895.9"/><polyline class="m10" points="713.9,929.6 713,931.2"/><polyline class="m14" points="695.7,871.5 696.2,892.8 704.1,871.1 707,902 707,898 703.1,890.3 692.3,893.3 702.1,902.9 711,900.3 692.3,885.1"/><polyline class="m7" points="685.4,904.1"/><polyline class="m11" points="707,908.8 711,917.9"/><polyline class="m15" points="703.1,861.5 704.1,886.8 692.3,882.1 685.4,897.8 693.3,889.3 703.1,896.6 696.2,899.9 702.6,893.1 713,921.4 698.7,905.7 695.7,889.6 691.3,893.5 692.8,897.1 703.1,873.7 695.7,912.7 689.3,888.6 709.5,921.4 711,905.5 686.9,912"/><polyline class="m14" points="686.9,904.3 703.1,891 707,904.5 685.4,919.5 689.8,899.9 711,913.4 702.1,909.7 711.5,898.2 690.3,910.6 710.5,924.7 686.9,907.6 695.2,901 693.3,913.7 691.3,899.2 692.3,910.9"/><polyline class="m15" points="685.4,889.1 708,912.7 707,906.2 703.1,903.4 713,925.4 690.3,902.4 697.2,916 685.4,898.7 686.9,915.1 695.7,904.1 700.2,907.8 702.1,905.5 689.3,906.2 687.4,902.2"/><polyline class="m0" points="711,985.7 713.4,993 713,993.7 709.5,985 701.6,992.8"/><polyline class="m12" points="713,929.1 698.7,910.9"/><polyline class="m1" points="685.9,985.3 690.3,985.7 687.9,992.8"/><polyline class="m10" points="710.5,903.4"/><polyline class="m11" points="703.1,910.9"/><polyline class="m13" points="711,908.8 686.9,908.8 692.3,896.1 702.1,903.8 695.7,909.7 690.3,914.1"/><polyline class="m1" points="697.2,993.2 693.3,992.3 700.2,994.6 686.9,984.8 705.1,994.9 710,984.3 689.8,993.2 709,994.9 699.2,993.7 705.6,984.6"/><polyline class="m0" points="706.6,985.7"/><polyline class="m12" points="704.1,894.5"/><polyline class="m3" points="685.4,978"/><polyline class="m8" points="713.9,954.9"/><polyline class="m15" points="692.8,910.4 692.3,906.2 708.5,916 702.1,914.8 703.6,919.5 713,937.3 686.9,933.8 686.9,919.8"/><polyline class="m14" points="685.4,929.1 713,927.7 685.4,933.3 685.9,918.8 702.1,917.6 685.4,923.5 711,927.9 690.3,917.6"/><polyline class="m2" points="696.7,985.7 690.3,992.5 697.7,985.3 705.6,992.8 693.3,993.2 685.4,994.2 686.9,983.6 700.2,985.7 685.9,982.2 713.4,980.6"/><polyline class="m13" points="713.4,938.2 713.4,935 713,942.2 685.4,943.2 700.2,920.2 685.4,958.6"/><polyline class="m10" points="685.4,952"/><polyline class="m10" points="685.4,964.9"/><polyline class="m15" points="713.4,947.4 702.6,936.6 685.9,940.6 690.3,921.9 693.3,924.9 696.2,918.1 698.7,924 694.3,920.9 695.2,933.8 713.9,943.9 702.1,938.7 711,919 711.5,930.5 687.9,928.6 702.1,946 705.6,921.4 694.7,943.6 704.6,931"/><polyline class="m12" points="713.4,956.7 686.9,944.6"/><polyline class="m11" points="694.7,915.8"/><polyline class="m3" points="702.1,985"/><polyline class="m2" points="706.1,982.9 710,994.9 705.6,982.5 711,993 698.7,983.9 692.8,985.5 689.8,984.8 697.2,994.2"/><polyline class="m14" points="713,936.4 686.9,929.6 685.9,925.8 702.1,929.1 693.3,939.9 690.3,922.6"/><polyline class="m13" points="700.7,924.7 685.4,939.6 709.5,923.7 705.6,928.2 711,954.1 697.7,949.7 692.8,929.3"/><polyline class="m1" points="686.9,994.9 686.9,982.5"/><polyline class="m9" points="713.9,959.3"/><polyline class="m1" points="703.6,983.4"/><polyline class="m8" points="713.9,964.9"/><polyline class="m13" points="708.5,946 690.3,960.5"/><polyline class="m11" points="713,959.5"/><polyline class="m15" points="686.9,924.9 709,953 709,926.1 685.9,936.1 702.1,951.3 702.1,932.9 690.3,928.2 702.6,912.7 713,951.8 685.4,956.7 687.4,958.1 699.2,945.5 701.6,930.5 707,958.4 686.4,924.2 711,929.8 702.1,942 690.3,959.5 686.9,917.4 700.2,941.7 692.8,938 713.9,945.3"/><polyline class="m14" points="690.3,946 690.3,932.2 692.3,948.1 685.4,947.4 697.7,935.7 697.2,926.1 705.6,937.5 705.1,941.5 710,940.8 690.8,943.4 704.1,953.7 697.7,920.9"/><polyline class="m9" points="713,968.4 685.4,973.3"/><polyline class="m3" points="713.9,972.2 689.3,983.4 685.9,980.4"/><polyline class="m6" points="713.4,975.2 713.4,978.3"/><polyline class="m12" points="685.4,963"/><polyline class="m9" points="685.9,968.9 711,974.7"/><polyline class="m12" points="686.9,959.5"/><polyline class="m14" points="709,958.6 713,963.5 705.6,933.6 692.3,936.6 712,945.3"/><polyline class="m4" points="703.1,979 709,978.5 699.2,981.5 710,981.8"/><polyline class="m7" points="705.6,980.6"/><polyline class="m15" points="685.9,949.5 709.5,932.4 689.8,937.3 699.2,954.1 711,937.1 709,935 686.9,950.6 689.8,933.8 707,938.2 699.2,965.1 695.7,920.2 713,967.3 706.1,931.7 693.3,946.2 702.1,973.1 698.2,939.9 703.1,922.8 697.2,950.9 686.9,954.1 699.2,932.4"/><polyline class="m2" points="698.7,982.5"/><polyline class="m3" points="690.3,994.6 702.1,984.1"/><polyline class="m8" points="686.4,978.5"/><polyline class="m13" points="685.9,950.4 711,939.2 706.1,964.2 690.3,953.4 712.5,966.1"/><polyline class="m10" points="686.9,971.7 690.3,970.1 705.1,954.1"/><polyline class="m6" points="710,972.2 699.7,976.6"/><polyline class="m11" points="692.3,955.8"/><polyline class="m1" points="690.3,974"/><polyline class="m7" points="690.3,977.3"/><polyline class="m15" points="690.3,942 690.3,926.8 689.8,964.2 704.1,947.8 710,963.7 686.9,960.2 703.1,957.4 700.7,949.5 705.6,924.9 712,947.4 709,937.1"/><polyline class="m12" points="707,966.3 699.2,928.9 686.4,968"/><polyline class="m14" points="686.9,968.4 694.7,923.5 706.1,936.6 686.9,938 705.6,944.1 696.2,966.1 693.8,957"/><polyline class="m9" points="705.6,974.3 686.4,973.3 706.1,968"/><polyline class="m6" points="701.6,969.4"/><polyline class="m13" points="711,950.6 700.2,968.4 696.7,966.6 697.7,938"/><polyline class="m3" points="696.7,979.2 713,982.9"/><polyline class="m8" points="709,970.3 693.3,970.8 705.6,973.6 693.3,959.8"/><polyline class="m2" points="697.7,993.9"/><polyline class="m4" points="695.2,983.4 694.3,977.8 690.3,980.6 701.6,977.6"/><polyline class="m10" points="701.6,966.3 705.6,972.2 694.7,963.7 710,975"/><polyline class="m4" points="706.1,979 690.3,982.2 702.6,964.4 713,982.5 692.8,982"/><polyline class="m7" points="686.9,975.2 708,974.3"/><polyline class="m6" points="693.3,975 692.8,974.5 705.6,977.8"/><polyline class="m12" points="689.3,951.6 702.6,959.1 696.7,927.2 707,953.2 707,960"/><polyline class="m10" points="709,968.4 713.4,964.7 702.1,971.5"/><polyline class="m13" points="699.2,968.7 694.7,952 696.7,943.9 697.7,967.7 710,929.3"/><polyline class="m8" points="705.6,975.2"/><polyline class="m2" points="696.7,975.9"/><polyline class="m9" points="702.1,961.2 697.7,972.6"/><polyline class="m14" points="685.9,942.2 690.8,952.7 690.3,965.6 713.9,956.7 712,943.2 690.3,949.7 686.9,963 685.4,955.1 706.6,960.7 706.6,950.2 692.3,952.5 690.3,968.2 699.2,955.8"/><polyline class="m15" points="696.7,953.4 697.2,961.2 693.3,936.1 690.3,935 695.2,929.6 700.2,961.4 699.2,957"/>
<polyline class="m10" points="849.4,910.4"/><polyline class="m0" points="842,993.2 853.2,967.5 853.2,966.6 849.4,993.9"/><polyline class="m15" points="849.4,901.3 856.9,861.5 856.9,882.1 849.4,889.6 856.9,873.7 856.9,888.6 856.9,889.1"/><polyline class="m8" points="845.7,932.6"/><polyline class="m14" points="856.9,871.1 849.4,907.1 856.9,885.1"/><polyline class="m7" points="849.4,939.2 849.4,944.8 849.4,938.7 849.4,949.7"/><polyline class="m4" points="868,949.5"/><polyline class="m1" points="830.9,960.9 868,979.7"/><polyline class="m5" points="845.7,950.9"/><polyline class="m2" points="830.9,951.3"/><polyline class="m13" points="838.3,905.2 849.4,929.6"/><polyline class="m3" points="868,948.5 830.9,955.8 868,953.4"/><polyline class="m10" points="864.3,903.4"/><polyline class="m15" points="845.7,936.8 856.9,907.8 849.4,905.5 856.9,902.2"/><polyline class="m14" points="856.9,891 849.4,915.8 838.3,907.6 856.9,901"/><polyline class="m2" points="868,955.6"/><polyline class="m0" points="864.3,993.9"/><polyline class="m1" points="830.9,957.9 856.9,992.3 864.3,964.9 842,985.7"/><polyline class="m4" points="842,964.9 864.3,949.7 834.6,970.5 845.7,966.8"/><polyline class="m13" points="849.4,933.3 856.9,896.1 856.9,903.8 849.4,921.6"/><polyline class="m6" points="849.4,952.5"/><polyline class="m5" points="864.3,953.4 830.9,958.6"/><polyline class="m12" points="849.4,932.9 842,924.9"/><polyline class="m3" points="842,968.2 868,950.4"/><polyline class="m15" points="856.9,910.4 838.3,906.2"/><polyline class="m3" points="868,957"/><polyline class="m14" points="838.3,913.7 856.9,899.2 838.3,910.9 860.6,960"/><polyline class="m13" points="856.9,909.7 849.4,945.5"/><polyline class="m4" points="834.6,965.1 864.3,968 868,959.3"/><polyline class="m1" points="834.6,981.1 838.3,992.3 838.3,985.5 864.3,980.6 856.9,994.6 830.9,976.4"/><polyline class="m0" points="830.9,982.2 864.3,984.8 868,979 864.3,982.9"/><polyline class="m2" points="849.4,982 849.4,985.7"/><polyline class="m5" points="830.9,950.6 842,970.1"/><polyline class="m12" points="856.9,894.5 849.4,937.3"/><polyline class="m9" points="845.7,956"/><polyline class="m11" points="842,952.3"/><polyline class="m5" points="868,960.7 830.9,959.1 868,962.6"/><polyline class="m14" points="856.9,915.1 838.3,917.9"/><polyline class="m8" points="864.3,950.9"/><polyline class="m10" points="849.4,956.7"/><polyline class="m12" points="849.4,953"/><polyline class="m2" points="868,967.3 849.4,978.3 830.9,978 838.3,992.8 864.3,979 842,980.8"/><polyline class="m6" points="864.3,957.7"/><polyline class="m11" points="845.7,958.1 834.6,953.7"/><polyline class="m4" points="849.4,972.2"/><polyline class="m13" points="842,945.5"/><polyline class="m1" points="864.3,968.7 856.9,993.7 838.3,984.6"/><polyline class="m7" points="849.4,968.2"/><polyline class="m15" points="838.3,914.8"/><polyline class="m9" points="845.7,960 845.7,952.7 845.7,963.5 842,947.6 842,960.2"/><polyline class="m14" points="842,941 842,957.4 849.4,926.3"/><polyline class="m4" points="834.6,975.2"/><polyline class="m11" points="842,951.3 838.3,915.8"/><polyline class="m6" points="834.6,966.1 849.4,964.7"/><polyline class="m15" points="845.7,947.4 845.7,942.2 849.4,938 838.3,924.9"/><polyline class="m1" points="864.3,970.8 868,994.9 864.3,975.9"/><polyline class="m8" points="868,963.5"/><polyline class="m7" points="864.3,955.1 849.4,975.4"/><polyline class="m2" points="856.9,993 849.4,983.9 856.9,985.5 856.9,984.8 842,994.2"/><polyline class="m3" points="842,979.9 842,975.9 830.9,971.7 868,972.2"/><polyline class="m10" points="834.6,957"/><polyline class="m5" points="845.7,966.1"/><polyline class="m14" points="838.3,947.4 838.3,920.9 856.9,933.6 838.3,945.3"/><polyline class="m9" points="864.3,960.5 849.4,969.8"/><polyline class="m1" points="838.3,983.4"/><polyline class="m10" points="838.3,975.7"/><polyline class="m15" points="856.9,912.7 856.9,917.4 856.9,920.2 838.3,931.7 856.9,939.9 838.3,922.8 838.3,944.6 856.9,932.4"/><polyline class="m13" points="834.6,960.5"/><polyline class="m12" points="842,959.5 849.4,961.2"/><polyline class="m6" points="838.3,976.8"/><polyline class="m7" points="834.6,971.7"/><polyline class="m4" points="864.3,971.5 868,976.6 834.6,979 838.3,978.5 838.3,981.8"/><polyline class="m3" points="868,969.4 838.3,994.6 856.9,984.1"/><polyline class="m10" points="838.3,968.4"/><polyline class="m3" points="830.9,979.2 856.9,982.9"/><polyline class="m1" points="864.3,974"/><polyline class="m14" points="856.9,923.5 856.9,936.6 838.3,938 856.9,944.1 856.9,942.2 856.9,965.6"/><polyline class="m15" points="838.3,942 838.3,926.8 849.4,960.2 842,949.5 856.9,924.9 856.9,947.4 856.9,937.1 838.3,952.5 838.3,961.2"/><polyline class="m6" points="838.3,969.4"/><polyline class="m4" points="856.9,983.4 830.9,968 856.9,979 838.3,982.2"/><polyline class="m12" points="838.3,959.1"/><polyline class="m9" points="842,973.3"/><polyline class="m8" points="856.9,975.2"/><polyline class="m13" points="856.9,938"/><polyline class="m2" points="838.3,993.9"/><polyline class="m12" points="856.9,927.2 838.3,972.6 856.9,960"/><polyline class="m13" points="838.3,943.9 856.9,967.7 838.3,929.3"/><polyline class="m15" points="838.3,936.1 838.3,935 856.9,929.6 856.9,961.4 856.9,957"/><polyline class="m4" points="830.9,964.4 856.9,982.5 856.9,982"/><polyline class="m6" points="856.9,977.8"/><polyline class="m7" points="838.3,975.2 849.4,974.3"/><polyline class="m9" points="856.9,972.6"/><polyline class="m10" points="838.3,964.7 856.9,971.5"/><polyline class="m14" points="856.9,943.2 838.3,949.7 856.9,963 838.3,955.1 856.9,960.7 856.9,950.2 856.9,952.5 856.9,968.2 856.9,955.8"/>
<polyline class="m13" points="980.4,884.9 980.4,896.1"/><polyline class="m10" points="1001.8,923.3"/><polyline class="m14" points="980.4,871.1 980.4,885.1 980.4,891"/><polyline class="m3" points="1023.2,947.4"/><polyline class="m15" points="980.4,861.5 980.4,882.1 1001.8,889.3 980.4,873.7 980.4,888.6 980.4,889.1"/><polyline class="m11" points="1001.8,914.6"/><polyline class="m2" points="1023.2,954.6 1023.2,956.3 1023.2,961.2"/><polyline class="m8" points="1001.8,921.4"/><polyline class="m12" points="1001.8,918.3"/><polyline class="m1" points="1023.2,962.3 1023.2,959.8 1023.2,973.1 1023.2,970.5"/><polyline class="m0" points="1023.2,976.4 1023.2,975"/><polyline class="m14" points="980.4,901 980.4,899.2 1001.8,925.6 1001.8,932.6 1001.8,948.1 1001.8,940.8 1001.8,943.4"/><polyline class="m1" points="980.4,984.6 1001.8,992.3 1023.2,979.9"/><polyline class="m3" points="1023.2,966.8"/><polyline class="m12" points="980.4,894.5"/><polyline class="m13" points="1001.8,923.7"/><polyline class="m2" points="1001.8,993 1001.8,985.5 1001.8,984.8"/><polyline class="m11" points="980.4,915.8"/><polyline class="m15" points="980.4,902.2 980.4,910.4 980.4,906.2 1001.8,930.5 1001.8,928.6 1001.8,947.1 980.4,912.7 980.4,917.4"/><polyline class="m8" points="980.4,970.3 980.4,976.6 980.4,975.2"/><polyline class="m3" points="1001.8,994.6 1001.8,984.1 1001.8,982.9"/><polyline class="m14" points="980.4,923.5 980.4,942.2 980.4,952.7"/><polyline class="m13" points="980.4,938"/><polyline class="m15" points="1001.8,935 1001.8,933.8 1001.8,938.2 980.4,920.2 980.4,922.8 980.4,932.4 980.4,924.9 980.4,947.4 980.4,937.1"/><polyline class="m2" points="980.4,981.3 1023.2,982.5 1001.8,993.9"/><polyline class="m4" points="980.4,983.4 1001.8,979"/><polyline class="m5" points="980.4,978.5"/><polyline class="m4" points="980.4,964.4 1001.8,982.5 1001.8,982"/><polyline class="m12" points="980.4,927.2 980.4,960"/><polyline class="m7" points="1001.8,974.3"/><polyline class="m10" points="1001.8,964.7 1001.8,971.5"/><polyline class="m14" points="980.4,943.2 1001.8,949.7 980.4,963 980.4,955.1 1001.8,960.7 980.4,950.2 1001.8,952.5 980.4,968.2 980.4,955.8"/><polyline class="m15" points="980.4,936.1 980.4,935 1001.8,957"/><polyline class="m9" points="980.4,972.6"/><polyline class="m6" points="1001.8,977.8"/><polyline class="m13" points="980.4,943.9 1001.8,967.7 980.4,929.3"/>
<polyline class="m1" points="1159.4,983.9 1165.9,992.3 1139.9,984.8 1165.9,993.2"/><polyline class="m10" points="1139.9,932.9"/><polyline class="m12" points="1165.9,894.5"/><polyline class="m14" points="1165.9,871.1 1165.9,885.1 1165.9,891 1165.9,901 1165.9,899.2 1139.9,927.7 1159.4,935 1146.4,946.4 1146.4,926.3 1159.4,938.7 1159.4,940.6 1159.4,925.1"/><polyline class="m2" points="1165.9,992.8 1159.4,993"/><polyline class="m4" points="1159.4,981.8"/><polyline class="m15" points="1165.9,861.5 1165.9,882.1 1165.9,873.7 1165.9,888.6 1165.9,889.1 1165.9,902.2 1165.9,910.4 1165.9,906.2 1159.4,948.1 1139.9,931.2"/><polyline class="m13" points="1165.9,884.9 1139.9,935.4 1165.9,896.1 1159.4,943.9 1159.4,948.8"/><polyline class="m8" points="1159.4,964.7 1159.4,967"/><polyline class="m9" points="1159.4,960.5"/><polyline class="m12" points="1159.4,962.6 1139.9,963"/><polyline class="m4" points="1146.4,976.6 1146.4,979.9 1139.9,979.7"/><polyline class="m13" points="1139.9,956.3 1139.9,959.1 1139.9,936.8"/><polyline class="m3" points="1159.4,981.1"/><polyline class="m5" points="1146.4,980.4"/><polyline class="m14" points="1146.4,929.1 1139.9,949.9 1159.4,926.3 1146.4,932.2 1139.9,943.4 1159.4,953.4"/><polyline class="m11" points="1146.4,948.3 1139.9,946.4 1165.9,915.8 1139.9,965.6"/><polyline class="m15" points="1146.4,943.9 1146.4,930.5 1159.4,942 1139.9,949 1146.4,938 1165.9,912.7 1146.4,943.2 1159.4,930.5 1165.9,917.4"/><polyline class="m2" points="1165.9,985.5 1165.9,984.8"/><polyline class="m6" points="1152.9,971.7"/><polyline class="m1" points="1165.9,994.9"/><polyline class="m7" points="1152.9,967 1139.9,977.3"/><polyline class="m2" points="1152.9,979.9 1139.9,982.5 1165.9,993.9"/><polyline class="m8" points="1139.9,978.5 1159.4,959.8"/><polyline class="m14" points="1146.4,955.6 1159.4,949.9 1165.9,923.5"/><polyline class="m5" points="1139.9,974.7"/><polyline class="m13" points="1146.4,960.7 1146.4,974.7 1139.9,939.2 1165.9,938"/><polyline class="m6" points="1159.4,971.7"/><polyline class="m9" points="1139.9,967.7 1139.9,972.9"/><polyline class="m15" points="1146.4,933.8 1165.9,920.2 1146.4,939.9 1165.9,922.8 1165.9,932.4 1146.4,964.2 1159.4,955.8 1139.9,924.9 1165.9,947.4"/><polyline class="m4" points="1146.4,981.5 1165.9,983.4"/><polyline class="m12" points="1139.9,959.5 1146.4,966.3 1159.4,928.9"/><polyline class="m3" points="1159.4,994.6 1165.9,984.1"/><polyline class="m10" points="1146.4,970.1 1159.4,972.2"/><polyline class="m2" points="1152.9,975.9"/><polyline class="m7" points="1165.9,974.3"/><polyline class="m6" points="1165.9,977.8"/><polyline class="m8" points="1159.4,975.2"/><polyline class="m10" points="1165.9,964.7 1139.9,971.5"/><polyline class="m4" points="1165.9,980.6 1159.4,979 1165.9,982.5 1165.9,982"/><polyline class="m15" points="1165.9,937.1 1146.4,952.5 1139.9,953.4 1165.9,936.1 1165.9,935 1165.9,957"/><polyline class="m9" points="1165.9,972.6"/><polyline class="m3" points="1165.9,982.9"/><polyline class="m14" points="1146.4,957 1165.9,942.2 1159.4,943.2 1146.4,949.7 1165.9,955.1 1165.9,960.7 1165.9,950.2 1165.9,952.5 1165.9,968.2 1152.9,955.8"/><polyline class="m13" points="1165.9,943.9 1165.9,967.7 1165.9,929.3"/><polyline class="m12" points="1146.4,951.6 1165.9,927.2 1146.4,972.6 1152.9,960"/>
<polyline class="m13" points="1441,902.9 1441,890.7"/><polyline class="m0" points="1441,994.9 1441,992.3 1441,983.6 1441,981.3 1443.9,994.9 1443.9,985.5 1443.9,993.7"/><polyline class="m7" points="1441,934.3 1441,908.5"/><polyline class="m11" points="1441,909.5 1441,915.8 1441,926.1"/><polyline class="m12" points="1441,884.9 1443.9,911.8"/><polyline class="m4" points="1441,948.5 1441,957.4 1441,958.8 1441,953.7 1441,944.3 1441,960.9"/><polyline class="m14" points="1441,871.5 1441,900.1 1443.9,892.8 1443.9,871.1"/><polyline class="m1" points="1441,994.4 1441,975.7 1441,968.2 1441,979.4 1441,973.6 1441,966.6"/><polyline class="m15" points="1441,861.5 1441,902 1441,886.8 1443.9,882.1"/><polyline class="m2" points="1441,971 1441,963"/><polyline class="m9" points="1441,920.7"/><polyline class="m6" points="1441,918.6 1441,941.5"/><polyline class="m8" points="1441,931.5 1443.9,916"/><polyline class="m3" points="1441,949.5"/><polyline class="m5" points="1441,937.3"/><polyline class="m10" points="1441,904.8 1441,923.7 1441,903.4 1441,913.9"/><polyline class="m0" points="1443.9,993 1443.9,980.8 1443.9,977.8 1446.7,992.8 1446.7,994.9 1446.7,984.3"/><polyline class="m5" points="1443.9,947.1 1443.9,951.1 1443.9,958.4 1446.7,933.6"/><polyline class="m10" points="1443.9,924.4 1446.7,918.6 1446.7,926.8"/><polyline class="m7" points="1446.7,944.3"/><polyline class="m13" points="1446.7,908.1"/><polyline class="m3" points="1443.9,960 1443.9,963.5 1443.9,938.7 1446.7,948.3 1446.7,951.1"/><polyline class="m4" points="1443.9,935 1443.9,944.3"/><polyline class="m1" points="1443.9,982 1443.9,967.5 1443.9,975"/><polyline class="m6" points="1443.9,953"/><polyline class="m8" points="1443.9,919.3 1443.9,929.1 1446.7,940.3 1446.7,929.1"/><polyline class="m2" points="1443.9,972.4 1443.9,968.7"/><polyline class="m12" points="1443.9,895.9 1443.9,933.1"/><polyline class="m14" points="1443.9,899.9 1446.7,893.3"/><polyline class="m9" points="1443.9,921.2"/><polyline class="m15" points="1443.9,906.9 1443.9,913.2 1443.9,902.2 1446.7,889.3 1446.7,901.5 1446.7,905.2 1446.7,896.6 1446.7,899.9 1446.7,908.8 1446.7,911.3 1446.7,915.1 1446.7,912.5"/><polyline class="m2" points="1446.7,964.7 1446.7,969.6 1449.5,970.3 1449.5,977.1 1449.5,974.7 1449.5,961.6"/><polyline class="m6" points="1449.5,951.1 1449.5,947.4 1449.5,936.8"/><polyline class="m13" points="1449.5,916"/><polyline class="m5" points="1449.5,958.6"/><polyline class="m15" points="1446.7,921.4 1449.5,889.6 1449.5,893.5 1449.5,897.1 1449.5,873.7 1449.5,919.5"/><polyline class="m11" points="1446.7,937.8 1449.5,922.3"/><polyline class="m0" points="1446.7,981.1 1446.7,982.7 1446.7,977.1 1449.5,994.2 1449.5,992.8 1449.5,993.5 1449.5,984.3 1449.5,980.6"/><polyline class="m4" points="1446.7,960.2 1446.7,962.1 1446.7,957 1446.7,954.9 1449.5,971.9"/><polyline class="m12" points="1449.5,905.9 1449.5,913.4 1449.5,903.1 1449.5,908.1"/><polyline class="m10" points="1449.5,942.7 1449.5,933.3"/><polyline class="m9" points="1446.7,923 1449.5,941"/><polyline class="m14" points="1449.5,900.3 1449.5,902.2 1449.5,910.6 1449.5,885.1 1449.5,927.2"/><polyline class="m1" points="1446.7,973.3 1446.7,965.4 1449.5,994.6"/><polyline class="m8" points="1449.5,943.6"/><polyline class="m5" points="1452.4,960.2"/><polyline class="m1" points="1452.4,993.5 1452.4,982.7 1452.4,978 1455.2,994.6"/><polyline class="m15" points="1452.4,888.6 1452.4,889.1 1452.4,912.7 1452.4,903.4 1452.4,909.2 1452.4,908.1 1452.4,923 1452.4,919.3 1452.4,917.9 1455.2,898.7 1455.2,934.5 1455.2,922.3"/><polyline class="m14" points="1452.4,891 1452.4,904.5 1452.4,925.4 1455.2,908.3 1455.2,931.7 1455.2,910.6"/><polyline class="m9" points="1449.5,930 1452.4,933.1"/><polyline class="m0" points="1452.4,985.7 1452.4,983.4 1452.4,982 1452.4,974.3 1455.2,985.3"/><polyline class="m12" points="1452.4,916.2 1452.4,935 1452.4,937.8"/><polyline class="m6" points="1452.4,948.1"/><polyline class="m2" points="1449.5,965.6 1452.4,965.6 1452.4,968.4 1452.4,971"/><polyline class="m10" points="1452.4,945.3 1452.4,942.9 1452.4,955.1"/><polyline class="m4" points="1452.4,963.7 1452.4,957.9"/><polyline class="m8" points="1452.4,930.3 1452.4,940.8 1452.4,952.7"/><polyline class="m7" points="1449.5,955.3 1452.4,950.6 1452.4,936.6"/><polyline class="m0" points="1455.2,983.2 1458,992.8 1458,994.9 1458,985.7"/><polyline class="m2" points="1455.2,971.2"/><polyline class="m5" points="1455.2,948.3 1455.2,956.7"/><polyline class="m9" points="1455.2,941.5 1455.2,924 1455.2,938"/><polyline class="m4" points="1455.2,966.8 1458,944.8 1458,954.4"/><polyline class="m6" points="1458,950.2"/><polyline class="m13" points="1455.2,935.4 1455.2,927.9 1455.2,896.1 1458,916.7 1458,914.1 1458,925.8 1458,921.6"/><polyline class="m7" points="1458,934.3"/><polyline class="m10" points="1455.2,903.4 1458,931"/><polyline class="m3" points="1455.2,955.3 1455.2,962.1 1458,947.6 1458,967.3"/><polyline class="m1" points="1455.2,993.7 1455.2,992.5 1455.2,980.8 1455.2,981.8 1455.2,973.8 1455.2,976.1"/><polyline class="m8" points="1455.2,951.8 1455.2,945 1458,940.1"/><polyline class="m14" points="1455.2,915.8 1458,901 1458,899.2 1458,910.9 1458,929.1"/><polyline class="m15" points="1455.2,926.1 1455.2,915.1 1455.2,917.9 1458,902.2 1458,910.4 1458,906.2"/><polyline class="m12" points="1458,894.5"/><polyline class="m7" points="1460.9,951.6"/><polyline class="m15" points="1460.9,925.1 1460.9,916 1460.9,937.3 1460.9,943.6 1463.7,914.8 1463.7,919.8"/><polyline class="m0" points="1458,983.9"/><polyline class="m1" points="1458,982 1458,979 1458,977.1 1460.9,992.3 1460.9,985.5 1460.9,994.6 1460.9,980.1 1460.9,984.8 1463.7,993.2 1463.7,993.7 1463.7,984.6"/><polyline class="m11" points="1458,938.5 1458,919 1460.9,932.9 1460.9,931.5"/><polyline class="m4" points="1458,971.9 1458,965.1 1460.9,972.2 1460.9,971.2"/><polyline class="m6" points="1458,970.3 1460.9,967"/><polyline class="m14" points="1460.9,918.8 1460.9,938.5 1460.9,941.3 1460.9,928.4 1463.7,917.6"/><polyline class="m12" points="1458,920.7 1460.9,957"/><polyline class="m13" points="1460.9,920.5 1460.9,924"/><polyline class="m3" points="1460.9,977.6"/><polyline class="m2" points="1460.9,979.2 1460.9,976.8 1463.7,985.7"/><polyline class="m9" points="1460.9,947.1 1460.9,955.6"/><polyline class="m5" points="1458,961.4 1458,956.5 1460.9,962.8 1460.9,965.4 1460.9,960.2"/><polyline class="m8" points="1463.7,955.1 1463.7,961.4"/><polyline class="m10" points="1463.7,959.3 1463.7,965.9"/><polyline class="m1" points="1463.7,994.4 1463.7,982.5 1466.5,994.9"/><polyline class="m14" points="1463.7,929.6 1463.7,926.3 1463.7,942.2 1463.7,946.7 1463.7,938.2 1463.7,953.9 1466.5,922.6 1466.5,947.4 1466.5,935.7 1466.5,926.1 1466.5,937.5 1466.5,954.9"/><polyline class="m4" points="1466.5,973.8"/><polyline class="m7" points="1463.7,952.5"/><polyline class="m2" points="1463.7,994.9 1466.5,993 1466.5,985.5 1466.5,984.8 1466.5,994.2"/><polyline class="m11" points="1463.7,945.7 1466.5,915.8"/><polyline class="m9" points="1463.7,960.7"/><polyline class="m3" points="1463.7,979.9 1463.7,974.7 1466.5,983.4"/><polyline class="m15" points="1463.7,949.2 1466.5,919 1466.5,921.4 1466.5,924.9 1466.5,928.2 1466.5,912.7 1466.5,951.8 1466.5,943.4"/><polyline class="m6" points="1463.7,969.8"/><polyline class="m12" points="1463.7,951.6 1463.7,933.3 1466.5,965.1"/><polyline class="m13" points="1463.7,924.7 1463.7,934.7 1463.7,939.6"/><polyline class="m5" points="1463.7,967 1463.7,971.9"/><polyline class="m2" points="1469.4,993.9"/><polyline class="m15" points="1469.4,917.4 1469.4,920.2 1469.4,939.9 1469.4,922.8 1469.4,932.4 1469.4,924.9 1469.4,947.4 1469.4,937.1 1469.4,936.1 1469.4,935 1469.4,957"/><polyline class="m10" points="1469.4,964.7 1469.4,971.5"/><polyline class="m12" points="1466.5,968.9 1469.4,927.2 1469.4,960"/><polyline class="m8" points="1466.5,967 1466.5,957.7"/><polyline class="m13" points="1466.5,956 1466.5,960.5 1469.4,938 1469.4,943.9 1469.4,967.7 1469.4,929.3"/><polyline class="m7" points="1466.5,972.2 1469.4,974.3"/><polyline class="m3" points="1466.5,980.1 1469.4,994.6 1469.4,984.1 1469.4,982.9"/><polyline class="m6" points="1469.4,977.8"/><polyline class="m4" points="1466.5,978.5 1469.4,983.4 1469.4,979 1469.4,982.5 1469.4,982"/><polyline class="m14" points="1466.5,932.6 1466.5,940.8 1469.4,923.5 1469.4,942.2 1469.4,943.2 1469.4,949.7 1469.4,960.7 1469.4,950.2 1469.4,952.5 1469.4,968.2 1469.4,955.8"/>
<polyline class="m7" points="547.3,1134"/><polyline class="m0" points="538.9,1147.2 539.6,1147.2 536.8,1134 542.9,1134 557.3,1134 556,1134 554.8,1134"/><polyline class="m4" points="544.2,1147.2 556.5,1147.2 536,1134 553.1,1134"/><polyline class="m3" points="548.3,1134 563.2,1120.8"/><polyline class="m5" points="541.4,1147.2 554.5,1134"/><polyline class="m6" points="550.4,1134"/><polyline class="m2" points="562.5,1147.2 562,1147.2 561.4,1147.2 549.2,1147.2 537.7,1134 539.1,1134 541,1134 562.2,1120.8"/><polyline class="m1" points="537.5,1147.2 545.5,1147.2 553.1,1147.2 559.9,1147.2 548.2,1147.2 562.9,1134 561.5,1134 561.1,1134 536.2,1120.8"/><polyline class="m12" points="546,1094.4"/><polyline class="m1" points="538.6,1120.8 542.7,1120.8 558.9,1120.8 563.3,1107.6 550.5,1107.6 551.2,1094.4 550.4,1094.4"/><polyline class="m0" points="556.4,1120.8 544.9,1120.8 548.3,1120.8 559.8,1120.8 537.6,1107.6 561.8,1107.6"/><polyline class="m2" points="550.5,1120.8 536.3,1107.6 542.8,1107.6 538.7,1107.6 555.5,1107.6 556.8,1107.6 552.5,1107.6 545.1,1107.6 560,1094.4 563.2,1094.4"/><polyline class="m3" points="540.1,1120.8 547.7,1107.6 560.7,1107.6 558.8,1094.4 536.1,1094.4"/><polyline class="m7" points="537.6,1094.4"/><polyline class="m4" points="554.1,1120.8 547.3,1107.6 541.5,1094.4"/><polyline class="m6" points="536.9,1107.6"/><polyline class="m8" points="543.4,1094.4 540.1,1081.2"/><polyline class="m4" points="561.1,1081.2 558,1081.2 551.3,1081.2 538,1081.2 548.3,1081.2 537,1068 542,1068 543.2,1068"/><polyline class="m1" points="536.2,1081.2 545.1,1081.2 542.5,1081.2 549.4,1068 538.2,1068 549,1068"/><polyline class="m6" points="550,1094.4"/><polyline class="m5" points="557,1094.4 553.1,1068"/><polyline class="m11" points="547.8,1094.4"/><polyline class="m0" points="555.4,1094.4 563.2,1068 546.2,1068"/><polyline class="m10" points="536.4,1068"/><polyline class="m3" points="559.6,1081.2 556.3,1081.2 552.3,1081.2 558.4,1081.2 560.3,1068 555.8,1068"/><polyline class="m2" points="549.2,1094.4 547.3,1094.4 563.1,1081.2 562.9,1054.8"/><polyline class="m9" points="536.1,1041.6 552.4,1041.6"/><polyline class="m12" points="539.9,1028.4"/><polyline class="m3" points="551.4,1054.8 559.2,1054.8 544.2,1054.8 547.6,1041.6 542.7,1028.4"/><polyline class="m2" points="555,1054.8 538.4,1041.6"/><polyline class="m13" points="539,1028.4"/><polyline class="m14" points="542.9,1041.6 547.5,1028.4 536.1,1015.2"/><polyline class="m7" points="558.5,1041.6 537.2,1028.4 536.8,1015.2"/><polyline class="m8" points="543.8,1041.6 541.1,1041.6"/><polyline class="m5" points="536.6,1054.8 546.7,1054.8 555.4,1041.6 536.6,1041.6 546.4,1028.4 536.3,1028.4"/><polyline class="m6" points="558.1,1054.8 549.6,1054.8 548.7,1015.2"/><polyline class="m4" points="562.3,1054.8 535.9,1054.8 540.2,1054.8"/><polyline class="m1" points="550.2,1054.8 559.5,1054.8"/>
<polyline class="m2" points="713.9,1147.2 685.4,1147.2 710,1147.2 711,1147.2 699.7,1147.2 685.9,1147.2 706.6,1134 690.3,1134 713.9,1120.8 699.2,1120.8"/><polyline class="m7" points="687.4,1134"/><polyline class="m6" points="692.8,1147.2 692.3,1134"/><polyline class="m0" points="694.7,1147.2 686.9,1147.2 709,1134 697.7,1134 705.1,1134 695.7,1134 705.6,1120.8"/><polyline class="m5" points="696.7,1134"/><polyline class="m1" points="713,1147.2 690.8,1147.2 705.6,1147.2 702.1,1147.2 692.3,1147.2 697.7,1147.2 685.4,1134 710,1134 705.6,1134 692.8,1134 685.9,1134 701.6,1134 713,1120.8 686.9,1120.8 696.7,1120.8 694.7,1120.8 693.3,1120.8"/><polyline class="m3" points="712.5,1147.2 713.9,1134 712,1120.8"/><polyline class="m4" points="693.8,1134 692.8,1120.8"/><polyline class="m8" points="697.2,1107.6 687.4,1107.6 710,1094.4"/><polyline class="m5" points="702.1,1094.4"/><polyline class="m6" points="694.7,1107.6 713.9,1094.4 685.9,1094.4"/><polyline class="m1" points="707,1120.8 703.1,1107.6 712,1094.4 699.2,1081.2 702.6,1081.2 697.7,1081.2"/><polyline class="m2" points="709,1120.8 693.3,1107.6 685.9,1107.6 713.9,1107.6 690.3,1107.6 692.3,1107.6 713,1107.6 704.6,1107.6 713.4,1094.4 693.3,1094.4 711,1094.4 685.4,1081.2 713.9,1081.2 695.7,1081.2"/><polyline class="m3" points="711,1107.6 705.6,1107.6 690.3,1094.4 706.6,1094.4 690.3,1081.2"/><polyline class="m0" points="702.1,1120.8 685.4,1120.8 685.4,1107.6 685.4,1094.4 699.2,1094.4"/><polyline class="m12" points="686.9,1094.4"/><polyline class="m4" points="690.3,1120.8 710,1107.6 699.2,1107.6 696.7,1094.4"/><polyline class="m15" points="686.4,1041.6"/><polyline class="m14" points="712,1041.6"/><polyline class="m7" points="708,1081.2"/><polyline class="m9" points="690.3,1054.8 690.3,1041.6"/><polyline class="m4" points="690.3,1068 710.5,1068 697.2,1068 707,1054.8 702.1,1054.8"/><polyline class="m1" points="697.2,1081.2 705.6,1081.2 710,1081.2 713.4,1068 707,1068"/><polyline class="m8" points="692.3,1041.6"/><polyline class="m6" points="695.2,1068 686.9,1054.8"/><polyline class="m3" points="692.8,1081.2 713.9,1068 686.9,1068 685.4,1054.8 705.6,1054.8 709.5,1054.8 694.7,1054.8"/><polyline class="m2" points="686.9,1081.2 685.4,1068 711,1054.8 713.4,1041.6"/><polyline class="m5" points="712.5,1081.2 700.2,1068 703.1,1068 713.9,1054.8 685.9,1054.8 699.7,1054.8 686.4,1054.8 686.9,1041.6"/><polyline class="m11" points="685.9,1068"/><polyline class="m13" points="685.4,1041.6"/><polyline class="m0" points="697.7,1068"/><polyline class="m12" points="692.8,1068 692.8,1054.8"/><polyline class="m6" points="694.7,1041.6 702.1,1041.6 705.6,1015.2"/><polyline class="m15" points="685.4,1028.4"/><polyline class="m13" points="692.3,1028.4 700.7,1028.4 703.6,1028.4 694.7,1015.2"/><polyline class="m10" points="710,1041.6 709,1015.2 713.4,1015.2 702.1,1015.2"/><polyline class="m4" points="707,1028.4 699.2,1028.4 713,1015.2 692.8,1015.2"/><polyline class="m3" points="693.3,1041.6 705.6,1028.4"/><polyline class="m7" points="705.1,1028.4 708,1015.2"/><polyline class="m9" points="713,1028.4 711,1028.4 697.7,1015.2"/><polyline class="m5" points="706.6,1041.6"/><polyline class="m14" points="706.1,1041.6 695.2,1028.4 709.5,1028.4 713.9,1015.2 686.9,1015.2 685.4,1015.2 706.6,1015.2 692.3,1015.2 690.3,1015.2 699.2,1015.2"/><polyline class="m8" points="698.7,1041.6 697.7,1041.6 713.9,1028.4 687.4,1028.4 686.4,1028.4"/><polyline class="m12" points="690.3,1028.4 697.2,1028.4 707,1015.2"/>
<polyline class="m7" points="845.7,1134 849.4,1120.8"/><polyline class="m4" points="845.7,1120.8"/><polyline class="m2" points="864.3,1147.2 834.6,1147.2 845.7,1147.2 849.4,1134"/><polyline class="m1" points="830.9,1147.2 868,1147.2 838.3,1147.2 856.9,1147.2 830.9,1134 864.3,1134 868,1134 842,1134 856.9,1134 868,1120.8"/><polyline class="m6" points="834.6,1134"/><polyline class="m0" points="849.4,1147.2 853.2,1147.2 853.2,1134 838.3,1134 830.9,1120.8"/><polyline class="m3" points="842,1147.2 864.3,1120.8 842,1120.8"/><polyline class="m2" points="864.3,1107.6 834.6,1107.6 842,1107.6 838.3,1107.6 864.3,1094.4 838.3,1094.4 842,1081.2"/><polyline class="m3" points="834.6,1120.8 830.9,1107.6 834.6,1094.4 845.7,1094.4"/><polyline class="m5" points="845.7,1107.6 856.9,1094.4"/><polyline class="m10" points="864.3,1081.2"/><polyline class="m4" points="856.9,1107.6 842,1094.4 834.6,1081.2"/><polyline class="m8" points="849.4,1094.4"/><polyline class="m1" points="838.3,1120.8 868,1107.6 830.9,1094.4 830.9,1081.2"/><polyline class="m0" points="856.9,1120.8 849.4,1107.6 868,1094.4 868,1081.2"/><polyline class="m9" points="845.7,1068 845.7,1054.8"/><polyline class="m6" points="842,1054.8 868,1054.8"/><polyline class="m14" points="860.6,1068"/><polyline class="m1" points="856.9,1081.2 838.3,1081.2 849.4,1081.2 838.3,1068 856.9,1068 834.6,1054.8 830.9,1054.8 864.3,1054.8"/><polyline class="m4" points="834.6,1068 838.3,1054.8"/><polyline class="m3" points="842,1068 868,1068 830.9,1068 849.4,1054.8"/><polyline class="m7" points="845.7,1081.2"/><polyline class="m5" points="856.9,1054.8 868,1041.6"/><polyline class="m2" points="849.4,1068 864.3,1068 830.9,1041.6"/><polyline class="m4" points="830.9,1015.2"/><polyline class="m10" points="834.6,1028.4 845.7,1028.4 845.7,1015.2 838.3,1015.2"/><polyline class="m2" points="842,1028.4"/><polyline class="m6" points="834.6,1041.6 849.4,1028.4"/><polyline class="m14" points="856.9,1041.6 856.9,1015.2"/><polyline class="m5" points="849.4,1041.6 868,1015.2"/><polyline class="m9" points="845.7,1041.6 842,1041.6 842,1015.2"/><polyline class="m1" points="864.3,1041.6 864.3,1015.2"/><polyline class="m8" points="864.3,1028.4"/><polyline class="m7" points="856.9,1028.4 849.4,1015.2"/><polyline class="m12" points="838.3,1028.4"/><polyline class="m3" points="838.3,1041.6 830.9,1028.4 868,1028.4 834.6,1015.2"/>
<polyline class="m0" points="1023.2,1147.2 1023.2,1134 1001.8,1120.8 1023.2,1094.4"/><polyline class="m2" points="980.4,1147.2 1023.2,1120.8 1023.2,1107.6 1001.8,1107.6 1001.8,1094.4 1023.2,1081.2"/><polyline class="m4" points="980.4,1120.8"/><polyline class="m3" points="980.4,1107.6 980.4,1081.2"/><polyline class="m5" points="980.4,1134 980.4,1094.4"/><polyline class="m1" points="1001.8,1147.2 1001.8,1134"/><polyline class="m3" points="1023.2,1068 1001.8,1054.8 1023.2,1041.6 1001.8,1041.6"/><polyline class="m7" points="1001.8,1015.2"/><polyline class="m12" points="1001.8,1028.4"/><polyline class="m4" points="980.4,1054.8"/><polyline class="m13" points="980.4,1028.4"/><polyline class="m11" points="980.4,1068"/><polyline class="m1" points="1001.8,1081.2 1001.8,1068 1023.2,1054.8 1023.2,1028.4 1023.2,1015.2"/><polyline class="m14" points="980.4,1041.6 980.4,1015.2"/>
<polyline class="m6" points="1159.4,1120.8"/><polyline class="m5" points="1165.9,1094.4"/><polyline class="m3" points="1159.4,1068"/><polyline class="m1" points="1165.9,1147.2 1165.9,1134 1139.9,1120.8 1159.4,1094.4 1139.9,1094.4 1165.9,1081.2 1165.9,1068"/><polyline class="m2" points="1139.9,1134 1139.9,1107.6 1165.9,1107.6 1139.9,1081.2"/><polyline class="m0" points="1165.9,1120.8"/><polyline class="m10" points="1159.4,1054.8"/><polyline class="m4" points="1139.9,1068"/><polyline class="m2" points="1139.9,1054.8"/><polyline class="m10" points="1139.9,1015.2"/><polyline class="m3" points="1159.4,1041.6 1146.4,1041.6"/><polyline class="m4" points="1165.9,1054.8 1159.4,1015.2"/><polyline class="m14" points="1165.9,1041.6 1146.4,1028.4 1152.9,1015.2"/><polyline class="m12" points="1165.9,1028.4 1146.4,1015.2"/><polyline class="m7" points="1139.9,1028.4 1165.9,1015.2"/><polyline class="m8" points="1159.4,1028.4"/><polyline class="m6" points="1146.4,1054.8 1139.9,1041.6"/>
<polyline class="m1" points="1273,1147.2 1279.1,1147.2 1281.5,1147.2 1284.4,1147.2"/><polyline class="m10" points="1310.4,1147.2 1306,1147.2"/><polyline class="m14" points="1323.4,1147.2 1311.7,1147.2 1314.7,1134"/><polyline class="m5" points="1296.4,1147.2"/><polyline class="m8" points="1298.8,1147.2"/><polyline class="m12" points="1318,1147.2"/><polyline class="m0" points="1273.9,1147.2 1277.4,1147.2 1278.4,1147.2 1272.8,1134"/><polyline class="m11" points="1305.3,1147.2 1301,1147.2"/><polyline class="m4" points="1289.7,1147.2 1293.6,1147.2 1286.7,1147.2"/><polyline class="m13" points="1315.6,1147.2"/><polyline class="m7" points="1308.3,1147.2"/><polyline class="m6" points="1294.7,1147.2"/><polyline class="m15" points="1327.6,1147.2 1310.9,1147.2 1317.2,1147.2"/><polyline class="m2" points="1285.9,1147.2"/><polyline class="m5" points="1290.8,1134 1287.8,1134"/><polyline class="m12" points="1313.4,1134 1298.2,1134"/><polyline class="m8" points="1303.8,1134 1299.8,1134"/><polyline class="m14" points="1323.6,1134 1314.5,1120.8"/><polyline class="m0" points="1276.6,1134 1273.6,1134 1278.6,1134 1279.8,1134 1272.8,1120.8 1277.1,1120.8"/><polyline class="m9" points="1303.1,1134"/><polyline class="m15" points="1319.1,1134 1308.9,1134 1306.3,1134 1310.9,1134 1316.1,1120.8 1311.8,1120.8 1308.2,1120.8 1307.1,1120.8"/><polyline class="m3" points="1295.9,1134"/><polyline class="m4" points="1293.6,1134"/><polyline class="m1" points="1284,1134 1281,1134"/><polyline class="m1" points="1284.9,1120.8"/><polyline class="m8" points="1299.8,1120.8"/><polyline class="m12" points="1310.5,1107.6 1308.4,1107.6"/><polyline class="m2" points="1283.2,1120.8"/><polyline class="m0" points="1277.8,1120.8 1280.1,1120.8 1273.4,1107.6 1277.1,1107.6"/><polyline class="m6" points="1292.3,1107.6 1296.6,1107.6"/><polyline class="m11" points="1296.2,1120.8 1302.6,1107.6"/><polyline class="m9" points="1302.3,1120.8"/><polyline class="m15" points="1306.6,1120.8 1303,1120.8 1314.4,1107.6 1313,1107.6 1322.6,1107.6"/><polyline class="m14" points="1317.9,1107.6 1300.6,1107.6"/><polyline class="m13" points="1305.2,1107.6"/><polyline class="m7" points="1293.6,1120.8"/><polyline class="m4" points="1289.2,1120.8"/><polyline class="m3" points="1290.8,1120.8"/><polyline class="m10" points="1300.8,1120.8 1298.1,1107.6"/><polyline class="m1" points="1273.4,1094.4 1279.7,1094.4"/><polyline class="m7" points="1289,1107.6 1296.7,1094.4"/><polyline class="m12" points="1296.2,1094.4"/><polyline class="m0" points="1278.7,1107.6 1278.1,1094.4 1281.3,1094.4"/><polyline class="m6" points="1292,1094.4"/><polyline class="m2" points="1280.1,1107.6 1281.1,1107.6 1286.4,1107.6 1284.8,1107.6 1283.7,1094.4 1282.6,1094.4"/><polyline class="m9" points="1299.4,1107.6"/><polyline class="m8" points="1293.8,1107.6 1299.3,1094.4 1295,1094.4"/><polyline class="m14" points="1315.5,1094.4 1309.9,1094.4 1301.3,1094.4"/><polyline class="m4" points="1282.2,1107.6"/><polyline class="m15" points="1316.2,1094.4 1310.4,1094.4 1308.4,1094.4 1304.4,1094.4"/><polyline class="m13" points="1300.3,1081.2 1313.4,1081.2"/><polyline class="m8" points="1290.5,1081.2 1293.3,1081.2"/><polyline class="m9" points="1301.9,1081.2 1296.1,1081.2"/><polyline class="m5" points="1287,1094.4 1288.5,1081.2"/><polyline class="m4" points="1284.3,1081.2"/><polyline class="m3" points="1289,1081.2 1286.3,1081.2"/><polyline class="m14" points="1307.4,1081.2 1305.3,1081.2 1312.1,1068"/><polyline class="m1" points="1272.9,1081.2 1273.3,1081.2 1273.8,1081.2 1278.2,1081.2 1281.4,1081.2 1280.5,1081.2"/><polyline class="m10" points="1289.1,1094.4 1310.4,1081.2"/><polyline class="m15" points="1301,1081.2 1304.4,1081.2 1307.5,1068 1309.2,1068"/><polyline class="m0" points="1272.8,1068"/><polyline class="m4" points="1282.2,1068 1285,1068"/><polyline class="m11" points="1296,1068 1303.9,1068 1298.8,1054.8"/><polyline class="m12" points="1314,1068 1303.3,1068 1288.4,1054.8"/><polyline class="m6" points="1291.2,1068"/><polyline class="m5" points="1288.6,1068 1284.9,1054.8 1287,1054.8"/><polyline class="m3" points="1279.9,1054.8"/><polyline class="m10" points="1299,1068"/><polyline class="m0" points="1276.5,1068 1277.3,1068"/><polyline class="m9" points="1292.4,1054.8 1288.9,1054.8"/><polyline class="m15" points="1301.4,1054.8 1305.2,1054.8"/><polyline class="m14" points="1294.8,1054.8 1300.1,1054.8"/><polyline class="m1" points="1278.1,1068 1279.3,1068 1280.1,1068 1272.9,1054.8 1276.9,1054.8"/><polyline class="m2" points="1273.1,1028.4"/><polyline class="m11" points="1293,1041.6 1305.3,1028.4"/><polyline class="m12" points="1298.1,1041.6"/><polyline class="m8" points="1286.5,1041.6"/><polyline class="m1" points="1277,1041.6 1273,1041.6 1277.9,1041.6"/><polyline class="m13" points="1301.6,1041.6 1297.5,1041.6 1295.5,1041.6"/><polyline class="m5" points="1284.2,1041.6 1282.2,1041.6"/><polyline class="m14" points="1304.5,1041.6 1301,1041.6 1289.6,1041.6 1301,1028.4 1289.2,1028.4"/><polyline class="m15" points="1305.7,1041.6 1303.6,1041.6 1301.5,1028.4 1306.5,1028.4 1290.5,1028.4 1293.9,1028.4"/><polyline class="m3" points="1281.1,1041.6 1277.5,1028.4"/><polyline class="m4" points="1282.5,1054.8"/><polyline class="m14" points="1298.4,1028.4 1295,1028.4 1302.1,1015.2 1291.2,1015.2 1290.2,1015.2 1283.8,1015.2 1288.8,1015.2"/><polyline class="m2" points="1273.2,1015.2"/><polyline class="m15" points="1304.6,1015.2 1303.5,1015.2 1302.4,1015.2 1301.5,1015.2 1297.4,1015.2"/><polyline class="m4" points="1279.5,1028.4 1278.1,1015.2"/><polyline class="m8" points="1288.1,1028.4"/><polyline class="m12" points="1283.5,1028.4 1300.6,1015.2 1287.1,1015.2"/><polyline class="m6" points="1279.8,1015.2"/><polyline class="m3" points="1278.9,1028.4"/><polyline class="m13" points="1288.7,1028.4 1286.9,1028.4 1293.7,1015.2 1299.7,1015.2"/><polyline class="m7" points="1282.1,1028.4 1281.3,1015.2"/></g>
<path d="M482.6 89.5V234.4H616.4M506.9 234.4v3.2M535.9 234.4v3.2M564.9 234.4v3.2M593.9 234.4v3.2M482.6 227.9h-3.2M482.6 199.3h-3.2M482.6 170.7h-3.2M482.6 142.1h-3.2M482.6 113.5h-3.2M633.5 89.5V234.4H767.3M636.2 234.4v3.2M685.4 234.4v3.2M734.6 234.4v3.2M633.5 227.9h-3.2M633.5 199.3h-3.2M633.5 170.7h-3.2M633.5 142.1h-3.2M633.5 113.5h-3.2M784.4 89.5V234.4H918.2M793.8 234.4v3.2M830.9 234.4v3.2M868 234.4v3.2M905.1 234.4v3.2M784.4 227.9h-3.2M784.4 199.3h-3.2M784.4 170.7h-3.2M784.4 142.1h-3.2M784.4 113.5h-3.2M935.4 89.5V234.4H1069.2M937.6 234.4v3.2M980.4 234.4v3.2M1023.2 234.4v3.2M1066 234.4v3.2M935.4 227.9h-3.2M935.4 199.3h-3.2M935.4 170.7h-3.2M935.4 142.1h-3.2M935.4 113.5h-3.2M1086.3 89.5V234.4H1220.1M1107.4 234.4v3.2M1139.9 234.4v3.2M1172.4 234.4v3.2M1204.9 234.4v3.2M1086.3 227.9h-3.2M1086.3 199.3h-3.2M1086.3 170.7h-3.2M1086.3 142.1h-3.2M1086.3 113.5h-3.2M1237.2 89.5V234.4H1371M1272.7 234.4v3.2M1320.8 234.4v3.2M1368.8 234.4v3.2M1237.2 227.9h-3.2M1237.2 199.3h-3.2M1237.2 170.7h-3.2M1237.2 142.1h-3.2M1237.2 113.5h-3.2M1388.1 89.5V234.4H1521.9M1409.9 234.4v3.2M1438.2 234.4v3.2M1466.5 234.4v3.2M1494.9 234.4v3.2M1388.1 227.9h-3.2M1388.1 199.3h-3.2M1388.1 170.7h-3.2M1388.1 142.1h-3.2M1388.1 113.5h-3.2M482.6 242.8V387.7H616.4M506.9 387.7v3.2M535.9 387.7v3.2M564.9 387.7v3.2M593.9 387.7v3.2M482.6 380.7h-3.2M482.6 357.6h-3.2M482.6 334.5h-3.2M482.6 311.4h-3.2M482.6 288.3h-3.2M482.6 265.2h-3.2M633.5 242.8V387.7H767.3M636.2 387.7v3.2M685.4 387.7v3.2M734.6 387.7v3.2M633.5 380.7h-3.2M633.5 357.6h-3.2M633.5 334.5h-3.2M633.5 311.4h-3.2M633.5 288.3h-3.2M633.5 265.2h-3.2M784.4 242.8V387.7H918.2M793.8 387.7v3.2M830.9 387.7v3.2M868 387.7v3.2M905.1 387.7v3.2M784.4 380.7h-3.2M784.4 357.6h-3.2M784.4 334.5h-3.2M784.4 311.4h-3.2M784.4 288.3h-3.2M784.4 265.2h-3.2M935.4 242.8V387.7H1069.2M937.6 387.7v3.2M980.4 387.7v3.2M1023.2 387.7v3.2M1066 387.7v3.2M935.4 380.7h-3.2M935.4 357.6h-3.2M935.4 334.5h-3.2M935.4 311.4h-3.2M935.4 288.3h-3.2M935.4 265.2h-3.2M1086.3 242.8V387.7H1220.1M1107.4 387.7v3.2M1139.9 387.7v3.2M1172.4 387.7v3.2M1204.9 387.7v3.2M1086.3 380.7h-3.2M1086.3 357.6h-3.2M1086.3 334.5h-3.2M1086.3 311.4h-3.2M1086.3 288.3h-3.2M1086.3 265.2h-3.2M1237.2 242.8V387.7H1371M1272.7 387.7v3.2M1320.8 387.7v3.2M1368.8 387.7v3.2M1237.2 380.7h-3.2M1237.2 357.6h-3.2M1237.2 334.5h-3.2M1237.2 311.4h-3.2M1237.2 288.3h-3.2M1237.2 265.2h-3.2M1388.1 242.8V387.7H1521.9M1409.9 387.7v3.2M1438.2 387.7v3.2M1466.5 387.7v3.2M1494.9 387.7v3.2M1388.1 380.7h-3.2M1388.1 357.6h-3.2M1388.1 334.5h-3.2M1388.1 311.4h-3.2M1388.1 288.3h-3.2M1388.1 265.2h-3.2M482.6 396.1V541H616.4M506.9 541v3.2M535.9 541v3.2M564.9 541v3.2M593.9 541v3.2M482.6 534.4h-3.2M482.6 508h-3.2M482.6 481.5h-3.2M482.6 455.1h-3.2M482.6 428.6h-3.2M482.6 402.2h-3.2M633.5 396.1V541H767.3M636.2 541v3.2M685.4 541v3.2M734.6 541v3.2M633.5 534.4h-3.2M633.5 508h-3.2M633.5 481.5h-3.2M633.5 455.1h-3.2M633.5 428.6h-3.2M633.5 402.2h-3.2M784.4 396.1V541H918.2M793.8 541v3.2M830.9 541v3.2M868 541v3.2M905.1 541v3.2M784.4 534.4h-3.2M784.4 508h-3.2M784.4 481.5h-3.2M784.4 455.1h-3.2M784.4 428.6h-3.2M784.4 402.2h-3.2M935.4 396.1V541H1069.2M937.6 541v3.2M980.4 541v3.2M1023.2 541v3.2M1066 541v3.2M935.4 534.4h-3.2M935.4 508h-3.2M935.4 481.5h-3.2M935.4 455.1h-3.2M935.4 428.6h-3.2M935.4 402.2h-3.2M1086.3 396.1V541H1220.1M1107.4 541v3.2M1139.9 541v3.2M1172.4 541v3.2M1204.9 541v3.2M1086.3 534.4h-3.2M1086.3 508h-3.2M1086.3 481.5h-3.2M1086.3 455.1h-3.2M1086.3 428.6h-3.2M1086.3 402.2h-3.2M1237.2 396.1V541H1371M1272.7 541v3.2M1320.8 541v3.2M1368.8 541v3.2M1237.2 534.4h-3.2M1237.2 508h-3.2M1237.2 481.5h-3.2M1237.2 455.1h-3.2M1237.2 428.6h-3.2M1237.2 402.2h-3.2M1388.1 396.1V541H1521.9M1409.9 541v3.2M1438.2 541v3.2M1466.5 541v3.2M1494.9 541v3.2M1388.1 534.4h-3.2M1388.1 508h-3.2M1388.1 481.5h-3.2M1388.1 455.1h-3.2M1388.1 428.6h-3.2M1388.1 402.2h-3.2M482.6 549.3V694.2H616.4M506.9 694.2v3.2M535.9 694.2v3.2M564.9 694.2v3.2M593.9 694.2v3.2M482.6 687.4h-3.2M482.6 654.4h-3.2M482.6 621.4h-3.2M482.6 588.5h-3.2M482.6 555.5h-3.2M633.5 549.3V694.2H767.3M636.2 694.2v3.2M685.4 694.2v3.2M734.6 694.2v3.2M633.5 687.4h-3.2M633.5 654.4h-3.2M633.5 621.4h-3.2M633.5 588.5h-3.2M633.5 555.5h-3.2M784.4 549.3V694.2H918.2M793.8 694.2v3.2M830.9 694.2v3.2M868 694.2v3.2M905.1 694.2v3.2M784.4 687.4h-3.2M784.4 654.4h-3.2M784.4 621.4h-3.2M784.4 588.5h-3.2M784.4 555.5h-3.2M935.4 549.3V694.2H1069.2M937.6 694.2v3.2M980.4 694.2v3.2M1023.2 694.2v3.2M1066 694.2v3.2M935.4 687.4h-3.2M935.4 654.4h-3.2M935.4 621.4h-3.2M935.4 588.5h-3.2M935.4 555.5h-3.2M1086.3 549.3V694.2H1220.1M1107.4 694.2v3.2M1139.9 694.2v3.2M1172.4 694.2v3.2M1204.9 694.2v3.2M1086.3 687.4h-3.2M1086.3 654.4h-3.2M1086.3 621.4h-3.2M1086.3 588.5h-3.2M1086.3 555.5h-3.2M1237.2 549.3V694.2H1371M1272.7 694.2v3.2M1320.8 694.2v3.2M1368.8 694.2v3.2M1237.2 687.4h-3.2M1237.2 654.4h-3.2M1237.2 621.4h-3.2M1237.2 588.5h-3.2M1237.2 555.5h-3.2M1388.1 549.3V694.2H1521.9M1409.9 694.2v3.2M1438.2 694.2v3.2M1466.5 694.2v3.2M1494.9 694.2v3.2M1388.1 687.4h-3.2M1388.1 654.4h-3.2M1388.1 621.4h-3.2M1388.1 588.5h-3.2M1388.1 555.5h-3.2M482.6 702.6V847.5H616.4M506.9 847.5v3.2M535.9 847.5v3.2M564.9 847.5v3.2M593.9 847.5v3.2M482.6 840.7h-3.2M482.6 807.5h-3.2M482.6 774.4h-3.2M482.6 741.2h-3.2M482.6 708h-3.2M633.5 702.6V847.5H767.3M636.2 847.5v3.2M685.4 847.5v3.2M734.6 847.5v3.2M633.5 840.7h-3.2M633.5 807.5h-3.2M633.5 774.4h-3.2M633.5 741.2h-3.2M633.5 708h-3.2M784.4 702.6V847.5H918.2M793.8 847.5v3.2M830.9 847.5v3.2M868 847.5v3.2M905.1 847.5v3.2M784.4 840.7h-3.2M784.4 807.5h-3.2M784.4 774.4h-3.2M784.4 741.2h-3.2M784.4 708h-3.2M935.4 702.6V847.5H1069.2M937.6 847.5v3.2M980.4 847.5v3.2M1023.2 847.5v3.2M1066 847.5v3.2M935.4 840.7h-3.2M935.4 807.5h-3.2M935.4 774.4h-3.2M935.4 741.2h-3.2M935.4 708h-3.2M1086.3 702.6V847.5H1220.1M1107.4 847.5v3.2M1139.9 847.5v3.2M1172.4 847.5v3.2M1204.9 847.5v3.2M1086.3 840.7h-3.2M1086.3 807.5h-3.2M1086.3 774.4h-3.2M1086.3 741.2h-3.2M1086.3 708h-3.2M1237.2 702.6V847.5H1371M1272.7 847.5v3.2M1320.8 847.5v3.2M1368.8 847.5v3.2M1237.2 840.7h-3.2M1237.2 807.5h-3.2M1237.2 774.4h-3.2M1237.2 741.2h-3.2M1237.2 708h-3.2M1388.1 702.6V847.5H1521.9M1409.9 847.5v3.2M1438.2 847.5v3.2M1466.5 847.5v3.2M1494.9 847.5v3.2M1388.1 840.7h-3.2M1388.1 807.5h-3.2M1388.1 774.4h-3.2M1388.1 741.2h-3.2M1388.1 708h-3.2M482.6 855.9V1000.8H616.4M506.9 1000.8v3.2M535.9 1000.8v3.2M564.9 1000.8v3.2M593.9 1000.8v3.2M482.6 995.1h-3.2M482.6 971.7h-3.2M482.6 948.3h-3.2M482.6 924.9h-3.2M482.6 901.5h-3.2M482.6 878.1h-3.2M633.5 855.9V1000.8H767.3M636.2 1000.8v3.2M685.4 1000.8v3.2M734.6 1000.8v3.2M633.5 995.1h-3.2M633.5 971.7h-3.2M633.5 948.3h-3.2M633.5 924.9h-3.2M633.5 901.5h-3.2M633.5 878.1h-3.2M784.4 855.9V1000.8H918.2M793.8 1000.8v3.2M830.9 1000.8v3.2M868 1000.8v3.2M905.1 1000.8v3.2M784.4 995.1h-3.2M784.4 971.7h-3.2M784.4 948.3h-3.2M784.4 924.9h-3.2M784.4 901.5h-3.2M784.4 878.1h-3.2M935.4 855.9V1000.8H1069.2M937.6 1000.8v3.2M980.4 1000.8v3.2M1023.2 1000.8v3.2M1066 1000.8v3.2M935.4 995.1h-3.2M935.4 971.7h-3.2M935.4 948.3h-3.2M935.4 924.9h-3.2M935.4 901.5h-3.2M935.4 878.1h-3.2M1086.3 855.9V1000.8H1220.1M1107.4 1000.8v3.2M1139.9 1000.8v3.2M1172.4 1000.8v3.2M1204.9 1000.8v3.2M1086.3 995.1h-3.2M1086.3 971.7h-3.2M1086.3 948.3h-3.2M1086.3 924.9h-3.2M1086.3 901.5h-3.2M1086.3 878.1h-3.2M1237.2 855.9V1000.8H1371M1272.7 1000.8v3.2M1320.8 1000.8v3.2M1368.8 1000.8v3.2M1237.2 995.1h-3.2M1237.2 971.7h-3.2M1237.2 948.3h-3.2M1237.2 924.9h-3.2M1237.2 901.5h-3.2M1237.2 878.1h-3.2M1388.1 855.9V1000.8H1521.9M1409.9 1000.8v3.2M1438.2 1000.8v3.2M1466.5 1000.8v3.2M1494.9 1000.8v3.2M1388.1 995.1h-3.2M1388.1 971.7h-3.2M1388.1 948.3h-3.2M1388.1 924.9h-3.2M1388.1 901.5h-3.2M1388.1 878.1h-3.2M482.6 1009.2V1154.1H616.4M506.9 1154.1v3.2M535.9 1154.1v3.2M564.9 1154.1v3.2M593.9 1154.1v3.2M482.6 1134h-3.2M482.6 1107.6h-3.2M482.6 1081.2h-3.2M482.6 1054.8h-3.2M482.6 1028.4h-3.2M633.5 1009.2V1154.1H767.3M636.2 1154.1v3.2M685.4 1154.1v3.2M734.6 1154.1v3.2M633.5 1134h-3.2M633.5 1107.6h-3.2M633.5 1081.2h-3.2M633.5 1054.8h-3.2M633.5 1028.4h-3.2M784.4 1009.2V1154.1H918.2M793.8 1154.1v3.2M830.9 1154.1v3.2M868 1154.1v3.2M905.1 1154.1v3.2M784.4 1134h-3.2M784.4 1107.6h-3.2M784.4 1081.2h-3.2M784.4 1054.8h-3.2M784.4 1028.4h-3.2M935.4 1009.2V1154.1H1069.2M937.6 1154.1v3.2M980.4 1154.1v3.2M1023.2 1154.1v3.2M1066 1154.1v3.2M935.4 1134h-3.2M935.4 1107.6h-3.2M935.4 1081.2h-3.2M935.4 1054.8h-3.2M935.4 1028.4h-3.2M1086.3 1009.2V1154.1H1220.1M1107.4 1154.1v3.2M1139.9 1154.1v3.2M1172.4 1154.1v3.2M1204.9 1154.1v3.2M1086.3 1134h-3.2M1086.3 1107.6h-3.2M1086.3 1081.2h-3.2M1086.3 1054.8h-3.2M1086.3 1028.4h-3.2M1237.2 1009.2V1154.1H1371M1272.7 1154.1v3.2M1320.8 1154.1v3.2M1368.8 1154.1v3.2M1237.2 1134h-3.2M1237.2 1107.6h-3.2M1237.2 1081.2h-3.2M1237.2 1054.8h-3.2M1237.2 1028.4h-3.2M1388.1 1009.2V1154.1H1521.9M1409.9 1154.1v3.2M1438.2 1154.1v3.2M1466.5 1154.1v3.2M1494.9 1154.1v3.2M1388.1 1134h-3.2M1388.1 1107.6h-3.2M1388.1 1081.2h-3.2M1388.1 1054.8h-3.2M1388.1 1028.4h-3.2" fill="none" stroke="#555" stroke-width=".8"/><circle cx="1548.2" cy="621.2" r="2.5" fill="#414287" stroke="#fff" stroke-width=".5"/><circle cx="1548.2" cy="634.6" r="2.5" fill="#26818e" stroke="#fff" stroke-width=".5"/><circle cx="1548.2" cy="648" r="2.5" fill="#25ac82" stroke="#fff" stroke-width=".5"/><circle cx="1548.2" cy="661.4" r="2.5" fill="#9dd93b" stroke="#fff" stroke-width=".5"/>
<g id="lbl"><text x="506.9" y="1167.2" text-anchor="middle">−250000</text><text x="535.9" y="1167.2" text-anchor="middle">0</text><text x="564.9" y="1167.2" text-anchor="middle">250000</text><text x="593.9" y="1167.2" text-anchor="middle">500000</text><text x="549.5" y="1180" text-anchor="middle">mileage</text><text x="636.2" y="1167.2" text-anchor="middle">−100</text><text x="685.4" y="1167.2" text-anchor="middle">0</text><text x="734.6" y="1167.2" text-anchor="middle">100</text><text x="700.4" y="1180" text-anchor="middle">make</text><text x="793.8" y="1167.2" text-anchor="middle">−10</text><text x="830.9" y="1167.2" text-anchor="middle">0</text><text x="868" y="1167.2" text-anchor="middle">10</text><text x="905.1" y="1167.2" text-anchor="middle">20</text><text x="851.3" y="1180" text-anchor="middle">fuel</text><text x="937.6" y="1167.2" text-anchor="middle">−2</text><text x="980.4" y="1167.2" text-anchor="middle">0</text><text x="1023.2" y="1167.2" text-anchor="middle">2</text><text x="1066" y="1167.2" text-anchor="middle">4</text><text x="1002.3" y="1180" text-anchor="middle">gear</text><text x="1107.4" y="1167.2" text-anchor="middle">−5</text><text x="1139.9" y="1167.2" text-anchor="middle">0</text><text x="1172.4" y="1167.2" text-anchor="middle">5</text><text x="1204.9" y="1167.2" text-anchor="middle">10</text><text x="1153.2" y="1180" text-anchor="middle">offerType</text><text x="1272.7" y="1167.2" text-anchor="middle">0</text><text x="1320.8" y="1167.2" text-anchor="middle">500</text><text x="1368.8" y="1167.2" text-anchor="middle">1000</text><text x="1304.1" y="1180" text-anchor="middle">hp</text><text x="1409.9" y="1167.2" text-anchor="middle">2000</text><text x="1438.2" y="1167.2" text-anchor="middle">2010</text><text x="1466.5" y="1167.2" text-anchor="middle">2020</text><text x="1494.9" y="1167.2" text-anchor="middle">2030</text><text x="1455" y="1180" text-anchor="middle">year</text><text x="475" y="231" text-anchor="end">0</text><text x="475" y="202.4" text-anchor="end">50000</text><text x="475" y="173.8" text-anchor="end">100000</text><text x="475" y="145.2" text-anchor="end">150000</text><text x="475" y="116.6" text-anchor="end">200000</text><text transform="translate(437.4 161.9) rotate(-90)" text-anchor="middle">mileage</text><text x="475" y="383.8" text-anchor="end">0</text><text x="475" y="360.7" text-anchor="end">10</text><text x="475" y="337.6" text-anchor="end">20</text><text x="475" y="314.5" text-anchor="end">30</text><text x="475" y="291.4" text-anchor="end">40</text><text x="475" y="268.3" text-anchor="end">50</text><text transform="translate(459 315.2) rotate(-90)" text-anchor="middle">make</text><text x="475" y="537.5" text-anchor="end">0</text><text x="475" y="511.1" text-anchor="end">2</text><text x="475" y="484.6" text-anchor="end">4</text><text x="475" y="458.2" text-anchor="end">6</text><text x="475" y="431.7" text-anchor="end">8</text><text x="475" y="405.3" text-anchor="end">10</text><text transform="translate(459 468.5) rotate(-90)" text-anchor="middle">fuel</text><text x="475" y="690.5" text-anchor="end">0.0</text><text x="475" y="657.5" text-anchor="end">0.5</text><text x="475" y="624.5" text-anchor="end">1.0</text><text x="475" y="591.6" text-anchor="end">1.5</text><text x="475" y="558.6" text-anchor="end">2.0</text><text transform="translate(456.3 621.8) rotate(-90)" text-anchor="middle">gear</text><text x="475" y="843.8" text-anchor="end">0</text><text x="475" y="810.6" text-anchor="end">1</text><text x="475" y="777.5" text-anchor="end">2</text><text x="475" y="744.3" text-anchor="end">3</text><text x="475" y="711.1" text-anchor="end">4</text><text transform="translate(464.4 775.1) rotate(-90)" text-anchor="middle">offerType</text><text x="475" y="998.2" text-anchor="end">0</text><text x="475" y="974.8" text-anchor="end">100</text><text x="475" y="951.4" text-anchor="end">200</text><text x="475" y="928" text-anchor="end">300</text><text x="475" y="904.6" text-anchor="end">400</text><text x="475" y="881.2" text-anchor="end">500</text><text transform="translate(453.6 928.3) rotate(-90)" text-anchor="middle">hp</text><text x="475" y="1137.1" text-anchor="end">2012</text><text x="475" y="1110.7" text-anchor="end">2014</text><text x="475" y="1084.3" text-anchor="end">2016</text><text x="475" y="1057.9" text-anchor="end">2018</text><text x="475" y="1031.5" text-anchor="end">2020</text><text transform="translate(448.2 1081.6) rotate(-90)" text-anchor="middle">year</text><text x="1555.4" y="611">price</text><text x="1564.8" y="624.3">8000</text><text x="1564.8" y="637.7">16000</text><text x="1564.8" y="651.1">24000</text><text x="1564.8" y="664.5">32000</text></g>
</svg></div>
 <div id="bul"></div>
 <div id="md" class="bl">The Data is well Distributed</div>
</div>
<svg id="wm" viewBox="820 1225 280 132">
 <g opacity=".82" fill="#ddd" stroke="#ddd" stroke-linejoin="round" stroke-linecap="round">
 <text transform="translate(960 1303) scale(.9 1)" x="0" y="0" text-anchor="middle" font-family="'DejaVu Sans','Liberation Sans',sans-serif" font-weight="bold" font-size="76" stroke-width="5" direction="rtl">نفذلي</text>
 <text x="960.5" y="1349" text-anchor="middle" font-family="'Liberation Sans',sans-serif" font-size="36" stroke-width="1.7">nafezly.com</text>
 </g>
</svg>
<svg id="cs" width="240" height="70" viewBox="1660 1280 240 70">
 <defs><clipPath id="csc"><rect x="1669.2" y="1285.8" width="51" height="51" rx="10.5"/></clipPath></defs>
 <g clip-path="url(#csc)"><rect x="1669" y="1285" width="52" height="42" fill="#0f1f38"/><rect x="1669" y="1326.6" width="52" height="11" fill="#1ec9a1"/></g>
 <text x="1694.7" y="1320.2" text-anchor="middle" font-family="'Liberation Sans',sans-serif" font-weight="bold" font-size="32" fill="#fff" textLength="38.5" lengthAdjust="spacingAndGlyphs">CS</text>
 <text x="1727" y="1322.6" font-family="'Liberation Serif',serif" font-size="30" fill="#000" textLength="151" lengthAdjust="spacingAndGlyphs">CamScanner</text>
</svg>
</body></html>
